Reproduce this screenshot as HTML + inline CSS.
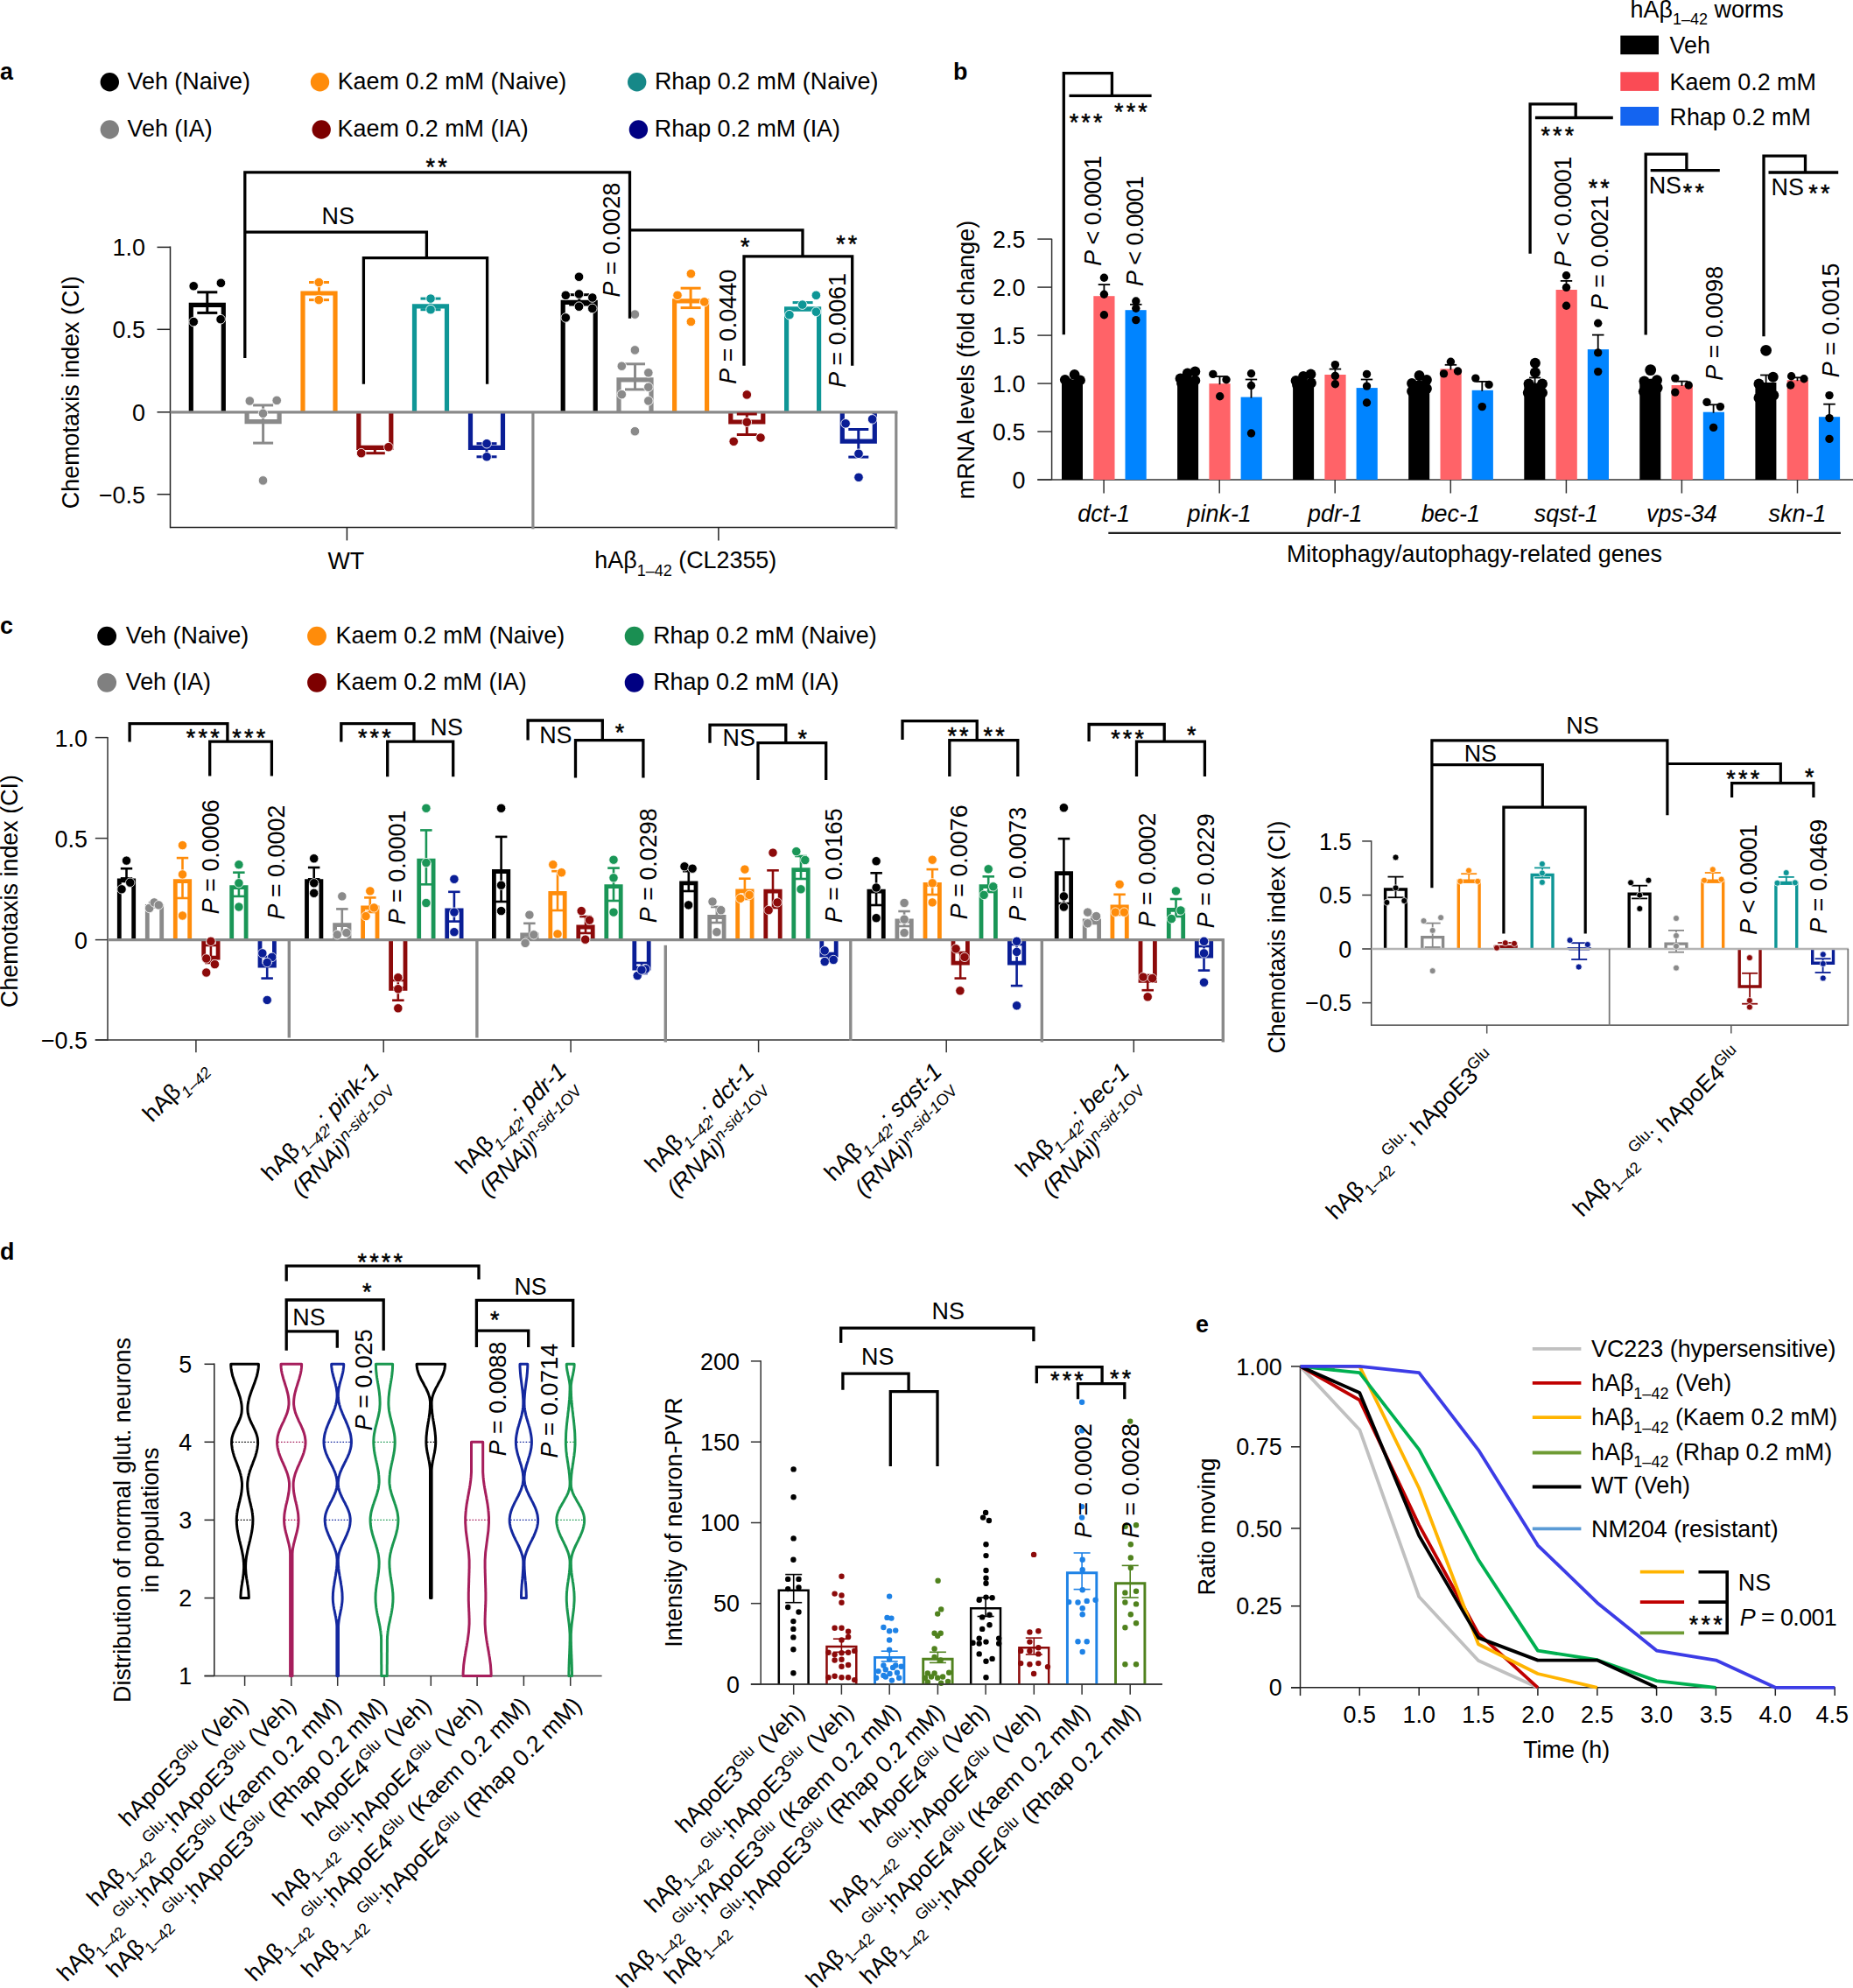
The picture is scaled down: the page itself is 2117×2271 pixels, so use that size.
<!DOCTYPE html>
<html><head><meta charset="utf-8"><title>Figure</title>
<style>
html,body{margin:0;padding:0;background:#fff;}
svg{display:block;}
text{font-family:"Liberation Sans",sans-serif;font-size:26.9px;fill:#000;}
</style></head><body>
<svg width="2117" height="2271" viewBox="0 0 2117 2271">
<rect width="2117" height="2271" fill="#fff"/>
<text font-weight="bold" font-size="30" x="0.0" y="91.0">a</text>
<circle cx="125.3" cy="93.8" r="10.7" fill="#000"/>
<text x="145.5" y="101.8">Veh (Naive)</text>
<circle cx="365.5" cy="93.8" r="10.7" fill="#ff8c0a"/>
<text x="385.7" y="101.8">Kaem 0.2 mM (Naive)</text>
<circle cx="727.7" cy="93.8" r="10.7" fill="#168888"/>
<text x="747.9" y="101.8">Rhap 0.2 mM (Naive)</text>
<circle cx="125.3" cy="148.0" r="10.7" fill="#808080"/>
<text x="145.5" y="155.6">Veh (IA)</text>
<circle cx="367.2" cy="148.0" r="10.7" fill="#7d0000"/>
<text x="385.6" y="155.6">Kaem 0.2 mM (IA)</text>
<circle cx="729.4" cy="148.0" r="10.7" fill="#000082"/>
<text x="747.8" y="155.6">Rhap 0.2 mM (IA)</text>
<line x1="194.5" y1="281.6" x2="194.5" y2="603.2" stroke="#222" stroke-width="1.5"/>
<line x1="194.5" y1="602.5" x2="1024.0" y2="602.5" stroke="#222" stroke-width="1.5"/>
<line x1="179.5" y1="282.4" x2="194.5" y2="282.4" stroke="#222" stroke-width="1.5"/>
<text text-anchor="end" font-size="27.4" x="166.0" y="292.2">1.0</text>
<line x1="179.5" y1="376.3" x2="194.5" y2="376.3" stroke="#222" stroke-width="1.5"/>
<text text-anchor="end" font-size="27.4" x="166.0" y="386.1">0.5</text>
<line x1="179.5" y1="470.8" x2="194.5" y2="470.8" stroke="#222" stroke-width="1.5"/>
<text text-anchor="end" font-size="27.4" x="166.0" y="480.6">0</text>
<line x1="179.5" y1="564.7" x2="194.5" y2="564.7" stroke="#222" stroke-width="1.5"/>
<text text-anchor="end" font-size="27.4" x="166.0" y="574.5">−0.5</text>
<text text-anchor="middle" transform="translate(90.3 448.2) rotate(-90)">Chemotaxis index (CI)</text>
<line x1="396.4" y1="602.5" x2="396.4" y2="617.4" stroke="#222" stroke-width="1.5"/>
<line x1="820.9" y1="602.5" x2="820.9" y2="617.4" stroke="#222" stroke-width="1.5"/>
<text text-anchor="middle" x="395.3" y="650.3">WT</text>
<text x="679.3" y="649.3">hAβ<tspan font-size="18" dy="8.5">1–42</tspan><tspan dy="-8.5"> (CL2355)</tspan></text>
<polyline points="218.3,470.8 218.3,348.4 255.3,348.4 255.3,470.8" fill="none" stroke="#000" stroke-width="5.2" stroke-linejoin="miter"/>
<polyline points="282.1,470.8 282.1,481.6 319.1,481.6 319.1,470.8" fill="none" stroke="#8a8a8a" stroke-width="5.2" stroke-linejoin="miter"/>
<polyline points="346.0,470.8 346.0,335.0 383.0,335.0 383.0,470.8" fill="none" stroke="#ff8c0a" stroke-width="5.2" stroke-linejoin="miter"/>
<polyline points="409.8,470.8 409.8,511.3 446.8,511.3 446.8,470.8" fill="none" stroke="#8c0a0a" stroke-width="5.2" stroke-linejoin="miter"/>
<polyline points="473.5,470.8 473.5,349.8 510.5,349.8 510.5,470.8" fill="none" stroke="#0e9696" stroke-width="5.2" stroke-linejoin="miter"/>
<polyline points="537.5,470.8 537.5,511.3 574.5,511.3 574.5,470.8" fill="none" stroke="#0a1e96" stroke-width="5.2" stroke-linejoin="miter"/>
<polyline points="643.2,470.8 643.2,345.3 680.2,345.3 680.2,470.8" fill="none" stroke="#000" stroke-width="5.2" stroke-linejoin="miter"/>
<polyline points="707.0,470.8 707.0,433.8 744.0,433.8 744.0,470.8" fill="none" stroke="#8a8a8a" stroke-width="5.2" stroke-linejoin="miter"/>
<polyline points="770.6,470.8 770.6,343.9 807.6,343.9 807.6,470.8" fill="none" stroke="#ff8c0a" stroke-width="5.2" stroke-linejoin="miter"/>
<polyline points="834.8,470.8 834.8,482.0 871.8,482.0 871.8,470.8" fill="none" stroke="#8c0a0a" stroke-width="5.2" stroke-linejoin="miter"/>
<polyline points="898.6,470.8 898.6,352.8 935.6,352.8 935.6,470.8" fill="none" stroke="#0e9696" stroke-width="5.2" stroke-linejoin="miter"/>
<polyline points="962.3,470.8 962.3,504.1 999.3,504.1 999.3,470.8" fill="none" stroke="#0a1e96" stroke-width="5.2" stroke-linejoin="miter"/>
<line x1="194.5" y1="470.8" x2="1025.4" y2="470.8" stroke="#8a8a8a" stroke-width="3.2"/>
<line x1="608.9" y1="470.8" x2="608.9" y2="604.3" stroke="#8a8a8a" stroke-width="3.2"/>
<line x1="1023.8" y1="470.8" x2="1023.8" y2="604.3" stroke="#8a8a8a" stroke-width="3.2"/>
<line x1="236.8" y1="333.8" x2="236.8" y2="357.4" stroke="#000" stroke-width="3"/>
<line x1="225.3" y1="333.8" x2="248.3" y2="333.8" stroke="#000" stroke-width="3"/>
<line x1="225.3" y1="357.4" x2="248.3" y2="357.4" stroke="#000" stroke-width="3"/>
<circle cx="221.2" cy="326.8" r="5.3" fill="#000" stroke="#fff" stroke-width="0.9"/>
<circle cx="252.4" cy="323.3" r="5.3" fill="#000" stroke="#fff" stroke-width="0.9"/>
<circle cx="221.2" cy="367.6" r="5.3" fill="#000" stroke="#fff" stroke-width="0.9"/>
<circle cx="252.1" cy="364.7" r="5.3" fill="#000" stroke="#fff" stroke-width="0.9"/>
<line x1="300.6" y1="462.9" x2="300.6" y2="506.1" stroke="#8a8a8a" stroke-width="3"/>
<line x1="289.1" y1="462.9" x2="312.1" y2="462.9" stroke="#8a8a8a" stroke-width="3"/>
<line x1="289.1" y1="506.1" x2="312.1" y2="506.1" stroke="#8a8a8a" stroke-width="3"/>
<circle cx="285.3" cy="458.0" r="5.3" fill="#8a8a8a" stroke="#fff" stroke-width="0.9"/>
<circle cx="316.2" cy="457.4" r="5.3" fill="#8a8a8a" stroke="#fff" stroke-width="0.9"/>
<circle cx="300.5" cy="472.3" r="5.3" fill="#8a8a8a" stroke="#fff" stroke-width="0.9"/>
<circle cx="300.5" cy="548.9" r="5.3" fill="#8a8a8a" stroke="#fff" stroke-width="0.9"/>
<line x1="364.5" y1="322.5" x2="364.5" y2="342.6" stroke="#ff8c0a" stroke-width="3"/>
<line x1="353.0" y1="322.5" x2="376.0" y2="322.5" stroke="#ff8c0a" stroke-width="3"/>
<line x1="353.0" y1="342.6" x2="376.0" y2="342.6" stroke="#ff8c0a" stroke-width="3"/>
<circle cx="364.3" cy="322.5" r="5.3" fill="#ff8c0a" stroke="#fff" stroke-width="0.9"/>
<circle cx="364.3" cy="342.6" r="5.3" fill="#ff8c0a" stroke="#fff" stroke-width="0.9"/>
<line x1="428.3" y1="510.5" x2="428.3" y2="517.7" stroke="#8c0a0a" stroke-width="3"/>
<line x1="416.8" y1="510.5" x2="439.8" y2="510.5" stroke="#8c0a0a" stroke-width="3"/>
<line x1="416.8" y1="517.7" x2="439.8" y2="517.7" stroke="#8c0a0a" stroke-width="3"/>
<circle cx="412.7" cy="517.7" r="5.3" fill="#8c0a0a" stroke="#fff" stroke-width="0.9"/>
<circle cx="443.9" cy="510.7" r="5.3" fill="#8c0a0a" stroke="#fff" stroke-width="0.9"/>
<line x1="492.0" y1="341.1" x2="492.0" y2="353.7" stroke="#0e9696" stroke-width="3"/>
<line x1="480.5" y1="341.1" x2="503.5" y2="341.1" stroke="#0e9696" stroke-width="3"/>
<line x1="480.5" y1="353.7" x2="503.5" y2="353.7" stroke="#0e9696" stroke-width="3"/>
<circle cx="492.0" cy="341.1" r="5.3" fill="#0e9696" stroke="#fff" stroke-width="0.9"/>
<circle cx="492.0" cy="353.7" r="5.3" fill="#0e9696" stroke="#fff" stroke-width="0.9"/>
<line x1="556.0" y1="506.7" x2="556.0" y2="521.8" stroke="#0a1e96" stroke-width="3"/>
<line x1="544.5" y1="506.7" x2="567.5" y2="506.7" stroke="#0a1e96" stroke-width="3"/>
<line x1="544.5" y1="521.8" x2="567.5" y2="521.8" stroke="#0a1e96" stroke-width="3"/>
<circle cx="556.1" cy="506.7" r="5.3" fill="#0a1e96" stroke="#fff" stroke-width="0.9"/>
<circle cx="556.1" cy="521.8" r="5.3" fill="#0a1e96" stroke="#fff" stroke-width="0.9"/>
<line x1="661.7" y1="336.7" x2="661.7" y2="348.0" stroke="#000" stroke-width="3"/>
<line x1="650.2" y1="336.7" x2="673.2" y2="336.7" stroke="#000" stroke-width="3"/>
<line x1="650.2" y1="348.0" x2="673.2" y2="348.0" stroke="#000" stroke-width="3"/>
<circle cx="661.5" cy="316.2" r="5.3" fill="#000" stroke="#fff" stroke-width="0.9"/>
<circle cx="646.3" cy="337.3" r="5.3" fill="#000" stroke="#fff" stroke-width="0.9"/>
<circle cx="661.5" cy="335.9" r="5.3" fill="#000" stroke="#fff" stroke-width="0.9"/>
<circle cx="676.8" cy="340.0" r="5.3" fill="#000" stroke="#fff" stroke-width="0.9"/>
<circle cx="661.5" cy="350.2" r="5.3" fill="#000" stroke="#fff" stroke-width="0.9"/>
<circle cx="676.8" cy="352.4" r="5.3" fill="#000" stroke="#fff" stroke-width="0.9"/>
<circle cx="646.3" cy="362.9" r="5.3" fill="#000" stroke="#fff" stroke-width="0.9"/>
<line x1="725.5" y1="415.8" x2="725.5" y2="444.9" stroke="#8a8a8a" stroke-width="3"/>
<line x1="714.0" y1="415.8" x2="737.0" y2="415.8" stroke="#8a8a8a" stroke-width="3"/>
<line x1="714.0" y1="444.9" x2="737.0" y2="444.9" stroke="#8a8a8a" stroke-width="3"/>
<circle cx="725.4" cy="359.1" r="5.3" fill="#8a8a8a" stroke="#fff" stroke-width="0.9"/>
<circle cx="725.4" cy="399.9" r="5.3" fill="#8a8a8a" stroke="#fff" stroke-width="0.9"/>
<circle cx="710.3" cy="418.2" r="5.3" fill="#8a8a8a" stroke="#fff" stroke-width="0.9"/>
<circle cx="740.8" cy="425.8" r="5.3" fill="#8a8a8a" stroke="#fff" stroke-width="0.9"/>
<circle cx="740.8" cy="442.2" r="5.3" fill="#8a8a8a" stroke="#fff" stroke-width="0.9"/>
<circle cx="710.3" cy="450.6" r="5.3" fill="#8a8a8a" stroke="#fff" stroke-width="0.9"/>
<circle cx="740.8" cy="457.9" r="5.3" fill="#8a8a8a" stroke="#fff" stroke-width="0.9"/>
<circle cx="725.4" cy="492.7" r="5.3" fill="#8a8a8a" stroke="#fff" stroke-width="0.9"/>
<line x1="789.1" y1="329.2" x2="789.1" y2="351.6" stroke="#ff8c0a" stroke-width="3"/>
<line x1="777.6" y1="329.2" x2="800.6" y2="329.2" stroke="#ff8c0a" stroke-width="3"/>
<line x1="777.6" y1="351.6" x2="800.6" y2="351.6" stroke="#ff8c0a" stroke-width="3"/>
<circle cx="789.4" cy="312.7" r="5.3" fill="#ff8c0a" stroke="#fff" stroke-width="0.9"/>
<circle cx="774.0" cy="337.3" r="5.3" fill="#ff8c0a" stroke="#fff" stroke-width="0.9"/>
<circle cx="804.7" cy="344.8" r="5.3" fill="#ff8c0a" stroke="#fff" stroke-width="0.9"/>
<circle cx="789.4" cy="367.5" r="5.3" fill="#ff8c0a" stroke="#fff" stroke-width="0.9"/>
<line x1="853.3" y1="473.0" x2="853.3" y2="496.5" stroke="#8c0a0a" stroke-width="3"/>
<line x1="841.8" y1="473.0" x2="864.8" y2="473.0" stroke="#8c0a0a" stroke-width="3"/>
<line x1="841.8" y1="496.5" x2="864.8" y2="496.5" stroke="#8c0a0a" stroke-width="3"/>
<circle cx="853.3" cy="450.9" r="5.3" fill="#8c0a0a" stroke="#fff" stroke-width="0.9"/>
<circle cx="853.3" cy="482.2" r="5.3" fill="#8c0a0a" stroke="#fff" stroke-width="0.9"/>
<circle cx="838.2" cy="504.3" r="5.3" fill="#8c0a0a" stroke="#fff" stroke-width="0.9"/>
<circle cx="869.0" cy="500.0" r="5.3" fill="#8c0a0a" stroke="#fff" stroke-width="0.9"/>
<line x1="917.1" y1="345.6" x2="917.1" y2="354.0" stroke="#0e9696" stroke-width="3"/>
<line x1="905.6" y1="345.6" x2="928.6" y2="345.6" stroke="#0e9696" stroke-width="3"/>
<line x1="905.6" y1="354.0" x2="928.6" y2="354.0" stroke="#0e9696" stroke-width="3"/>
<circle cx="932.4" cy="337.3" r="5.3" fill="#0e9696" stroke="#fff" stroke-width="0.9"/>
<circle cx="916.7" cy="348.1" r="5.3" fill="#0e9696" stroke="#fff" stroke-width="0.9"/>
<circle cx="901.9" cy="359.7" r="5.3" fill="#0e9696" stroke="#fff" stroke-width="0.9"/>
<circle cx="932.4" cy="356.2" r="5.3" fill="#0e9696" stroke="#fff" stroke-width="0.9"/>
<line x1="980.8" y1="490.5" x2="980.8" y2="522.1" stroke="#0a1e96" stroke-width="3"/>
<line x1="969.3" y1="490.5" x2="992.3" y2="490.5" stroke="#0a1e96" stroke-width="3"/>
<line x1="969.3" y1="522.1" x2="992.3" y2="522.1" stroke="#0a1e96" stroke-width="3"/>
<circle cx="966.1" cy="483.8" r="5.3" fill="#0a1e96" stroke="#fff" stroke-width="0.9"/>
<circle cx="996.6" cy="478.9" r="5.3" fill="#0a1e96" stroke="#fff" stroke-width="0.9"/>
<circle cx="981.0" cy="518.3" r="5.3" fill="#0a1e96" stroke="#fff" stroke-width="0.9"/>
<circle cx="981.0" cy="545.3" r="5.3" fill="#0a1e96" stroke="#fff" stroke-width="0.9"/>
<polyline points="279.8,409.0 279.8,196.8 719.5,196.8 719.5,363.7" fill="none" stroke="#000" stroke-width="3.3" stroke-linejoin="miter"/>
<polyline points="279.8,265.2 487.4,265.2 487.4,294.6" fill="none" stroke="#000" stroke-width="3.3" stroke-linejoin="miter"/>
<polyline points="415.4,438.7 415.4,294.6 556.6,294.6 556.6,438.7" fill="none" stroke="#000" stroke-width="3.3" stroke-linejoin="miter"/>
<polyline points="719.5,262.8 917.0,262.8 917.0,292.8" fill="none" stroke="#000" stroke-width="3.3" stroke-linejoin="miter"/>
<polyline points="850.0,417.7 850.0,292.8 973.7,292.8 973.7,417.7" fill="none" stroke="#000" stroke-width="3.3" stroke-linejoin="miter"/>
<text font-size="31" x="486.6" y="200.3" style="letter-spacing:3.2px" stroke="#000" stroke-width="0.5">**</text>
<text x="367.6" y="255.6">NS</text>
<text font-size="31" x="845.9" y="290.9" style="letter-spacing:3.2px" stroke="#000" stroke-width="0.5">*</text>
<text font-size="31" x="955.2" y="287.9" style="letter-spacing:3.2px" stroke="#000" stroke-width="0.5">**</text>
<text transform="translate(707.9 339.4) rotate(-90)"><tspan font-style="italic">P</tspan> = 0.0028</text>
<text transform="translate(840.6 438.7) rotate(-90)"><tspan font-style="italic">P</tspan> = 0.0440</text>
<text transform="translate(965.6 442.8) rotate(-90)"><tspan font-style="italic">P</tspan> = 0.0061</text>
<text font-weight="bold" font-size="30" x="1089.0" y="91.0">b</text>
<text x="1862.6" y="19.7">hAβ<tspan font-size="18" dy="8.5">1–42</tspan><tspan dy="-8.5"> worms</tspan></text>
<rect x="1851.3" y="40.6" width="43.7" height="21.6" fill="#000"/>
<text x="1907.5" y="61.2">Veh</text>
<rect x="1851.3" y="82.3" width="43.7" height="21.6" fill="#fa4b55"/>
<text x="1907.5" y="102.9">Kaem 0.2 mM</text>
<rect x="1851.3" y="122.0" width="43.7" height="21.6" fill="#1464f0"/>
<text x="1907.5" y="142.6">Rhap 0.2 mM</text>
<line x1="1201.6" y1="272.8" x2="1201.6" y2="548.0" stroke="#333" stroke-width="1.5"/>
<line x1="1185.3" y1="548.0" x2="2117.0" y2="548.0" stroke="#333" stroke-width="1.5"/>
<line x1="1185.3" y1="548.0" x2="1201.6" y2="548.0" stroke="#333" stroke-width="1.5"/>
<text text-anchor="end" x="1171.5" y="557.6">0</text>
<line x1="1185.3" y1="493.0" x2="1201.6" y2="493.0" stroke="#333" stroke-width="1.5"/>
<text text-anchor="end" x="1171.5" y="502.6">0.5</text>
<line x1="1185.3" y1="438.1" x2="1201.6" y2="438.1" stroke="#333" stroke-width="1.5"/>
<text text-anchor="end" x="1171.5" y="447.7">1.0</text>
<line x1="1185.3" y1="383.1" x2="1201.6" y2="383.1" stroke="#333" stroke-width="1.5"/>
<text text-anchor="end" x="1171.5" y="392.7">1.5</text>
<line x1="1185.3" y1="328.1" x2="1201.6" y2="328.1" stroke="#333" stroke-width="1.5"/>
<text text-anchor="end" x="1171.5" y="337.7">2.0</text>
<line x1="1185.3" y1="273.1" x2="1201.6" y2="273.1" stroke="#333" stroke-width="1.5"/>
<text text-anchor="end" x="1171.5" y="282.7">2.5</text>
<text text-anchor="middle" transform="translate(1112.5 411.0) rotate(-90)">mRNA levels (fold change)</text>
<rect x="1213.0" y="433.8" width="24.0" height="114.2" fill="#000"/>
<rect x="1249.3" y="338.2" width="24.2" height="209.8" fill="#ff6368"/>
<rect x="1285.5" y="354.2" width="24.2" height="193.8" fill="#0084ff"/>
<line x1="1261.1" y1="548.0" x2="1261.1" y2="563.5" stroke="#333" stroke-width="1.5"/>
<text text-anchor="middle" font-style="italic" x="1261.1" y="595.6">dct-1</text>
<rect x="1345.1" y="433.8" width="24.0" height="114.2" fill="#000"/>
<rect x="1381.4" y="438.2" width="24.2" height="109.8" fill="#ff6368"/>
<rect x="1417.6" y="453.6" width="24.2" height="94.4" fill="#0084ff"/>
<line x1="1393.2" y1="548.0" x2="1393.2" y2="563.5" stroke="#333" stroke-width="1.5"/>
<text text-anchor="middle" font-style="italic" x="1393.2" y="595.6">pink-1</text>
<rect x="1477.1" y="435.0" width="24.0" height="113.0" fill="#000"/>
<rect x="1513.4" y="428.0" width="24.2" height="120.0" fill="#ff6368"/>
<rect x="1549.6" y="443.1" width="24.2" height="104.9" fill="#0084ff"/>
<line x1="1525.2" y1="548.0" x2="1525.2" y2="563.5" stroke="#333" stroke-width="1.5"/>
<text text-anchor="middle" font-style="italic" x="1525.2" y="595.6">pdr-1</text>
<rect x="1609.2" y="437.0" width="24.0" height="111.0" fill="#000"/>
<rect x="1645.5" y="421.4" width="24.2" height="126.6" fill="#ff6368"/>
<rect x="1681.7" y="445.8" width="24.2" height="102.2" fill="#0084ff"/>
<line x1="1657.3" y1="548.0" x2="1657.3" y2="563.5" stroke="#333" stroke-width="1.5"/>
<text text-anchor="middle" font-style="italic" x="1657.3" y="595.6">bec-1</text>
<rect x="1741.3" y="437.6" width="24.0" height="110.4" fill="#000"/>
<rect x="1777.6" y="331.0" width="24.2" height="217.0" fill="#ff6368"/>
<rect x="1813.8" y="399.1" width="24.2" height="148.9" fill="#0084ff"/>
<line x1="1789.4" y1="548.0" x2="1789.4" y2="563.5" stroke="#333" stroke-width="1.5"/>
<text text-anchor="middle" font-style="italic" x="1789.4" y="595.6">sqst-1</text>
<rect x="1873.3" y="432.7" width="24.0" height="115.3" fill="#000"/>
<rect x="1909.6" y="440.0" width="24.2" height="108.0" fill="#ff6368"/>
<rect x="1945.8" y="470.7" width="24.2" height="77.3" fill="#0084ff"/>
<line x1="1921.4" y1="548.0" x2="1921.4" y2="563.5" stroke="#333" stroke-width="1.5"/>
<text text-anchor="middle" font-style="italic" x="1921.4" y="595.6">vps-34</text>
<rect x="2005.4" y="437.0" width="24.0" height="111.0" fill="#000"/>
<rect x="2041.7" y="434.2" width="24.2" height="113.8" fill="#ff6368"/>
<rect x="2077.9" y="476.2" width="24.2" height="71.8" fill="#0084ff"/>
<line x1="2053.5" y1="548.0" x2="2053.5" y2="563.5" stroke="#333" stroke-width="1.5"/>
<text text-anchor="middle" font-style="italic" x="2053.5" y="595.6">skn-1</text>
<line x1="1266.3" y1="608.8" x2="2103.0" y2="608.8" stroke="#222" stroke-width="2.2"/>
<text text-anchor="middle" x="1684.5" y="641.6">Mitophagy/autophagy-related genes</text>
<circle cx="1216.8" cy="433.8" r="5.9" fill="#000"/>
<circle cx="1227.6" cy="428.0" r="5.9" fill="#000"/>
<circle cx="1234.0" cy="434.4" r="5.9" fill="#000"/>
<circle cx="1221.0" cy="438.0" r="5.9" fill="#000"/>
<circle cx="1230.0" cy="439.0" r="5.9" fill="#000"/>
<circle cx="1348.5" cy="432.4" r="5.9" fill="#000"/>
<circle cx="1356.7" cy="426.5" r="5.9" fill="#000"/>
<circle cx="1365.4" cy="424.5" r="5.9" fill="#000"/>
<circle cx="1365.4" cy="434.7" r="5.9" fill="#000"/>
<circle cx="1356.7" cy="433.8" r="5.9" fill="#000"/>
<circle cx="1350.0" cy="438.0" r="5.9" fill="#000"/>
<circle cx="1480.5" cy="435.0" r="5.9" fill="#000"/>
<circle cx="1489.0" cy="430.0" r="5.9" fill="#000"/>
<circle cx="1497.5" cy="427.5" r="5.9" fill="#000"/>
<circle cx="1498.0" cy="437.5" r="5.9" fill="#000"/>
<circle cx="1489.0" cy="438.0" r="5.9" fill="#000"/>
<circle cx="1482.0" cy="440.0" r="5.9" fill="#000"/>
<circle cx="1613.0" cy="438.0" r="5.9" fill="#000"/>
<circle cx="1621.5" cy="429.0" r="5.9" fill="#000"/>
<circle cx="1630.0" cy="434.0" r="5.9" fill="#000"/>
<circle cx="1613.0" cy="447.0" r="5.9" fill="#000"/>
<circle cx="1630.0" cy="444.0" r="5.9" fill="#000"/>
<circle cx="1621.5" cy="440.0" r="5.9" fill="#000"/>
<circle cx="1753.9" cy="414.7" r="6" fill="#000"/>
<circle cx="1753.9" cy="425.5" r="6" fill="#000"/>
<circle cx="1746.6" cy="438.5" r="6" fill="#000"/>
<circle cx="1762.0" cy="438.5" r="6" fill="#000"/>
<circle cx="1745.8" cy="448.7" r="6" fill="#000"/>
<circle cx="1762.0" cy="448.7" r="6" fill="#000"/>
<line x1="1753.6" y1="431.5" x2="1753.6" y2="438.0" stroke="#000" stroke-width="1.8"/>
<line x1="1747.1" y1="431.5" x2="1760.1" y2="431.5" stroke="#000" stroke-width="1.8"/>
<circle cx="1885.7" cy="422.6" r="6.4" fill="#000"/>
<circle cx="1878.5" cy="435.6" r="6" fill="#000"/>
<circle cx="1893.0" cy="434.2" r="6" fill="#000"/>
<circle cx="1877.9" cy="447.2" r="6" fill="#000"/>
<circle cx="1893.6" cy="442.9" r="6" fill="#000"/>
<circle cx="1885.7" cy="440.0" r="6" fill="#000"/>
<circle cx="2017.6" cy="400.3" r="6.4" fill="#000"/>
<circle cx="2025.7" cy="430.7" r="6" fill="#000"/>
<circle cx="2009.5" cy="438.5" r="6" fill="#000"/>
<circle cx="2009.5" cy="454.4" r="6" fill="#000"/>
<circle cx="2026.3" cy="451.5" r="6" fill="#000"/>
<circle cx="2017.6" cy="445.0" r="6" fill="#000"/>
<line x1="2017.6" y1="428.5" x2="2017.6" y2="437.0" stroke="#000" stroke-width="1.8"/>
<line x1="2011.1" y1="428.5" x2="2024.1" y2="428.5" stroke="#000" stroke-width="1.8"/>
<line x1="1261.4" y1="325.1" x2="1261.4" y2="339.2" stroke="#000" stroke-width="1.8"/>
<line x1="1254.7" y1="325.1" x2="1268.2" y2="325.1" stroke="#000" stroke-width="1.8"/>
<circle cx="1261.4" cy="317.2" r="4.7" fill="#000"/>
<circle cx="1261.4" cy="336.2" r="4.7" fill="#000"/>
<circle cx="1261.4" cy="359.8" r="4.7" fill="#000"/>
<line x1="1297.8" y1="347.8" x2="1297.8" y2="355.2" stroke="#000" stroke-width="1.8"/>
<line x1="1291.0" y1="347.8" x2="1304.5" y2="347.8" stroke="#000" stroke-width="1.8"/>
<circle cx="1297.8" cy="344.0" r="4.7" fill="#000"/>
<circle cx="1297.8" cy="352.2" r="4.7" fill="#000"/>
<circle cx="1297.8" cy="365.6" r="4.7" fill="#000"/>
<line x1="1393.5" y1="430.0" x2="1393.5" y2="439.2" stroke="#000" stroke-width="1.8"/>
<line x1="1386.8" y1="430.0" x2="1400.2" y2="430.0" stroke="#000" stroke-width="1.8"/>
<circle cx="1385.8" cy="427.4" r="4.7" fill="#000"/>
<circle cx="1401.0" cy="433.8" r="4.7" fill="#000"/>
<circle cx="1393.7" cy="452.7" r="4.7" fill="#000"/>
<line x1="1429.5" y1="433.5" x2="1429.5" y2="454.6" stroke="#000" stroke-width="1.8"/>
<line x1="1422.8" y1="433.5" x2="1436.2" y2="433.5" stroke="#000" stroke-width="1.8"/>
<circle cx="1429.5" cy="426.8" r="4.7" fill="#000"/>
<circle cx="1429.5" cy="440.5" r="4.7" fill="#000"/>
<circle cx="1429.5" cy="495.0" r="4.7" fill="#000"/>
<line x1="1525.4" y1="421.6" x2="1525.4" y2="429.0" stroke="#000" stroke-width="1.8"/>
<line x1="1518.7" y1="421.6" x2="1532.2" y2="421.6" stroke="#000" stroke-width="1.8"/>
<circle cx="1525.4" cy="416.6" r="4.7" fill="#000"/>
<circle cx="1525.4" cy="429.4" r="4.7" fill="#000"/>
<circle cx="1525.4" cy="438.7" r="4.7" fill="#000"/>
<line x1="1561.5" y1="433.5" x2="1561.5" y2="444.1" stroke="#000" stroke-width="1.8"/>
<line x1="1554.8" y1="433.5" x2="1568.2" y2="433.5" stroke="#000" stroke-width="1.8"/>
<circle cx="1561.5" cy="427.4" r="4.7" fill="#000"/>
<circle cx="1561.5" cy="441.1" r="4.7" fill="#000"/>
<circle cx="1561.5" cy="460.0" r="4.7" fill="#000"/>
<line x1="1657.4" y1="416.8" x2="1657.4" y2="422.4" stroke="#000" stroke-width="1.8"/>
<line x1="1650.7" y1="416.8" x2="1664.2" y2="416.8" stroke="#000" stroke-width="1.8"/>
<circle cx="1657.4" cy="413.3" r="4.7" fill="#000"/>
<circle cx="1649.5" cy="426.9" r="4.7" fill="#000"/>
<circle cx="1665.5" cy="424.0" r="4.7" fill="#000"/>
<line x1="1693.3" y1="435.9" x2="1693.3" y2="446.8" stroke="#000" stroke-width="1.8"/>
<line x1="1686.5" y1="435.9" x2="1700.0" y2="435.9" stroke="#000" stroke-width="1.8"/>
<circle cx="1685.8" cy="432.1" r="4.7" fill="#000"/>
<circle cx="1701.1" cy="439.4" r="4.7" fill="#000"/>
<circle cx="1693.3" cy="464.6" r="4.7" fill="#000"/>
<line x1="1789.5" y1="320.9" x2="1789.5" y2="332.0" stroke="#000" stroke-width="1.8"/>
<line x1="1782.8" y1="320.9" x2="1796.2" y2="320.9" stroke="#000" stroke-width="1.8"/>
<circle cx="1789.5" cy="314.8" r="4.7" fill="#000"/>
<circle cx="1789.5" cy="328.4" r="4.7" fill="#000"/>
<circle cx="1789.5" cy="349.3" r="4.7" fill="#000"/>
<line x1="1825.7" y1="382.6" x2="1825.7" y2="400.1" stroke="#000" stroke-width="1.8"/>
<line x1="1819.0" y1="382.6" x2="1832.5" y2="382.6" stroke="#000" stroke-width="1.8"/>
<circle cx="1825.7" cy="369.3" r="4.7" fill="#000"/>
<circle cx="1825.7" cy="402.9" r="4.7" fill="#000"/>
<circle cx="1825.7" cy="424.6" r="4.7" fill="#000"/>
<line x1="1921.5" y1="435.6" x2="1921.5" y2="441.0" stroke="#000" stroke-width="1.8"/>
<line x1="1914.8" y1="435.6" x2="1928.2" y2="435.6" stroke="#000" stroke-width="1.8"/>
<circle cx="1913.8" cy="432.1" r="4.7" fill="#000"/>
<circle cx="1929.2" cy="440.0" r="4.7" fill="#000"/>
<circle cx="1913.8" cy="448.1" r="4.7" fill="#000"/>
<line x1="1957.6" y1="462.3" x2="1957.6" y2="471.7" stroke="#000" stroke-width="1.8"/>
<line x1="1950.8" y1="462.3" x2="1964.3" y2="462.3" stroke="#000" stroke-width="1.8"/>
<circle cx="1950.0" cy="459.4" r="4.7" fill="#000"/>
<circle cx="1965.4" cy="464.6" r="4.7" fill="#000"/>
<circle cx="1957.6" cy="488.4" r="4.7" fill="#000"/>
<line x1="2053.5" y1="431.3" x2="2053.5" y2="435.2" stroke="#000" stroke-width="1.8"/>
<line x1="2046.8" y1="431.3" x2="2060.2" y2="431.3" stroke="#000" stroke-width="1.8"/>
<circle cx="2046.6" cy="429.8" r="4.7" fill="#000"/>
<circle cx="2061.0" cy="432.7" r="4.7" fill="#000"/>
<circle cx="2045.7" cy="440.0" r="4.7" fill="#000"/>
<line x1="2090.0" y1="461.7" x2="2090.0" y2="477.2" stroke="#000" stroke-width="1.8"/>
<line x1="2083.2" y1="461.7" x2="2096.8" y2="461.7" stroke="#000" stroke-width="1.8"/>
<circle cx="2090.0" cy="451.6" r="4.7" fill="#000"/>
<circle cx="2090.0" cy="477.6" r="4.7" fill="#000"/>
<circle cx="2090.0" cy="501.4" r="4.7" fill="#000"/>
<polyline points="1215.3,382.2 1215.3,83.6 1270.4,83.6 1270.4,109.3" fill="none" stroke="#000" stroke-width="3.3" stroke-linejoin="miter"/>
<line x1="1221.5" y1="109.3" x2="1315.6" y2="109.3" stroke="#000" stroke-width="3.3"/>
<text font-size="31" x="1221.7" y="149.0" style="letter-spacing:3.2px" stroke="#000" stroke-width="0.5">***</text>
<text font-size="31" x="1273.0" y="137.4" style="letter-spacing:3.2px" stroke="#000" stroke-width="0.5">***</text>
<text transform="translate(1257.6 303.7) rotate(-90)" textLength="126" lengthAdjust="spacing"><tspan font-style="italic">P</tspan> &lt; 0.0001</text>
<text transform="translate(1305.7 327.0) rotate(-90)" textLength="126" lengthAdjust="spacing"><tspan font-style="italic">P</tspan> &lt; 0.0001</text>
<polyline points="1748.1,289.8 1748.1,118.8 1800.2,118.8 1800.2,134.5" fill="none" stroke="#000" stroke-width="3.3" stroke-linejoin="miter"/>
<line x1="1753.9" y1="134.5" x2="1842.8" y2="134.5" stroke="#000" stroke-width="3.3"/>
<text font-size="31" x="1760.4" y="163.6" style="letter-spacing:3.2px" stroke="#000" stroke-width="0.5">***</text>
<text transform="translate(1795.0 304.9) rotate(-90)" textLength="126" lengthAdjust="spacing"><tspan font-style="italic">P</tspan> &lt; 0.0001</text>
<text transform="translate(1837.0 354.1) rotate(-90)"><tspan font-style="italic">P</tspan> = 0.0021</text>
<text font-size="31" x="1814.7" y="223.6" style="letter-spacing:3.2px" stroke="#000" stroke-width="0.5">**</text>
<polyline points="1880.2,382.6 1880.2,176.2 1926.9,176.2 1926.9,194.7" fill="none" stroke="#000" stroke-width="3.3" stroke-linejoin="miter"/>
<line x1="1885.7" y1="194.7" x2="1964.8" y2="194.7" stroke="#000" stroke-width="3.3"/>
<text x="1883.7" y="221.2">NS</text>
<text font-size="31" x="1922.8" y="229.4" style="letter-spacing:3.2px" stroke="#000" stroke-width="0.5">**</text>
<text transform="translate(1967.5 434.7) rotate(-90)"><tspan font-style="italic">P</tspan> = 0.0098</text>
<polyline points="2015.0,384.3 2015.0,178.2 2062.5,178.2 2062.5,197.0" fill="none" stroke="#000" stroke-width="3.3" stroke-linejoin="miter"/>
<line x1="2020.5" y1="197.0" x2="2100.2" y2="197.0" stroke="#000" stroke-width="3.3"/>
<text x="2023.6" y="222.6">NS</text>
<text font-size="31" x="2066.3" y="230.4" style="letter-spacing:3.2px" stroke="#000" stroke-width="0.5">**</text>
<text transform="translate(2101.0 431.3) rotate(-90)"><tspan font-style="italic">P</tspan> = 0.0015</text>
<text font-weight="bold" font-size="30" x="0.0" y="723.5">c</text>
<circle cx="122.1" cy="726.7" r="10.9" fill="#000"/>
<text x="143.7" y="735.3">Veh (Naive)</text>
<circle cx="362.0" cy="726.7" r="10.9" fill="#ff8c0a"/>
<text x="383.6" y="735.3">Kaem 0.2 mM (Naive)</text>
<circle cx="724.6" cy="726.7" r="10.9" fill="#1a8f52"/>
<text x="746.2" y="735.3">Rhap 0.2 mM (Naive)</text>
<circle cx="122.1" cy="779.8" r="10.9" fill="#808080"/>
<text x="143.7" y="788.4">Veh (IA)</text>
<circle cx="362.0" cy="779.8" r="10.9" fill="#7d0000"/>
<text x="383.6" y="788.4">Kaem 0.2 mM (IA)</text>
<circle cx="724.6" cy="779.8" r="10.9" fill="#000082"/>
<text x="746.2" y="788.4">Rhap 0.2 mM (IA)</text>
<line x1="123.0" y1="842.0" x2="123.0" y2="1188.7" stroke="#333" stroke-width="1.5"/>
<line x1="108.8" y1="1188.0" x2="1398.0" y2="1188.0" stroke="#333" stroke-width="1.5"/>
<line x1="108.8" y1="842.6" x2="123.0" y2="842.6" stroke="#333" stroke-width="1.5"/>
<text text-anchor="end" font-size="28" x="100.0" y="852.6">1.0</text>
<line x1="108.8" y1="957.6" x2="123.0" y2="957.6" stroke="#333" stroke-width="1.5"/>
<text text-anchor="end" font-size="28" x="100.0" y="967.6">0.5</text>
<line x1="108.8" y1="1073.6" x2="123.0" y2="1073.6" stroke="#333" stroke-width="1.5"/>
<text text-anchor="end" font-size="28" x="100.0" y="1083.6">0</text>
<line x1="108.8" y1="1188.0" x2="123.0" y2="1188.0" stroke="#333" stroke-width="1.5"/>
<text text-anchor="end" font-size="28" x="100.0" y="1198.0">−0.5</text>
<text text-anchor="middle" transform="translate(19.8 1018.0) rotate(-90)">Chemotaxis index (CI)</text>
<polyline points="136.3,1073.6 136.3,1005.8 152.7,1005.8 152.7,1073.6" fill="none" stroke="#000" stroke-width="4.8" stroke-linejoin="miter"/>
<polyline points="168.3,1073.6 168.3,1035.4 184.7,1035.4 184.7,1073.6" fill="none" stroke="#8a8a8a" stroke-width="4.8" stroke-linejoin="miter"/>
<polyline points="200.3,1073.6 200.3,1006.7 216.7,1006.7 216.7,1073.6" fill="none" stroke="#ff8c0a" stroke-width="4.8" stroke-linejoin="miter"/>
<polyline points="232.7,1073.6 232.7,1094.1 249.1,1094.1 249.1,1073.6" fill="none" stroke="#8c0a0a" stroke-width="4.8" stroke-linejoin="miter"/>
<polyline points="264.7,1073.6 264.7,1013.6 281.1,1013.6 281.1,1073.6" fill="none" stroke="#1a9657" stroke-width="4.8" stroke-linejoin="miter"/>
<polyline points="297.0,1073.6 297.0,1103.1 313.4,1103.1 313.4,1073.6" fill="none" stroke="#0a1e96" stroke-width="4.8" stroke-linejoin="miter"/>
<polyline points="350.5,1073.6 350.5,1006.7 366.9,1006.7 366.9,1073.6" fill="none" stroke="#000" stroke-width="4.8" stroke-linejoin="miter"/>
<polyline points="382.6,1073.6 382.6,1056.6 399.0,1056.6 399.0,1073.6" fill="none" stroke="#8a8a8a" stroke-width="4.8" stroke-linejoin="miter"/>
<polyline points="414.6,1073.6 414.6,1036.9 431.0,1036.9 431.0,1073.6" fill="none" stroke="#ff8c0a" stroke-width="4.8" stroke-linejoin="miter"/>
<polyline points="446.6,1073.6 446.6,1129.4 463.0,1129.4 463.0,1073.6" fill="none" stroke="#8c0a0a" stroke-width="4.8" stroke-linejoin="miter"/>
<polyline points="478.7,1073.6 478.7,983.1 495.1,983.1 495.1,1073.6" fill="none" stroke="#1a9657" stroke-width="4.8" stroke-linejoin="miter"/>
<polyline points="510.7,1073.6 510.7,1039.9 527.1,1039.9 527.1,1073.6" fill="none" stroke="#0a1e96" stroke-width="4.8" stroke-linejoin="miter"/>
<polyline points="564.4,1073.6 564.4,995.5 580.8,995.5 580.8,1073.6" fill="none" stroke="#000" stroke-width="4.8" stroke-linejoin="miter"/>
<polyline points="596.7,1073.6 596.7,1068.0 613.1,1068.0 613.1,1073.6" fill="none" stroke="#8a8a8a" stroke-width="4.8" stroke-linejoin="miter"/>
<polyline points="628.8,1073.6 628.8,1020.3 645.2,1020.3 645.2,1073.6" fill="none" stroke="#ff8c0a" stroke-width="4.8" stroke-linejoin="miter"/>
<polyline points="660.8,1073.6 660.8,1059.0 677.2,1059.0 677.2,1073.6" fill="none" stroke="#8c0a0a" stroke-width="4.8" stroke-linejoin="miter"/>
<polyline points="692.8,1073.6 692.8,1012.7 709.2,1012.7 709.2,1073.6" fill="none" stroke="#1a9657" stroke-width="4.8" stroke-linejoin="miter"/>
<polyline points="724.8,1073.6 724.8,1106.2 741.2,1106.2 741.2,1073.6" fill="none" stroke="#0a1e96" stroke-width="4.8" stroke-linejoin="miter"/>
<polyline points="778.6,1073.6 778.6,1008.8 795.0,1008.8 795.0,1073.6" fill="none" stroke="#000" stroke-width="4.8" stroke-linejoin="miter"/>
<polyline points="810.7,1073.6 810.7,1047.5 827.1,1047.5 827.1,1073.6" fill="none" stroke="#8a8a8a" stroke-width="4.8" stroke-linejoin="miter"/>
<polyline points="842.7,1073.6 842.7,1017.9 859.1,1017.9 859.1,1073.6" fill="none" stroke="#ff8c0a" stroke-width="4.8" stroke-linejoin="miter"/>
<polyline points="874.8,1073.6 874.8,1018.2 891.2,1018.2 891.2,1073.6" fill="none" stroke="#8c0a0a" stroke-width="4.8" stroke-linejoin="miter"/>
<polyline points="906.8,1073.6 906.8,993.7 923.2,993.7 923.2,1073.6" fill="none" stroke="#1a9657" stroke-width="4.8" stroke-linejoin="miter"/>
<polyline points="938.8,1073.6 938.8,1091.0 955.2,1091.0 955.2,1073.6" fill="none" stroke="#0a1e96" stroke-width="4.8" stroke-linejoin="miter"/>
<polyline points="992.9,1073.6 992.9,1018.2 1009.3,1018.2 1009.3,1073.6" fill="none" stroke="#000" stroke-width="4.8" stroke-linejoin="miter"/>
<polyline points="1024.9,1073.6 1024.9,1052.0 1041.3,1052.0 1041.3,1073.6" fill="none" stroke="#8a8a8a" stroke-width="4.8" stroke-linejoin="miter"/>
<polyline points="1057.0,1073.6 1057.0,1010.3 1073.4,1010.3 1073.4,1073.6" fill="none" stroke="#ff8c0a" stroke-width="4.8" stroke-linejoin="miter"/>
<polyline points="1089.0,1073.6 1089.0,1100.1 1105.4,1100.1 1105.4,1073.6" fill="none" stroke="#8c0a0a" stroke-width="4.8" stroke-linejoin="miter"/>
<polyline points="1121.0,1073.6 1121.0,1012.7 1137.4,1012.7 1137.4,1073.6" fill="none" stroke="#1a9657" stroke-width="4.8" stroke-linejoin="miter"/>
<polyline points="1153.4,1073.6 1153.4,1100.1 1169.8,1100.1 1169.8,1073.6" fill="none" stroke="#0a1e96" stroke-width="4.8" stroke-linejoin="miter"/>
<polyline points="1207.2,1073.6 1207.2,997.6 1223.6,997.6 1223.6,1073.6" fill="none" stroke="#000" stroke-width="4.8" stroke-linejoin="miter"/>
<polyline points="1239.2,1073.6 1239.2,1052.0 1255.6,1052.0 1255.6,1073.6" fill="none" stroke="#8a8a8a" stroke-width="4.8" stroke-linejoin="miter"/>
<polyline points="1270.9,1073.6 1270.9,1036.0 1287.3,1036.0 1287.3,1073.6" fill="none" stroke="#ff8c0a" stroke-width="4.8" stroke-linejoin="miter"/>
<polyline points="1303.0,1073.6 1303.0,1120.4 1319.4,1120.4 1319.4,1073.6" fill="none" stroke="#8c0a0a" stroke-width="4.8" stroke-linejoin="miter"/>
<polyline points="1335.3,1073.6 1335.3,1039.3 1351.7,1039.3 1351.7,1073.6" fill="none" stroke="#1a9657" stroke-width="4.8" stroke-linejoin="miter"/>
<polyline points="1367.3,1073.6 1367.3,1092.0 1383.7,1092.0 1383.7,1073.6" fill="none" stroke="#0a1e96" stroke-width="4.8" stroke-linejoin="miter"/>
<line x1="123.0" y1="1073.6" x2="1398.9" y2="1073.6" stroke="#8a8a8a" stroke-width="3.2"/>
<line x1="330.3" y1="1073.6" x2="330.3" y2="1185.5" stroke="#8a8a8a" stroke-width="3.4"/>
<line x1="544.9" y1="1073.6" x2="544.9" y2="1185.5" stroke="#8a8a8a" stroke-width="3.4"/>
<line x1="760.3" y1="1079.8" x2="760.3" y2="1190.5" stroke="#8a8a8a" stroke-width="3.4"/>
<line x1="971.8" y1="1073.6" x2="971.8" y2="1189.0" stroke="#8a8a8a" stroke-width="3.4"/>
<line x1="1190.3" y1="1073.6" x2="1190.3" y2="1190.5" stroke="#8a8a8a" stroke-width="3.4"/>
<line x1="1397.3" y1="1073.6" x2="1397.3" y2="1190.5" stroke="#8a8a8a" stroke-width="3.4"/>
<line x1="144.5" y1="992.2" x2="144.5" y2="1003.4" stroke="#000" stroke-width="2.6"/>
<line x1="137.8" y1="992.2" x2="151.2" y2="992.2" stroke="#000" stroke-width="2.6"/>
<line x1="137.8" y1="1003.4" x2="151.2" y2="1003.4" stroke="#000" stroke-width="2.6"/>
<circle cx="144.5" cy="983.1" r="5.2" fill="#000" stroke="#fff" stroke-width="0.8"/>
<circle cx="139.0" cy="1015.8" r="5.2" fill="#000" stroke="#fff" stroke-width="0.8"/>
<circle cx="148.7" cy="1008.2" r="5.2" fill="#000" stroke="#fff" stroke-width="0.8"/>
<line x1="176.5" y1="1031.0" x2="176.5" y2="1035.0" stroke="#8a8a8a" stroke-width="2.6"/>
<line x1="169.8" y1="1031.0" x2="183.2" y2="1031.0" stroke="#8a8a8a" stroke-width="2.6"/>
<line x1="169.8" y1="1035.0" x2="183.2" y2="1035.0" stroke="#8a8a8a" stroke-width="2.6"/>
<circle cx="170.7" cy="1037.5" r="5.2" fill="#8a8a8a" stroke="#fff" stroke-width="0.8"/>
<circle cx="176.2" cy="1030.9" r="5.2" fill="#8a8a8a" stroke="#fff" stroke-width="0.8"/>
<circle cx="181.3" cy="1033.9" r="5.2" fill="#8a8a8a" stroke="#fff" stroke-width="0.8"/>
<line x1="208.5" y1="980.1" x2="208.5" y2="1026.0" stroke="#ff8c0a" stroke-width="2.6"/>
<line x1="201.8" y1="980.1" x2="215.2" y2="980.1" stroke="#ff8c0a" stroke-width="2.6"/>
<line x1="201.8" y1="1026.0" x2="215.2" y2="1026.0" stroke="#ff8c0a" stroke-width="2.6"/>
<circle cx="208.5" cy="965.6" r="5.2" fill="#ff8c0a" stroke="#fff" stroke-width="0.8"/>
<circle cx="208.5" cy="998.9" r="5.2" fill="#ff8c0a" stroke="#fff" stroke-width="0.8"/>
<circle cx="208.5" cy="1046.0" r="5.2" fill="#ff8c0a" stroke="#fff" stroke-width="0.8"/>
<line x1="240.9" y1="1080.0" x2="240.9" y2="1100.0" stroke="#8c0a0a" stroke-width="2.6"/>
<line x1="234.2" y1="1080.0" x2="247.7" y2="1080.0" stroke="#8c0a0a" stroke-width="2.6"/>
<line x1="234.2" y1="1100.0" x2="247.7" y2="1100.0" stroke="#8c0a0a" stroke-width="2.6"/>
<circle cx="240.9" cy="1075.3" r="5.2" fill="#8c0a0a" stroke="#fff" stroke-width="0.8"/>
<circle cx="235.7" cy="1095.0" r="5.2" fill="#8c0a0a" stroke="#fff" stroke-width="0.8"/>
<circle cx="245.4" cy="1101.6" r="5.2" fill="#8c0a0a" stroke="#fff" stroke-width="0.8"/>
<circle cx="235.7" cy="1111.0" r="5.2" fill="#8c0a0a" stroke="#fff" stroke-width="0.8"/>
<line x1="272.9" y1="996.7" x2="272.9" y2="1023.9" stroke="#1a9657" stroke-width="2.6"/>
<line x1="266.1" y1="996.7" x2="279.6" y2="996.7" stroke="#1a9657" stroke-width="2.6"/>
<line x1="266.1" y1="1023.9" x2="279.6" y2="1023.9" stroke="#1a9657" stroke-width="2.6"/>
<circle cx="272.9" cy="987.7" r="5.2" fill="#1a9657" stroke="#fff" stroke-width="0.8"/>
<circle cx="272.9" cy="1008.8" r="5.2" fill="#1a9657" stroke="#fff" stroke-width="0.8"/>
<circle cx="272.9" cy="1036.0" r="5.2" fill="#1a9657" stroke="#fff" stroke-width="0.8"/>
<line x1="305.2" y1="1093.0" x2="305.2" y2="1117.6" stroke="#0a1e96" stroke-width="2.6"/>
<line x1="298.4" y1="1093.0" x2="311.9" y2="1093.0" stroke="#0a1e96" stroke-width="2.6"/>
<line x1="298.4" y1="1117.6" x2="311.9" y2="1117.6" stroke="#0a1e96" stroke-width="2.6"/>
<circle cx="299.8" cy="1088.9" r="5.2" fill="#0a1e96" stroke="#fff" stroke-width="0.8"/>
<circle cx="310.7" cy="1093.4" r="5.2" fill="#0a1e96" stroke="#fff" stroke-width="0.8"/>
<circle cx="305.2" cy="1099.5" r="5.2" fill="#0a1e96" stroke="#fff" stroke-width="0.8"/>
<circle cx="305.2" cy="1142.4" r="5.2" fill="#0a1e96" stroke="#fff" stroke-width="0.8"/>
<line x1="358.7" y1="991.0" x2="358.7" y2="1004.3" stroke="#000" stroke-width="2.6"/>
<line x1="351.9" y1="991.0" x2="365.4" y2="991.0" stroke="#000" stroke-width="2.6"/>
<line x1="351.9" y1="1004.3" x2="365.4" y2="1004.3" stroke="#000" stroke-width="2.6"/>
<circle cx="358.7" cy="980.7" r="5.2" fill="#000" stroke="#fff" stroke-width="0.8"/>
<circle cx="358.7" cy="1008.8" r="5.2" fill="#000" stroke="#fff" stroke-width="0.8"/>
<circle cx="358.7" cy="1020.3" r="5.2" fill="#000" stroke="#fff" stroke-width="0.8"/>
<line x1="390.8" y1="1038.4" x2="390.8" y2="1066.0" stroke="#8a8a8a" stroke-width="2.6"/>
<line x1="384.1" y1="1038.4" x2="397.6" y2="1038.4" stroke="#8a8a8a" stroke-width="2.6"/>
<line x1="384.1" y1="1066.0" x2="397.6" y2="1066.0" stroke="#8a8a8a" stroke-width="2.6"/>
<circle cx="390.8" cy="1023.9" r="5.2" fill="#8a8a8a" stroke="#fff" stroke-width="0.8"/>
<circle cx="385.3" cy="1067.8" r="5.2" fill="#8a8a8a" stroke="#fff" stroke-width="0.8"/>
<circle cx="395.9" cy="1065.6" r="5.2" fill="#8a8a8a" stroke="#fff" stroke-width="0.8"/>
<line x1="422.8" y1="1025.4" x2="422.8" y2="1042.0" stroke="#ff8c0a" stroke-width="2.6"/>
<line x1="416.1" y1="1025.4" x2="429.6" y2="1025.4" stroke="#ff8c0a" stroke-width="2.6"/>
<line x1="416.1" y1="1042.0" x2="429.6" y2="1042.0" stroke="#ff8c0a" stroke-width="2.6"/>
<circle cx="422.8" cy="1017.9" r="5.2" fill="#ff8c0a" stroke="#fff" stroke-width="0.8"/>
<circle cx="427.3" cy="1036.9" r="5.2" fill="#ff8c0a" stroke="#fff" stroke-width="0.8"/>
<circle cx="418.0" cy="1046.6" r="5.2" fill="#ff8c0a" stroke="#fff" stroke-width="0.8"/>
<line x1="454.8" y1="1120.0" x2="454.8" y2="1142.7" stroke="#8c0a0a" stroke-width="2.6"/>
<line x1="448.1" y1="1120.0" x2="461.6" y2="1120.0" stroke="#8c0a0a" stroke-width="2.6"/>
<line x1="448.1" y1="1142.7" x2="461.6" y2="1142.7" stroke="#8c0a0a" stroke-width="2.6"/>
<circle cx="454.8" cy="1116.7" r="5.2" fill="#8c0a0a" stroke="#fff" stroke-width="0.8"/>
<circle cx="454.8" cy="1129.7" r="5.2" fill="#8c0a0a" stroke="#fff" stroke-width="0.8"/>
<circle cx="454.8" cy="1151.8" r="5.2" fill="#8c0a0a" stroke="#fff" stroke-width="0.8"/>
<line x1="486.9" y1="948.4" x2="486.9" y2="1010.3" stroke="#1a9657" stroke-width="2.6"/>
<line x1="480.1" y1="948.4" x2="493.6" y2="948.4" stroke="#1a9657" stroke-width="2.6"/>
<line x1="480.1" y1="1010.3" x2="493.6" y2="1010.3" stroke="#1a9657" stroke-width="2.6"/>
<circle cx="486.9" cy="923.3" r="5.2" fill="#1a9657" stroke="#fff" stroke-width="0.8"/>
<circle cx="486.9" cy="985.6" r="5.2" fill="#1a9657" stroke="#fff" stroke-width="0.8"/>
<circle cx="486.9" cy="1031.5" r="5.2" fill="#1a9657" stroke="#fff" stroke-width="0.8"/>
<line x1="518.9" y1="1018.8" x2="518.9" y2="1052.6" stroke="#0a1e96" stroke-width="2.6"/>
<line x1="512.1" y1="1018.8" x2="525.6" y2="1018.8" stroke="#0a1e96" stroke-width="2.6"/>
<line x1="512.1" y1="1052.6" x2="525.6" y2="1052.6" stroke="#0a1e96" stroke-width="2.6"/>
<circle cx="518.9" cy="1004.3" r="5.2" fill="#0a1e96" stroke="#fff" stroke-width="0.8"/>
<circle cx="518.9" cy="1042.1" r="5.2" fill="#0a1e96" stroke="#fff" stroke-width="0.8"/>
<circle cx="518.9" cy="1064.7" r="5.2" fill="#0a1e96" stroke="#fff" stroke-width="0.8"/>
<line x1="572.6" y1="955.9" x2="572.6" y2="1030.0" stroke="#000" stroke-width="2.6"/>
<line x1="565.9" y1="955.9" x2="579.4" y2="955.9" stroke="#000" stroke-width="2.6"/>
<line x1="565.9" y1="1030.0" x2="579.4" y2="1030.0" stroke="#000" stroke-width="2.6"/>
<circle cx="572.6" cy="923.3" r="5.2" fill="#000" stroke="#fff" stroke-width="0.8"/>
<circle cx="572.6" cy="1011.2" r="5.2" fill="#000" stroke="#fff" stroke-width="0.8"/>
<circle cx="572.6" cy="1040.6" r="5.2" fill="#000" stroke="#fff" stroke-width="0.8"/>
<line x1="604.9" y1="1054.8" x2="604.9" y2="1072.0" stroke="#8a8a8a" stroke-width="2.6"/>
<line x1="598.1" y1="1054.8" x2="611.6" y2="1054.8" stroke="#8a8a8a" stroke-width="2.6"/>
<line x1="598.1" y1="1072.0" x2="611.6" y2="1072.0" stroke="#8a8a8a" stroke-width="2.6"/>
<circle cx="604.9" cy="1045.1" r="5.2" fill="#8a8a8a" stroke="#fff" stroke-width="0.8"/>
<circle cx="609.8" cy="1067.8" r="5.2" fill="#8a8a8a" stroke="#fff" stroke-width="0.8"/>
<circle cx="600.1" cy="1077.4" r="5.2" fill="#8a8a8a" stroke="#fff" stroke-width="0.8"/>
<line x1="637.0" y1="995.2" x2="637.0" y2="1040.0" stroke="#ff8c0a" stroke-width="2.6"/>
<line x1="630.2" y1="995.2" x2="643.8" y2="995.2" stroke="#ff8c0a" stroke-width="2.6"/>
<line x1="630.2" y1="1040.0" x2="643.8" y2="1040.0" stroke="#ff8c0a" stroke-width="2.6"/>
<circle cx="631.8" cy="987.7" r="5.2" fill="#ff8c0a" stroke="#fff" stroke-width="0.8"/>
<circle cx="641.5" cy="996.7" r="5.2" fill="#ff8c0a" stroke="#fff" stroke-width="0.8"/>
<circle cx="637.0" cy="1066.9" r="5.2" fill="#ff8c0a" stroke="#fff" stroke-width="0.8"/>
<line x1="669.0" y1="1047.0" x2="669.0" y2="1066.0" stroke="#8c0a0a" stroke-width="2.6"/>
<line x1="662.2" y1="1047.0" x2="675.8" y2="1047.0" stroke="#8c0a0a" stroke-width="2.6"/>
<line x1="662.2" y1="1066.0" x2="675.8" y2="1066.0" stroke="#8c0a0a" stroke-width="2.6"/>
<circle cx="664.2" cy="1040.6" r="5.2" fill="#8c0a0a" stroke="#fff" stroke-width="0.8"/>
<circle cx="673.5" cy="1051.1" r="5.2" fill="#8c0a0a" stroke="#fff" stroke-width="0.8"/>
<circle cx="668.7" cy="1073.2" r="5.2" fill="#8c0a0a" stroke="#fff" stroke-width="0.8"/>
<line x1="701.0" y1="991.6" x2="701.0" y2="1029.0" stroke="#1a9657" stroke-width="2.6"/>
<line x1="694.2" y1="991.6" x2="707.8" y2="991.6" stroke="#1a9657" stroke-width="2.6"/>
<line x1="694.2" y1="1029.0" x2="707.8" y2="1029.0" stroke="#1a9657" stroke-width="2.6"/>
<circle cx="701.0" cy="982.2" r="5.2" fill="#1a9657" stroke="#fff" stroke-width="0.8"/>
<circle cx="701.0" cy="1002.8" r="5.2" fill="#1a9657" stroke="#fff" stroke-width="0.8"/>
<circle cx="701.0" cy="1042.1" r="5.2" fill="#1a9657" stroke="#fff" stroke-width="0.8"/>
<line x1="733.0" y1="1100.0" x2="733.0" y2="1112.0" stroke="#0a1e96" stroke-width="2.6"/>
<line x1="726.2" y1="1100.0" x2="739.8" y2="1100.0" stroke="#0a1e96" stroke-width="2.6"/>
<line x1="726.2" y1="1112.0" x2="739.8" y2="1112.0" stroke="#0a1e96" stroke-width="2.6"/>
<circle cx="728.2" cy="1114.6" r="5.2" fill="#0a1e96" stroke="#fff" stroke-width="0.8"/>
<circle cx="737.6" cy="1107.0" r="5.2" fill="#0a1e96" stroke="#fff" stroke-width="0.8"/>
<circle cx="733.0" cy="1108.0" r="5.2" fill="#0a1e96" stroke="#fff" stroke-width="0.8"/>
<line x1="786.8" y1="995.2" x2="786.8" y2="1018.0" stroke="#000" stroke-width="2.6"/>
<line x1="780.0" y1="995.2" x2="793.5" y2="995.2" stroke="#000" stroke-width="2.6"/>
<line x1="780.0" y1="1018.0" x2="793.5" y2="1018.0" stroke="#000" stroke-width="2.6"/>
<circle cx="782.0" cy="989.8" r="5.2" fill="#000" stroke="#fff" stroke-width="0.8"/>
<circle cx="791.1" cy="992.2" r="5.2" fill="#000" stroke="#fff" stroke-width="0.8"/>
<circle cx="786.6" cy="1033.9" r="5.2" fill="#000" stroke="#fff" stroke-width="0.8"/>
<line x1="818.9" y1="1036.0" x2="818.9" y2="1054.0" stroke="#8a8a8a" stroke-width="2.6"/>
<line x1="812.1" y1="1036.0" x2="825.6" y2="1036.0" stroke="#8a8a8a" stroke-width="2.6"/>
<line x1="812.1" y1="1054.0" x2="825.6" y2="1054.0" stroke="#8a8a8a" stroke-width="2.6"/>
<circle cx="814.0" cy="1030.0" r="5.2" fill="#8a8a8a" stroke="#fff" stroke-width="0.8"/>
<circle cx="823.7" cy="1039.7" r="5.2" fill="#8a8a8a" stroke="#fff" stroke-width="0.8"/>
<circle cx="818.9" cy="1064.7" r="5.2" fill="#8a8a8a" stroke="#fff" stroke-width="0.8"/>
<line x1="850.9" y1="1003.7" x2="850.9" y2="1027.0" stroke="#ff8c0a" stroke-width="2.6"/>
<line x1="844.1" y1="1003.7" x2="857.6" y2="1003.7" stroke="#ff8c0a" stroke-width="2.6"/>
<line x1="844.1" y1="1027.0" x2="857.6" y2="1027.0" stroke="#ff8c0a" stroke-width="2.6"/>
<circle cx="850.9" cy="993.1" r="5.2" fill="#ff8c0a" stroke="#fff" stroke-width="0.8"/>
<circle cx="845.8" cy="1026.4" r="5.2" fill="#ff8c0a" stroke="#fff" stroke-width="0.8"/>
<circle cx="856.1" cy="1022.4" r="5.2" fill="#ff8c0a" stroke="#fff" stroke-width="0.8"/>
<line x1="883.0" y1="994.3" x2="883.0" y2="1037.0" stroke="#8c0a0a" stroke-width="2.6"/>
<line x1="876.2" y1="994.3" x2="889.8" y2="994.3" stroke="#8c0a0a" stroke-width="2.6"/>
<line x1="876.2" y1="1037.0" x2="889.8" y2="1037.0" stroke="#8c0a0a" stroke-width="2.6"/>
<circle cx="883.0" cy="974.1" r="5.2" fill="#8c0a0a" stroke="#fff" stroke-width="0.8"/>
<circle cx="878.1" cy="1039.7" r="5.2" fill="#8c0a0a" stroke="#fff" stroke-width="0.8"/>
<circle cx="888.1" cy="1030.9" r="5.2" fill="#8c0a0a" stroke="#fff" stroke-width="0.8"/>
<line x1="915.0" y1="978.0" x2="915.0" y2="1004.0" stroke="#1a9657" stroke-width="2.6"/>
<line x1="908.2" y1="978.0" x2="921.8" y2="978.0" stroke="#1a9657" stroke-width="2.6"/>
<line x1="908.2" y1="1004.0" x2="921.8" y2="1004.0" stroke="#1a9657" stroke-width="2.6"/>
<circle cx="909.8" cy="972.6" r="5.2" fill="#1a9657" stroke="#fff" stroke-width="0.8"/>
<circle cx="919.8" cy="982.5" r="5.2" fill="#1a9657" stroke="#fff" stroke-width="0.8"/>
<circle cx="915.0" cy="1015.8" r="5.2" fill="#1a9657" stroke="#fff" stroke-width="0.8"/>
<line x1="947.0" y1="1089.0" x2="947.0" y2="1098.0" stroke="#0a1e96" stroke-width="2.6"/>
<line x1="940.2" y1="1089.0" x2="953.8" y2="1089.0" stroke="#0a1e96" stroke-width="2.6"/>
<line x1="940.2" y1="1098.0" x2="953.8" y2="1098.0" stroke="#0a1e96" stroke-width="2.6"/>
<circle cx="942.2" cy="1085.9" r="5.2" fill="#0a1e96" stroke="#fff" stroke-width="0.8"/>
<circle cx="952.2" cy="1096.5" r="5.2" fill="#0a1e96" stroke="#fff" stroke-width="0.8"/>
<circle cx="942.2" cy="1098.6" r="5.2" fill="#0a1e96" stroke="#fff" stroke-width="0.8"/>
<line x1="1001.1" y1="997.3" x2="1001.1" y2="1034.0" stroke="#000" stroke-width="2.6"/>
<line x1="994.4" y1="997.3" x2="1007.9" y2="997.3" stroke="#000" stroke-width="2.6"/>
<line x1="994.4" y1="1034.0" x2="1007.9" y2="1034.0" stroke="#000" stroke-width="2.6"/>
<circle cx="1001.1" cy="983.7" r="5.2" fill="#000" stroke="#fff" stroke-width="0.8"/>
<circle cx="1001.1" cy="1014.0" r="5.2" fill="#000" stroke="#fff" stroke-width="0.8"/>
<circle cx="1001.1" cy="1048.7" r="5.2" fill="#000" stroke="#fff" stroke-width="0.8"/>
<line x1="1033.1" y1="1041.0" x2="1033.1" y2="1058.0" stroke="#8a8a8a" stroke-width="2.6"/>
<line x1="1026.3" y1="1041.0" x2="1039.8" y2="1041.0" stroke="#8a8a8a" stroke-width="2.6"/>
<line x1="1026.3" y1="1058.0" x2="1039.8" y2="1058.0" stroke="#8a8a8a" stroke-width="2.6"/>
<circle cx="1033.1" cy="1031.5" r="5.2" fill="#8a8a8a" stroke="#fff" stroke-width="0.8"/>
<circle cx="1033.1" cy="1050.2" r="5.2" fill="#8a8a8a" stroke="#fff" stroke-width="0.8"/>
<circle cx="1033.1" cy="1065.6" r="5.2" fill="#8a8a8a" stroke="#fff" stroke-width="0.8"/>
<line x1="1065.2" y1="993.1" x2="1065.2" y2="1022.0" stroke="#ff8c0a" stroke-width="2.6"/>
<line x1="1058.5" y1="993.1" x2="1072.0" y2="993.1" stroke="#ff8c0a" stroke-width="2.6"/>
<line x1="1058.5" y1="1022.0" x2="1072.0" y2="1022.0" stroke="#ff8c0a" stroke-width="2.6"/>
<circle cx="1065.2" cy="982.2" r="5.2" fill="#ff8c0a" stroke="#fff" stroke-width="0.8"/>
<circle cx="1065.2" cy="1008.8" r="5.2" fill="#ff8c0a" stroke="#fff" stroke-width="0.8"/>
<circle cx="1065.2" cy="1030.9" r="5.2" fill="#ff8c0a" stroke="#fff" stroke-width="0.8"/>
<line x1="1097.2" y1="1088.0" x2="1097.2" y2="1117.6" stroke="#8c0a0a" stroke-width="2.6"/>
<line x1="1090.5" y1="1088.0" x2="1104.0" y2="1088.0" stroke="#8c0a0a" stroke-width="2.6"/>
<line x1="1090.5" y1="1117.6" x2="1104.0" y2="1117.6" stroke="#8c0a0a" stroke-width="2.6"/>
<circle cx="1092.1" cy="1083.8" r="5.2" fill="#8c0a0a" stroke="#fff" stroke-width="0.8"/>
<circle cx="1102.0" cy="1093.4" r="5.2" fill="#8c0a0a" stroke="#fff" stroke-width="0.8"/>
<circle cx="1096.9" cy="1131.8" r="5.2" fill="#8c0a0a" stroke="#fff" stroke-width="0.8"/>
<line x1="1129.2" y1="1001.3" x2="1129.2" y2="1019.0" stroke="#1a9657" stroke-width="2.6"/>
<line x1="1122.5" y1="1001.3" x2="1136.0" y2="1001.3" stroke="#1a9657" stroke-width="2.6"/>
<line x1="1122.5" y1="1019.0" x2="1136.0" y2="1019.0" stroke="#1a9657" stroke-width="2.6"/>
<circle cx="1129.2" cy="992.8" r="5.2" fill="#1a9657" stroke="#fff" stroke-width="0.8"/>
<circle cx="1134.7" cy="1012.8" r="5.2" fill="#1a9657" stroke="#fff" stroke-width="0.8"/>
<circle cx="1124.1" cy="1022.4" r="5.2" fill="#1a9657" stroke="#fff" stroke-width="0.8"/>
<line x1="1161.6" y1="1079.0" x2="1161.6" y2="1126.1" stroke="#0a1e96" stroke-width="2.6"/>
<line x1="1154.8" y1="1079.0" x2="1168.3" y2="1079.0" stroke="#0a1e96" stroke-width="2.6"/>
<line x1="1154.8" y1="1126.1" x2="1168.3" y2="1126.1" stroke="#0a1e96" stroke-width="2.6"/>
<circle cx="1161.6" cy="1075.3" r="5.2" fill="#0a1e96" stroke="#fff" stroke-width="0.8"/>
<circle cx="1161.6" cy="1087.4" r="5.2" fill="#0a1e96" stroke="#fff" stroke-width="0.8"/>
<circle cx="1161.6" cy="1148.8" r="5.2" fill="#0a1e96" stroke="#fff" stroke-width="0.8"/>
<line x1="1215.4" y1="958.1" x2="1215.4" y2="1032.0" stroke="#000" stroke-width="2.6"/>
<line x1="1208.7" y1="958.1" x2="1222.2" y2="958.1" stroke="#000" stroke-width="2.6"/>
<line x1="1208.7" y1="1032.0" x2="1222.2" y2="1032.0" stroke="#000" stroke-width="2.6"/>
<circle cx="1215.4" cy="922.7" r="5.2" fill="#000" stroke="#fff" stroke-width="0.8"/>
<circle cx="1215.4" cy="1023.9" r="5.2" fill="#000" stroke="#fff" stroke-width="0.8"/>
<circle cx="1215.4" cy="1036.0" r="5.2" fill="#000" stroke="#fff" stroke-width="0.8"/>
<line x1="1247.4" y1="1044.0" x2="1247.4" y2="1055.0" stroke="#8a8a8a" stroke-width="2.6"/>
<line x1="1240.7" y1="1044.0" x2="1254.2" y2="1044.0" stroke="#8a8a8a" stroke-width="2.6"/>
<line x1="1240.7" y1="1055.0" x2="1254.2" y2="1055.0" stroke="#8a8a8a" stroke-width="2.6"/>
<circle cx="1242.6" cy="1042.1" r="5.2" fill="#8a8a8a" stroke="#fff" stroke-width="0.8"/>
<circle cx="1252.5" cy="1046.6" r="5.2" fill="#8a8a8a" stroke="#fff" stroke-width="0.8"/>
<circle cx="1242.6" cy="1054.8" r="5.2" fill="#8a8a8a" stroke="#fff" stroke-width="0.8"/>
<line x1="1279.1" y1="1021.8" x2="1279.1" y2="1045.0" stroke="#ff8c0a" stroke-width="2.6"/>
<line x1="1272.3" y1="1021.8" x2="1285.8" y2="1021.8" stroke="#ff8c0a" stroke-width="2.6"/>
<line x1="1272.3" y1="1045.0" x2="1285.8" y2="1045.0" stroke="#ff8c0a" stroke-width="2.6"/>
<circle cx="1279.1" cy="1010.3" r="5.2" fill="#ff8c0a" stroke="#fff" stroke-width="0.8"/>
<circle cx="1274.3" cy="1042.1" r="5.2" fill="#ff8c0a" stroke="#fff" stroke-width="0.8"/>
<circle cx="1284.3" cy="1042.1" r="5.2" fill="#ff8c0a" stroke="#fff" stroke-width="0.8"/>
<line x1="1311.2" y1="1114.0" x2="1311.2" y2="1131.2" stroke="#8c0a0a" stroke-width="2.6"/>
<line x1="1304.5" y1="1114.0" x2="1318.0" y2="1114.0" stroke="#8c0a0a" stroke-width="2.6"/>
<line x1="1304.5" y1="1131.2" x2="1318.0" y2="1131.2" stroke="#8c0a0a" stroke-width="2.6"/>
<circle cx="1306.0" cy="1116.1" r="5.2" fill="#8c0a0a" stroke="#fff" stroke-width="0.8"/>
<circle cx="1316.6" cy="1117.6" r="5.2" fill="#8c0a0a" stroke="#fff" stroke-width="0.8"/>
<circle cx="1311.2" cy="1138.8" r="5.2" fill="#8c0a0a" stroke="#fff" stroke-width="0.8"/>
<line x1="1343.5" y1="1027.0" x2="1343.5" y2="1047.0" stroke="#1a9657" stroke-width="2.6"/>
<line x1="1336.8" y1="1027.0" x2="1350.2" y2="1027.0" stroke="#1a9657" stroke-width="2.6"/>
<line x1="1336.8" y1="1047.0" x2="1350.2" y2="1047.0" stroke="#1a9657" stroke-width="2.6"/>
<circle cx="1343.5" cy="1017.9" r="5.2" fill="#1a9657" stroke="#fff" stroke-width="0.8"/>
<circle cx="1348.9" cy="1040.0" r="5.2" fill="#1a9657" stroke="#fff" stroke-width="0.8"/>
<circle cx="1338.4" cy="1049.6" r="5.2" fill="#1a9657" stroke="#fff" stroke-width="0.8"/>
<line x1="1375.5" y1="1081.0" x2="1375.5" y2="1108.6" stroke="#0a1e96" stroke-width="2.6"/>
<line x1="1368.8" y1="1081.0" x2="1382.2" y2="1081.0" stroke="#0a1e96" stroke-width="2.6"/>
<line x1="1368.8" y1="1108.6" x2="1382.2" y2="1108.6" stroke="#0a1e96" stroke-width="2.6"/>
<circle cx="1375.5" cy="1075.3" r="5.2" fill="#0a1e96" stroke="#fff" stroke-width="0.8"/>
<circle cx="1375.5" cy="1088.9" r="5.2" fill="#0a1e96" stroke="#fff" stroke-width="0.8"/>
<circle cx="1375.5" cy="1122.2" r="5.2" fill="#0a1e96" stroke="#fff" stroke-width="0.8"/>
<line x1="223.9" y1="1188.0" x2="223.9" y2="1202.2" stroke="#333" stroke-width="1.5"/>
<line x1="438.2" y1="1188.0" x2="438.2" y2="1202.2" stroke="#333" stroke-width="1.5"/>
<line x1="652.1" y1="1188.0" x2="652.1" y2="1202.2" stroke="#333" stroke-width="1.5"/>
<line x1="866.6" y1="1188.0" x2="866.6" y2="1202.2" stroke="#333" stroke-width="1.5"/>
<line x1="1081.2" y1="1188.0" x2="1081.2" y2="1202.2" stroke="#333" stroke-width="1.5"/>
<line x1="1295.3" y1="1188.0" x2="1295.3" y2="1202.2" stroke="#333" stroke-width="1.5"/>
<polyline points="148.1,847.5 148.1,826.6 259.9,826.6 259.9,847.1" fill="none" stroke="#000" stroke-width="3.3" stroke-linejoin="miter"/>
<polyline points="239.7,886.4 239.7,847.1 310.4,847.1 310.4,886.4" fill="none" stroke="#000" stroke-width="3.3" stroke-linejoin="miter"/>
<text font-size="31" x="212.8" y="851.9" style="letter-spacing:3.2px" stroke="#000" stroke-width="0.5">***</text>
<text font-size="31" x="265.3" y="851.9" style="letter-spacing:3.2px" stroke="#000" stroke-width="0.5">***</text>
<polyline points="389.8,847.5 389.8,826.6 473.0,826.6 473.0,847.1" fill="none" stroke="#000" stroke-width="3.3" stroke-linejoin="miter"/>
<polyline points="442.7,887.3 442.7,847.1 517.7,847.1 517.7,887.3" fill="none" stroke="#000" stroke-width="3.3" stroke-linejoin="miter"/>
<text font-size="31" x="408.9" y="851.9" style="letter-spacing:3.2px" stroke="#000" stroke-width="0.5">***</text>
<text x="491.5" y="840.2">NS</text>
<polyline points="603.1,845.6 603.1,823.0 688.3,823.0 688.3,845.6" fill="none" stroke="#000" stroke-width="3.3" stroke-linejoin="miter"/>
<polyline points="657.5,888.5 657.5,845.6 734.9,845.6 734.9,888.5" fill="none" stroke="#000" stroke-width="3.3" stroke-linejoin="miter"/>
<text x="616.2" y="848.7">NS</text>
<text font-size="31" x="702.8" y="846.4" style="letter-spacing:3.2px" stroke="#000" stroke-width="0.5">*</text>
<polyline points="811.0,848.7 811.0,828.1 897.8,828.1 897.8,848.7" fill="none" stroke="#000" stroke-width="3.3" stroke-linejoin="miter"/>
<polyline points="866.0,891.0 866.0,848.7 943.7,848.7 943.7,891.0" fill="none" stroke="#000" stroke-width="3.3" stroke-linejoin="miter"/>
<text x="825.6" y="852.3">NS</text>
<text font-size="31" x="911.6" y="852.5" style="letter-spacing:3.2px" stroke="#000" stroke-width="0.5">*</text>
<polyline points="1031.0,845.0 1031.0,823.6 1116.2,823.6 1116.2,845.6" fill="none" stroke="#000" stroke-width="3.3" stroke-linejoin="miter"/>
<polyline points="1084.8,887.0 1084.8,845.6 1162.8,845.6 1162.8,887.0" fill="none" stroke="#000" stroke-width="3.3" stroke-linejoin="miter"/>
<text font-size="31" x="1082.4" y="850.4" style="letter-spacing:3.2px" stroke="#000" stroke-width="0.5">**</text>
<text font-size="31" x="1123.5" y="850.4" style="letter-spacing:3.2px" stroke="#000" stroke-width="0.5">**</text>
<polyline points="1244.1,847.1 1244.1,827.5 1330.2,827.5 1330.2,847.1" fill="none" stroke="#000" stroke-width="3.3" stroke-linejoin="miter"/>
<polyline points="1298.5,887.0 1298.5,847.1 1376.4,847.1 1376.4,887.0" fill="none" stroke="#000" stroke-width="3.3" stroke-linejoin="miter"/>
<text font-size="31" x="1269.2" y="852.5" style="letter-spacing:3.2px" stroke="#000" stroke-width="0.5">***</text>
<text font-size="31" x="1355.9" y="849.4" style="letter-spacing:3.2px" stroke="#000" stroke-width="0.5">*</text>
<text transform="translate(250.2 1044.2) rotate(-90)"><tspan font-style="italic">P</tspan> = 0.0006</text>
<text transform="translate(324.9 1050.5) rotate(-90)"><tspan font-style="italic">P</tspan> = 0.0002</text>
<text transform="translate(463.0 1056.3) rotate(-90)"><tspan font-style="italic">P</tspan> = 0.0001</text>
<text transform="translate(750.3 1054.2) rotate(-90)"><tspan font-style="italic">P</tspan> = 0.0298</text>
<text transform="translate(961.8 1054.2) rotate(-90)"><tspan font-style="italic">P</tspan> = 0.0165</text>
<text transform="translate(1105.1 1050.2) rotate(-90)"><tspan font-style="italic">P</tspan> = 0.0076</text>
<text transform="translate(1171.5 1052.6) rotate(-90)"><tspan font-style="italic">P</tspan> = 0.0073</text>
<text transform="translate(1319.6 1059.3) rotate(-90)"><tspan font-style="italic">P</tspan> = 0.0002</text>
<text transform="translate(1386.7 1060.2) rotate(-90)"><tspan font-style="italic">P</tspan> = 0.0229</text>
<text text-anchor="end" transform="translate(236.6 1220.5) rotate(-45)">hAβ<tspan font-size="18" dy="8.5" font-style="italic">1–42</tspan></text>
<text text-anchor="end" transform="translate(434.7 1225.6) rotate(-45)">hAβ<tspan font-size="18" dy="8.5" font-style="italic">1–42</tspan><tspan dy="-8.5" font-style="italic">; pink-1</tspan></text>
<text text-anchor="end" transform="translate(458.7 1254.0) rotate(-45)"><tspan font-style="italic">(RNAi)</tspan><tspan font-size="18" dy="-10" font-style="italic">n-sid-1</tspan><tspan font-size="18">OV</tspan></text>
<text text-anchor="end" transform="translate(648.6 1225.6) rotate(-45)">hAβ<tspan font-size="18" dy="8.5" font-style="italic">1–42</tspan><tspan dy="-8.5" font-style="italic">; pdr-1</tspan></text>
<text text-anchor="end" transform="translate(672.6 1254.0) rotate(-45)"><tspan font-style="italic">(RNAi)</tspan><tspan font-size="18" dy="-10" font-style="italic">n-sid-1</tspan><tspan font-size="18">OV</tspan></text>
<text text-anchor="end" transform="translate(863.1 1225.6) rotate(-45)">hAβ<tspan font-size="18" dy="8.5" font-style="italic">1–42</tspan><tspan dy="-8.5" font-style="italic">; dct-1</tspan></text>
<text text-anchor="end" transform="translate(887.1 1254.0) rotate(-45)"><tspan font-style="italic">(RNAi)</tspan><tspan font-size="18" dy="-10" font-style="italic">n-sid-1</tspan><tspan font-size="18">OV</tspan></text>
<text text-anchor="end" transform="translate(1077.7 1225.6) rotate(-45)">hAβ<tspan font-size="18" dy="8.5" font-style="italic">1–42</tspan><tspan dy="-8.5" font-style="italic">; sqst-1</tspan></text>
<text text-anchor="end" transform="translate(1101.7 1254.0) rotate(-45)"><tspan font-style="italic">(RNAi)</tspan><tspan font-size="18" dy="-10" font-style="italic">n-sid-1</tspan><tspan font-size="18">OV</tspan></text>
<text text-anchor="end" transform="translate(1291.8 1225.6) rotate(-45)">hAβ<tspan font-size="18" dy="8.5" font-style="italic">1–42</tspan><tspan dy="-8.5" font-style="italic">; bec-1</tspan></text>
<text text-anchor="end" transform="translate(1315.8 1254.0) rotate(-45)"><tspan font-style="italic">(RNAi)</tspan><tspan font-size="18" dy="-10" font-style="italic">n-sid-1</tspan><tspan font-size="18">OV</tspan></text>
<line x1="1566.7" y1="960.2" x2="1566.7" y2="1171.9" stroke="#444" stroke-width="1.5"/>
<line x1="1566.7" y1="1171.2" x2="2112.0" y2="1171.2" stroke="#666" stroke-width="1.8"/>
<line x1="1556.2" y1="960.9" x2="1566.7" y2="960.9" stroke="#333" stroke-width="1.5"/>
<text text-anchor="end" x="1544.3" y="970.5">1.5</text>
<line x1="1556.2" y1="1022.5" x2="1566.7" y2="1022.5" stroke="#333" stroke-width="1.5"/>
<text text-anchor="end" x="1544.3" y="1032.1">0.5</text>
<line x1="1556.2" y1="1084.0" x2="1566.7" y2="1084.0" stroke="#333" stroke-width="1.5"/>
<text text-anchor="end" x="1544.3" y="1093.6">0</text>
<line x1="1556.2" y1="1145.6" x2="1566.7" y2="1145.6" stroke="#333" stroke-width="1.5"/>
<text text-anchor="end" x="1544.3" y="1155.2">−0.5</text>
<text text-anchor="middle" transform="translate(1468.3 1070.6) rotate(-90)">Chemotaxis index (CI)</text>
<polyline points="1582.6,1084.0 1582.6,1016.0 1606.4,1016.0 1606.4,1084.0" fill="none" stroke="#000" stroke-width="3.4" stroke-linejoin="miter"/>
<polyline points="1624.8,1084.0 1624.8,1070.6 1648.6,1070.6 1648.6,1084.0" fill="none" stroke="#8a8a8a" stroke-width="3.4" stroke-linejoin="miter"/>
<polyline points="1666.3,1084.0 1666.3,1006.3 1690.1,1006.3 1690.1,1084.0" fill="none" stroke="#ff8c0a" stroke-width="3.4" stroke-linejoin="miter"/>
<polyline points="1708.3,1084.0 1708.3,1081.5 1732.1,1081.5 1732.1,1084.0" fill="none" stroke="#8c0a0a" stroke-width="3.4" stroke-linejoin="miter"/>
<polyline points="1750.2,1084.0 1750.2,999.5 1774.0,999.5 1774.0,1084.0" fill="none" stroke="#0e9696" stroke-width="3.4" stroke-linejoin="miter"/>
<polyline points="1792.3,1084.0 1792.3,1083.7 1816.1,1083.7 1816.1,1084.0" fill="none" stroke="#0a1e96" stroke-width="3.4" stroke-linejoin="miter"/>
<polyline points="1861.2,1084.0 1861.2,1021.3 1885.0,1021.3 1885.0,1084.0" fill="none" stroke="#000" stroke-width="3.4" stroke-linejoin="miter"/>
<polyline points="1903.1,1084.0 1903.1,1078.1 1926.9,1078.1 1926.9,1084.0" fill="none" stroke="#8a8a8a" stroke-width="3.4" stroke-linejoin="miter"/>
<polyline points="1944.9,1084.0 1944.9,1006.3 1968.7,1006.3 1968.7,1084.0" fill="none" stroke="#ff8c0a" stroke-width="3.4" stroke-linejoin="miter"/>
<polyline points="1987.2,1084.0 1987.2,1127.0 2011.0,1127.0 2011.0,1084.0" fill="none" stroke="#8c0a0a" stroke-width="3.4" stroke-linejoin="miter"/>
<polyline points="2028.9,1084.0 2028.9,1008.5 2052.7,1008.5 2052.7,1084.0" fill="none" stroke="#0e9696" stroke-width="3.4" stroke-linejoin="miter"/>
<polyline points="2070.7,1084.0 2070.7,1100.3 2094.5,1100.3 2094.5,1084.0" fill="none" stroke="#0a1e96" stroke-width="3.4" stroke-linejoin="miter"/>
<line x1="1566.7" y1="1084.0" x2="2112.0" y2="1084.0" stroke="#b4b4b4" stroke-width="2.6"/>
<line x1="1838.7" y1="1084.0" x2="1838.7" y2="1172.0" stroke="#777" stroke-width="1.8"/>
<line x1="2111.3" y1="1084.0" x2="2111.3" y2="1172.0" stroke="#777" stroke-width="1.8"/>
<line x1="1594.5" y1="1001.6" x2="1594.5" y2="1025.2" stroke="#000" stroke-width="1.8"/>
<line x1="1585.5" y1="1001.6" x2="1603.5" y2="1001.6" stroke="#000" stroke-width="1.8"/>
<line x1="1585.5" y1="1025.2" x2="1603.5" y2="1025.2" stroke="#000" stroke-width="1.8"/>
<circle cx="1594.5" cy="979.4" r="3.5" fill="#000" stroke="#fff" stroke-width="0.7"/>
<circle cx="1594.5" cy="1014.3" r="3.5" fill="#000" stroke="#fff" stroke-width="0.7"/>
<circle cx="1584.4" cy="1030.9" r="3.5" fill="#000" stroke="#fff" stroke-width="0.7"/>
<circle cx="1604.3" cy="1029.0" r="3.5" fill="#000" stroke="#fff" stroke-width="0.7"/>
<line x1="1636.7" y1="1054.6" x2="1636.7" y2="1082.0" stroke="#8a8a8a" stroke-width="1.8"/>
<line x1="1627.7" y1="1054.6" x2="1645.7" y2="1054.6" stroke="#8a8a8a" stroke-width="1.8"/>
<line x1="1627.7" y1="1082.0" x2="1645.7" y2="1082.0" stroke="#8a8a8a" stroke-width="1.8"/>
<circle cx="1626.5" cy="1052.0" r="3.5" fill="#8a8a8a" stroke="#fff" stroke-width="0.7"/>
<circle cx="1646.1" cy="1048.2" r="3.5" fill="#8a8a8a" stroke="#fff" stroke-width="0.7"/>
<circle cx="1636.7" cy="1062.9" r="3.5" fill="#8a8a8a" stroke="#fff" stroke-width="0.7"/>
<circle cx="1636.7" cy="1109.1" r="3.5" fill="#8a8a8a" stroke="#fff" stroke-width="0.7"/>
<line x1="1678.2" y1="998.2" x2="1678.2" y2="1008.0" stroke="#ff8c0a" stroke-width="1.8"/>
<line x1="1669.2" y1="998.2" x2="1687.2" y2="998.2" stroke="#ff8c0a" stroke-width="1.8"/>
<line x1="1669.2" y1="1008.0" x2="1687.2" y2="1008.0" stroke="#ff8c0a" stroke-width="1.8"/>
<circle cx="1678.0" cy="994.4" r="3.5" fill="#ff8c0a" stroke="#fff" stroke-width="0.7"/>
<circle cx="1668.3" cy="1006.8" r="3.5" fill="#ff8c0a" stroke="#fff" stroke-width="0.7"/>
<circle cx="1688.2" cy="1006.8" r="3.5" fill="#ff8c0a" stroke="#fff" stroke-width="0.7"/>
<line x1="1720.2" y1="1077.0" x2="1720.2" y2="1082.0" stroke="#8c0a0a" stroke-width="1.8"/>
<line x1="1711.2" y1="1077.0" x2="1729.2" y2="1077.0" stroke="#8c0a0a" stroke-width="1.8"/>
<line x1="1711.2" y1="1082.0" x2="1729.2" y2="1082.0" stroke="#8c0a0a" stroke-width="1.8"/>
<circle cx="1710.0" cy="1082.8" r="3.5" fill="#8c0a0a" stroke="#fff" stroke-width="0.7"/>
<circle cx="1719.8" cy="1077.2" r="3.5" fill="#8c0a0a" stroke="#fff" stroke-width="0.7"/>
<circle cx="1730.0" cy="1077.9" r="3.5" fill="#8c0a0a" stroke="#fff" stroke-width="0.7"/>
<line x1="1762.1" y1="991.4" x2="1762.1" y2="1002.7" stroke="#0e9696" stroke-width="1.8"/>
<line x1="1753.1" y1="991.4" x2="1771.1" y2="991.4" stroke="#0e9696" stroke-width="1.8"/>
<line x1="1753.1" y1="1002.7" x2="1771.1" y2="1002.7" stroke="#0e9696" stroke-width="1.8"/>
<circle cx="1761.9" cy="986.9" r="3.5" fill="#0e9696" stroke="#fff" stroke-width="0.7"/>
<circle cx="1761.9" cy="997.4" r="3.5" fill="#0e9696" stroke="#fff" stroke-width="0.7"/>
<circle cx="1761.9" cy="1007.9" r="3.5" fill="#0e9696" stroke="#fff" stroke-width="0.7"/>
<line x1="1804.2" y1="1077.2" x2="1804.2" y2="1096.0" stroke="#0a1e96" stroke-width="1.8"/>
<line x1="1795.2" y1="1077.2" x2="1813.2" y2="1077.2" stroke="#0a1e96" stroke-width="1.8"/>
<line x1="1795.2" y1="1096.0" x2="1813.2" y2="1096.0" stroke="#0a1e96" stroke-width="1.8"/>
<circle cx="1793.5" cy="1074.1" r="3.5" fill="#0a1e96" stroke="#fff" stroke-width="0.7"/>
<circle cx="1813.8" cy="1079.0" r="3.5" fill="#0a1e96" stroke="#fff" stroke-width="0.7"/>
<circle cx="1803.7" cy="1104.6" r="3.5" fill="#0a1e96" stroke="#fff" stroke-width="0.7"/>
<line x1="1873.1" y1="1011.7" x2="1873.1" y2="1026.4" stroke="#000" stroke-width="1.8"/>
<line x1="1864.1" y1="1011.7" x2="1882.1" y2="1011.7" stroke="#000" stroke-width="1.8"/>
<line x1="1864.1" y1="1026.4" x2="1882.1" y2="1026.4" stroke="#000" stroke-width="1.8"/>
<circle cx="1863.1" cy="1008.3" r="3.5" fill="#000" stroke="#fff" stroke-width="0.7"/>
<circle cx="1883.4" cy="1005.7" r="3.5" fill="#000" stroke="#fff" stroke-width="0.7"/>
<circle cx="1873.3" cy="1022.6" r="3.5" fill="#000" stroke="#fff" stroke-width="0.7"/>
<circle cx="1873.3" cy="1038.0" r="3.5" fill="#000" stroke="#fff" stroke-width="0.7"/>
<line x1="1915.0" y1="1062.9" x2="1915.0" y2="1087.7" stroke="#8a8a8a" stroke-width="1.8"/>
<line x1="1906.0" y1="1062.9" x2="1924.0" y2="1062.9" stroke="#8a8a8a" stroke-width="1.8"/>
<line x1="1906.0" y1="1087.7" x2="1924.0" y2="1087.7" stroke="#8a8a8a" stroke-width="1.8"/>
<circle cx="1915.0" cy="1049.0" r="3.5" fill="#8a8a8a" stroke="#fff" stroke-width="0.7"/>
<circle cx="1915.0" cy="1068.9" r="3.5" fill="#8a8a8a" stroke="#fff" stroke-width="0.7"/>
<circle cx="1915.0" cy="1080.9" r="3.5" fill="#8a8a8a" stroke="#fff" stroke-width="0.7"/>
<circle cx="1915.0" cy="1105.7" r="3.5" fill="#8a8a8a" stroke="#fff" stroke-width="0.7"/>
<line x1="1956.8" y1="997.0" x2="1956.8" y2="1008.0" stroke="#ff8c0a" stroke-width="1.8"/>
<line x1="1947.8" y1="997.0" x2="1965.8" y2="997.0" stroke="#ff8c0a" stroke-width="1.8"/>
<line x1="1947.8" y1="1008.0" x2="1965.8" y2="1008.0" stroke="#ff8c0a" stroke-width="1.8"/>
<circle cx="1956.8" cy="993.3" r="3.5" fill="#ff8c0a" stroke="#fff" stroke-width="0.7"/>
<circle cx="1947.0" cy="1005.7" r="3.5" fill="#ff8c0a" stroke="#fff" stroke-width="0.7"/>
<circle cx="1966.6" cy="1004.6" r="3.5" fill="#ff8c0a" stroke="#fff" stroke-width="0.7"/>
<line x1="1999.1" y1="1111.8" x2="1999.1" y2="1146.7" stroke="#8c0a0a" stroke-width="1.8"/>
<line x1="1990.1" y1="1111.8" x2="2008.1" y2="1111.8" stroke="#8c0a0a" stroke-width="1.8"/>
<line x1="1990.1" y1="1146.7" x2="2008.1" y2="1146.7" stroke="#8c0a0a" stroke-width="1.8"/>
<circle cx="1998.9" cy="1094.1" r="3.5" fill="#8c0a0a" stroke="#fff" stroke-width="0.7"/>
<circle cx="1998.9" cy="1143.0" r="3.5" fill="#8c0a0a" stroke="#fff" stroke-width="0.7"/>
<circle cx="1998.9" cy="1150.5" r="3.5" fill="#8c0a0a" stroke="#fff" stroke-width="0.7"/>
<line x1="2040.8" y1="1001.9" x2="2040.8" y2="1010.0" stroke="#0e9696" stroke-width="1.8"/>
<line x1="2031.8" y1="1001.9" x2="2049.8" y2="1001.9" stroke="#0e9696" stroke-width="1.8"/>
<line x1="2031.8" y1="1010.0" x2="2049.8" y2="1010.0" stroke="#0e9696" stroke-width="1.8"/>
<circle cx="2040.7" cy="997.0" r="3.5" fill="#0e9696" stroke="#fff" stroke-width="0.7"/>
<circle cx="2030.5" cy="1008.7" r="3.5" fill="#0e9696" stroke="#fff" stroke-width="0.7"/>
<circle cx="2050.8" cy="1008.3" r="3.5" fill="#0e9696" stroke="#fff" stroke-width="0.7"/>
<line x1="2082.6" y1="1095.2" x2="2082.6" y2="1111.0" stroke="#0a1e96" stroke-width="1.8"/>
<line x1="2073.6" y1="1095.2" x2="2091.6" y2="1095.2" stroke="#0a1e96" stroke-width="1.8"/>
<line x1="2073.6" y1="1111.0" x2="2091.6" y2="1111.0" stroke="#0a1e96" stroke-width="1.8"/>
<circle cx="2082.8" cy="1090.3" r="3.5" fill="#0a1e96" stroke="#fff" stroke-width="0.7"/>
<circle cx="2082.8" cy="1100.9" r="3.5" fill="#0a1e96" stroke="#fff" stroke-width="0.7"/>
<circle cx="2082.8" cy="1117.4" r="3.5" fill="#0a1e96" stroke="#fff" stroke-width="0.7"/>
<line x1="1698.7" y1="1171.2" x2="1698.7" y2="1180.6" stroke="#555" stroke-width="1.5"/>
<line x1="1977.8" y1="1171.2" x2="1977.8" y2="1180.6" stroke="#555" stroke-width="1.5"/>
<polyline points="1635.9,1014.3 1635.9,845.8 1904.9,845.8 1904.9,931.2" fill="none" stroke="#000" stroke-width="3.2" stroke-linejoin="miter"/>
<text x="1789.3" y="838.3">NS</text>
<polyline points="1635.9,873.7 1762.3,873.7 1762.3,922.2" fill="none" stroke="#000" stroke-width="3.2" stroke-linejoin="miter"/>
<text x="1672.7" y="870.3">NS</text>
<polyline points="1717.9,1066.6 1717.9,922.2 1811.2,922.2 1811.2,1066.6" fill="none" stroke="#000" stroke-width="3.2" stroke-linejoin="miter"/>
<polyline points="1904.9,872.5 2034.3,872.5 2034.3,894.7" fill="none" stroke="#000" stroke-width="3.2" stroke-linejoin="miter"/>
<polyline points="1978.6,910.9 1978.6,894.7 2071.9,894.7 2071.9,910.9" fill="none" stroke="#000" stroke-width="3.2" stroke-linejoin="miter"/>
<text font-size="31" x="1972.3" y="899.0" style="letter-spacing:3.2px" stroke="#000" stroke-width="0.5">***</text>
<text font-size="31" x="2062.1" y="896.7" style="letter-spacing:3.2px" stroke="#000" stroke-width="0.5">*</text>
<text transform="translate(2006.8 1067.8) rotate(-90)" textLength="126" lengthAdjust="spacing"><tspan font-style="italic">P</tspan> &lt; 0.0001</text>
<text transform="translate(2086.9 1066.6) rotate(-90)"><tspan font-style="italic">P</tspan> = 0.0469</text>
<text transform="translate(1526.0 1394.6) rotate(-45)">hAβ<tspan font-size="18" dy="8.5">1–42</tspan><tspan font-size="18" dy="-18.5"> Glu</tspan><tspan dy="10">; hApoE3</tspan><tspan font-size="18" dy="-10">Glu</tspan></text>
<text transform="translate(1807.9 1391.2) rotate(-45)">hAβ<tspan font-size="18" dy="8.5">1–42</tspan><tspan font-size="18" dy="-18.5"> Glu</tspan><tspan dy="10">; hApoE4</tspan><tspan font-size="18" dy="-10">Glu</tspan></text>
<text font-weight="bold" font-size="30" x="0.0" y="1438.6">d</text>
<line x1="244.8" y1="1557.6" x2="244.8" y2="1914.5" stroke="#222" stroke-width="1.5"/>
<line x1="233.5" y1="1914.5" x2="687.6" y2="1914.5" stroke="#444" stroke-width="1.5"/>
<line x1="233.5" y1="1914.5" x2="244.8" y2="1914.5" stroke="#222" stroke-width="1.5"/>
<text text-anchor="end" x="219.3" y="1924.1">1</text>
<line x1="233.5" y1="1825.5" x2="244.8" y2="1825.5" stroke="#222" stroke-width="1.5"/>
<text text-anchor="end" x="219.3" y="1835.0">2</text>
<line x1="233.5" y1="1736.4" x2="244.8" y2="1736.4" stroke="#222" stroke-width="1.5"/>
<text text-anchor="end" x="219.3" y="1746.0">3</text>
<line x1="233.5" y1="1647.3" x2="244.8" y2="1647.3" stroke="#222" stroke-width="1.5"/>
<text text-anchor="end" x="219.3" y="1656.9">4</text>
<line x1="233.5" y1="1558.3" x2="244.8" y2="1558.3" stroke="#222" stroke-width="1.5"/>
<text text-anchor="end" x="219.3" y="1567.9">5</text>
<line x1="279.6" y1="1914.5" x2="279.6" y2="1925.9" stroke="#333" stroke-width="1.5"/>
<line x1="332.8" y1="1914.5" x2="332.8" y2="1925.9" stroke="#333" stroke-width="1.5"/>
<line x1="385.7" y1="1914.5" x2="385.7" y2="1925.9" stroke="#333" stroke-width="1.5"/>
<line x1="439.0" y1="1914.5" x2="439.0" y2="1925.9" stroke="#333" stroke-width="1.5"/>
<line x1="492.3" y1="1914.5" x2="492.3" y2="1925.9" stroke="#333" stroke-width="1.5"/>
<line x1="545.1" y1="1914.5" x2="545.1" y2="1925.9" stroke="#333" stroke-width="1.5"/>
<line x1="598.4" y1="1914.5" x2="598.4" y2="1925.9" stroke="#333" stroke-width="1.5"/>
<line x1="651.7" y1="1914.5" x2="651.7" y2="1925.9" stroke="#333" stroke-width="1.5"/>
<text text-anchor="middle" transform="translate(149.2 1736.5) rotate(-90)">Distribution of normal glut. neurons</text>
<text text-anchor="middle" transform="translate(181.3 1736.5) rotate(-90)">in populations</text>
<line x1="265.6" y1="1647.3" x2="293.6" y2="1647.3" stroke="#000" stroke-width="1.3" stroke-dasharray="1.6 1.8"/>
<line x1="271.3" y1="1736.4" x2="287.9" y2="1736.4" stroke="#000" stroke-width="1.3" stroke-dasharray="1.6 1.8"/>
<path d="M263.8,1558.3 L263.8,1559.8 L263.9,1561.3 L264.0,1562.9 L264.2,1564.4 L264.5,1565.9 L264.7,1567.4 L265.1,1568.9 L265.4,1570.5 L265.8,1572.0 L266.3,1573.5 L266.8,1575.0 L267.3,1576.5 L267.8,1578.0 L268.3,1579.6 L268.9,1581.1 L269.5,1582.6 L270.1,1584.1 L270.6,1585.6 L271.2,1587.2 L271.8,1588.7 L272.3,1590.2 L272.8,1591.7 L273.3,1593.2 L273.8,1594.8 L274.3,1596.3 L274.7,1597.8 L275.0,1599.3 L275.4,1600.8 L275.6,1602.4 L275.9,1603.9 L276.1,1605.4 L276.2,1606.9 L276.3,1608.4 L276.3,1609.9 L276.2,1611.5 L276.1,1613.1 L275.9,1614.6 L275.5,1616.2 L275.1,1617.7 L274.6,1619.3 L274.0,1620.9 L273.4,1622.4 L272.7,1624.0 L272.0,1625.5 L271.2,1627.1 L270.5,1628.6 L269.7,1630.2 L268.9,1631.8 L268.2,1633.3 L267.5,1634.9 L266.9,1636.4 L266.3,1638.0 L265.8,1639.6 L265.4,1641.1 L265.0,1642.7 L264.8,1644.2 L264.7,1645.8 L264.6,1647.3 L264.6,1648.9 L264.7,1650.4 L264.9,1651.9 L265.1,1653.5 L265.3,1655.0 L265.6,1656.5 L266.0,1658.1 L266.3,1659.6 L266.8,1661.1 L267.2,1662.7 L267.7,1664.2 L268.3,1665.7 L268.8,1667.2 L269.4,1668.8 L270.0,1670.3 L270.6,1671.8 L271.1,1673.4 L271.7,1674.9 L272.3,1676.4 L272.8,1678.0 L273.4,1679.5 L273.9,1681.0 L274.3,1682.6 L274.8,1684.1 L275.1,1685.6 L275.5,1687.1 L275.8,1688.7 L276.0,1690.2 L276.2,1691.7 L276.4,1693.3 L276.5,1694.8 L276.5,1696.3 L276.5,1697.9 L276.4,1699.4 L276.3,1701.0 L276.1,1702.5 L276.0,1704.0 L275.7,1705.6 L275.5,1707.1 L275.2,1708.7 L274.8,1710.2 L274.5,1711.7 L274.1,1713.3 L273.8,1714.8 L273.4,1716.4 L273.0,1717.9 L272.7,1719.4 L272.3,1721.0 L272.0,1722.5 L271.6,1724.1 L271.3,1725.6 L271.1,1727.2 L270.8,1728.7 L270.7,1730.2 L270.5,1731.8 L270.4,1733.3 L270.3,1734.9 L270.3,1736.4 L270.3,1737.9 L270.4,1739.5 L270.4,1741.0 L270.6,1742.5 L270.7,1744.0 L270.9,1745.6 L271.1,1747.1 L271.3,1748.6 L271.6,1750.1 L271.9,1751.7 L272.2,1753.2 L272.5,1754.7 L272.8,1756.2 L273.2,1757.8 L273.5,1759.3 L273.9,1760.8 L274.3,1762.4 L274.6,1763.9 L275.0,1765.4 L275.4,1766.9 L275.7,1768.5 L276.1,1770.0 L276.4,1771.5 L276.7,1773.0 L277.0,1774.6 L277.3,1776.1 L277.6,1777.6 L277.8,1779.1 L278.0,1780.7 L278.2,1782.2 L278.3,1783.7 L278.5,1785.3 L278.5,1786.8 L278.6,1788.3 L278.6,1789.8 L278.6,1791.4 L278.5,1792.9 L278.4,1794.5 L278.3,1796.0 L278.2,1797.6 L278.0,1799.1 L277.8,1800.7 L277.6,1802.2 L277.4,1803.8 L277.1,1805.3 L276.9,1806.9 L276.6,1808.4 L276.4,1810.0 L276.1,1811.5 L275.9,1813.1 L275.7,1814.6 L275.5,1816.2 L275.3,1817.7 L275.2,1819.3 L275.1,1820.8 L275.0,1822.4 L274.9,1823.9 L274.9,1825.5 L284.3,1825.5 L284.3,1823.9 L284.2,1822.4 L284.1,1820.8 L284.0,1819.3 L283.9,1817.7 L283.7,1816.2 L283.5,1814.6 L283.3,1813.1 L283.1,1811.5 L282.8,1810.0 L282.6,1808.4 L282.3,1806.9 L282.1,1805.3 L281.8,1803.8 L281.6,1802.2 L281.4,1800.7 L281.2,1799.1 L281.0,1797.6 L280.9,1796.0 L280.8,1794.5 L280.7,1792.9 L280.6,1791.4 L280.6,1789.8 L280.6,1788.3 L280.7,1786.8 L280.7,1785.3 L280.9,1783.7 L281.0,1782.2 L281.2,1780.7 L281.4,1779.1 L281.6,1777.6 L281.9,1776.1 L282.2,1774.6 L282.5,1773.0 L282.8,1771.5 L283.1,1770.0 L283.5,1768.5 L283.8,1766.9 L284.2,1765.4 L284.6,1763.9 L284.9,1762.4 L285.3,1760.8 L285.7,1759.3 L286.0,1757.8 L286.4,1756.2 L286.7,1754.7 L287.0,1753.2 L287.3,1751.7 L287.6,1750.1 L287.9,1748.6 L288.1,1747.1 L288.3,1745.6 L288.5,1744.0 L288.6,1742.5 L288.8,1741.0 L288.8,1739.5 L288.9,1737.9 L288.9,1736.4 L288.9,1734.9 L288.8,1733.3 L288.7,1731.8 L288.5,1730.2 L288.4,1728.7 L288.1,1727.2 L287.9,1725.6 L287.6,1724.1 L287.2,1722.5 L286.9,1721.0 L286.5,1719.4 L286.2,1717.9 L285.8,1716.4 L285.4,1714.8 L285.1,1713.3 L284.7,1711.7 L284.4,1710.2 L284.0,1708.7 L283.7,1707.1 L283.5,1705.6 L283.2,1704.0 L283.1,1702.5 L282.9,1701.0 L282.8,1699.4 L282.7,1697.9 L282.7,1696.3 L282.7,1694.8 L282.8,1693.3 L283.0,1691.7 L283.2,1690.2 L283.4,1688.7 L283.7,1687.1 L284.1,1685.6 L284.4,1684.1 L284.9,1682.6 L285.3,1681.0 L285.8,1679.5 L286.4,1678.0 L286.9,1676.4 L287.5,1674.9 L288.1,1673.4 L288.7,1671.8 L289.2,1670.3 L289.8,1668.8 L290.4,1667.2 L290.9,1665.7 L291.5,1664.2 L292.0,1662.7 L292.4,1661.1 L292.9,1659.6 L293.2,1658.1 L293.6,1656.5 L293.9,1655.0 L294.1,1653.5 L294.3,1651.9 L294.5,1650.4 L294.6,1648.9 L294.6,1647.3 L294.5,1645.8 L294.4,1644.2 L294.2,1642.7 L293.8,1641.1 L293.4,1639.6 L292.9,1638.0 L292.3,1636.4 L291.7,1634.9 L291.0,1633.3 L290.3,1631.8 L289.5,1630.2 L288.8,1628.6 L288.0,1627.1 L287.2,1625.5 L286.5,1624.0 L285.8,1622.4 L285.2,1620.9 L284.6,1619.3 L284.1,1617.7 L283.7,1616.2 L283.3,1614.6 L283.1,1613.1 L283.0,1611.5 L282.9,1609.9 L282.9,1608.4 L283.0,1606.9 L283.1,1605.4 L283.3,1603.9 L283.6,1602.4 L283.8,1600.8 L284.2,1599.3 L284.5,1597.8 L284.9,1596.3 L285.4,1594.8 L285.9,1593.2 L286.4,1591.7 L286.9,1590.2 L287.4,1588.7 L288.0,1587.2 L288.6,1585.6 L289.2,1584.1 L289.7,1582.6 L290.3,1581.1 L290.9,1579.6 L291.4,1578.0 L291.9,1576.5 L292.4,1575.0 L292.9,1573.5 L293.4,1572.0 L293.8,1570.5 L294.1,1568.9 L294.5,1567.4 L294.7,1565.9 L295.0,1564.4 L295.2,1562.9 L295.3,1561.3 L295.4,1559.8 L295.4,1558.3 Z" fill="none" stroke="#000" stroke-width="3.0" stroke-linejoin="round"/>
<line x1="317.6" y1="1647.3" x2="348.0" y2="1647.3" stroke="#a61e5c" stroke-width="1.3" stroke-dasharray="1.6 1.8"/>
<line x1="325.6" y1="1736.4" x2="340.0" y2="1736.4" stroke="#a61e5c" stroke-width="1.3" stroke-dasharray="1.6 1.8"/>
<path d="M321.0,1558.3 L321.0,1559.8 L321.1,1561.4 L321.2,1562.9 L321.4,1564.4 L321.6,1566.0 L321.9,1567.5 L322.2,1569.0 L322.6,1570.6 L323.0,1572.1 L323.4,1573.7 L323.8,1575.2 L324.3,1576.7 L324.8,1578.3 L325.3,1579.8 L325.7,1581.3 L326.2,1582.9 L326.7,1584.4 L327.2,1585.9 L327.6,1587.5 L328.0,1589.0 L328.4,1590.5 L328.8,1592.1 L329.1,1593.6 L329.4,1595.1 L329.6,1596.7 L329.8,1598.2 L329.9,1599.8 L330.0,1601.3 L330.0,1602.8 L330.0,1604.4 L329.8,1605.9 L329.6,1607.4 L329.4,1609.0 L329.0,1610.5 L328.6,1612.0 L328.2,1613.6 L327.6,1615.1 L327.1,1616.6 L326.4,1618.2 L325.8,1619.7 L325.1,1621.2 L324.4,1622.8 L323.7,1624.3 L322.9,1625.9 L322.2,1627.4 L321.5,1628.9 L320.8,1630.5 L320.2,1632.0 L319.5,1633.5 L319.0,1635.1 L318.4,1636.6 L318.0,1638.1 L317.6,1639.7 L317.2,1641.2 L317.0,1642.7 L316.8,1644.3 L316.6,1645.8 L316.6,1647.3 L316.6,1648.9 L316.7,1650.4 L316.9,1651.9 L317.1,1653.5 L317.4,1655.0 L317.8,1656.5 L318.2,1658.1 L318.6,1659.6 L319.1,1661.1 L319.7,1662.7 L320.3,1664.2 L320.9,1665.7 L321.5,1667.2 L322.2,1668.8 L322.9,1670.3 L323.6,1671.8 L324.2,1673.4 L324.9,1674.9 L325.6,1676.4 L326.2,1678.0 L326.8,1679.5 L327.4,1681.0 L328.0,1682.6 L328.5,1684.1 L328.9,1685.6 L329.3,1687.1 L329.7,1688.7 L330.0,1690.2 L330.2,1691.7 L330.4,1693.3 L330.5,1694.8 L330.5,1696.3 L330.5,1697.9 L330.4,1699.4 L330.3,1701.0 L330.2,1702.5 L330.0,1704.0 L329.8,1705.6 L329.5,1707.1 L329.2,1708.7 L328.9,1710.2 L328.6,1711.7 L328.3,1713.3 L327.9,1714.8 L327.6,1716.4 L327.2,1717.9 L326.8,1719.4 L326.5,1721.0 L326.2,1722.5 L325.9,1724.1 L325.6,1725.6 L325.3,1727.2 L325.1,1728.7 L324.9,1730.2 L324.8,1731.8 L324.7,1733.3 L324.6,1734.9 L324.6,1736.4 L324.6,1737.9 L324.7,1739.5 L324.8,1741.0 L325.0,1742.6 L325.2,1744.1 L325.5,1745.6 L325.8,1747.2 L326.1,1748.7 L326.5,1750.3 L326.9,1751.8 L327.3,1753.4 L327.7,1754.9 L328.1,1756.4 L328.5,1758.0 L328.9,1759.5 L329.3,1761.1 L329.7,1762.6 L330.1,1764.1 L330.4,1765.7 L330.7,1767.2 L331.0,1768.8 L331.2,1770.3 L331.4,1771.8 L331.5,1773.4 L331.6,1774.9 L331.6,1776.5 L331.6,1778.0 L331.6,1779.5 L331.6,1781.0 L331.6,1782.5 L331.6,1784.0 L331.6,1785.5 L331.6,1787.0 L331.6,1788.5 L331.6,1790.0 L331.6,1791.5 L331.6,1793.0 L331.6,1794.5 L331.6,1796.0 L331.6,1797.5 L331.6,1799.0 L331.6,1800.5 L331.6,1802.0 L331.6,1803.5 L331.6,1805.0 L331.6,1806.5 L331.6,1808.0 L331.6,1809.5 L331.6,1811.0 L331.6,1812.5 L331.6,1814.0 L331.6,1815.5 L331.6,1817.0 L331.6,1818.5 L331.6,1820.0 L331.6,1821.5 L331.6,1823.0 L331.6,1824.5 L331.6,1826.0 L331.6,1827.5 L331.6,1829.0 L331.6,1830.5 L331.6,1832.0 L331.6,1833.5 L331.6,1835.0 L331.6,1836.5 L331.6,1838.0 L331.6,1839.5 L331.6,1841.0 L331.6,1842.5 L331.6,1844.0 L331.6,1845.5 L331.6,1847.0 L331.6,1848.5 L331.6,1850.0 L331.6,1851.5 L331.6,1853.0 L331.6,1854.5 L331.6,1856.0 L331.6,1857.5 L331.6,1859.0 L331.6,1860.5 L331.6,1862.0 L331.6,1863.5 L331.6,1865.0 L331.6,1866.5 L331.6,1868.0 L331.6,1869.5 L331.6,1871.0 L331.6,1872.5 L331.6,1874.0 L331.6,1875.5 L331.6,1877.0 L331.6,1878.5 L331.6,1880.0 L331.6,1881.5 L331.6,1883.0 L331.6,1884.5 L331.6,1886.0 L331.6,1887.5 L331.6,1889.0 L331.6,1890.5 L331.6,1892.0 L331.6,1893.5 L331.6,1895.0 L331.6,1896.5 L331.6,1898.0 L331.6,1899.5 L331.6,1901.0 L331.6,1902.5 L331.6,1904.0 L331.6,1905.5 L331.6,1907.0 L331.6,1908.5 L331.6,1910.0 L331.6,1911.5 L331.6,1913.0 L331.6,1914.5 L334.0,1914.5 L334.0,1913.0 L334.0,1911.5 L334.0,1910.0 L334.0,1908.5 L334.0,1907.0 L334.0,1905.5 L334.0,1904.0 L334.0,1902.5 L334.0,1901.0 L334.0,1899.5 L334.0,1898.0 L334.0,1896.5 L334.0,1895.0 L334.0,1893.5 L334.0,1892.0 L334.0,1890.5 L334.0,1889.0 L334.0,1887.5 L334.0,1886.0 L334.0,1884.5 L334.0,1883.0 L334.0,1881.5 L334.0,1880.0 L334.0,1878.5 L334.0,1877.0 L334.0,1875.5 L334.0,1874.0 L334.0,1872.5 L334.0,1871.0 L334.0,1869.5 L334.0,1868.0 L334.0,1866.5 L334.0,1865.0 L334.0,1863.5 L334.0,1862.0 L334.0,1860.5 L334.0,1859.0 L334.0,1857.5 L334.0,1856.0 L334.0,1854.5 L334.0,1853.0 L334.0,1851.5 L334.0,1850.0 L334.0,1848.5 L334.0,1847.0 L334.0,1845.5 L334.0,1844.0 L334.0,1842.5 L334.0,1841.0 L334.0,1839.5 L334.0,1838.0 L334.0,1836.5 L334.0,1835.0 L334.0,1833.5 L334.0,1832.0 L334.0,1830.5 L334.0,1829.0 L334.0,1827.5 L334.0,1826.0 L334.0,1824.5 L334.0,1823.0 L334.0,1821.5 L334.0,1820.0 L334.0,1818.5 L334.0,1817.0 L334.0,1815.5 L334.0,1814.0 L334.0,1812.5 L334.0,1811.0 L334.0,1809.5 L334.0,1808.0 L334.0,1806.5 L334.0,1805.0 L334.0,1803.5 L334.0,1802.0 L334.0,1800.5 L334.0,1799.0 L334.0,1797.5 L334.0,1796.0 L334.0,1794.5 L334.0,1793.0 L334.0,1791.5 L334.0,1790.0 L334.0,1788.5 L334.0,1787.0 L334.0,1785.5 L334.0,1784.0 L334.0,1782.5 L334.0,1781.0 L334.0,1779.5 L334.0,1778.0 L334.0,1776.5 L334.0,1774.9 L334.1,1773.4 L334.2,1771.8 L334.4,1770.3 L334.6,1768.8 L334.9,1767.2 L335.2,1765.7 L335.5,1764.1 L335.9,1762.6 L336.3,1761.1 L336.7,1759.5 L337.1,1758.0 L337.5,1756.4 L337.9,1754.9 L338.3,1753.4 L338.7,1751.8 L339.1,1750.3 L339.5,1748.7 L339.8,1747.2 L340.1,1745.6 L340.4,1744.1 L340.6,1742.6 L340.8,1741.0 L340.9,1739.5 L341.0,1737.9 L341.0,1736.4 L341.0,1734.9 L340.9,1733.3 L340.8,1731.8 L340.7,1730.2 L340.5,1728.7 L340.3,1727.2 L340.0,1725.6 L339.7,1724.1 L339.4,1722.5 L339.1,1721.0 L338.8,1719.4 L338.4,1717.9 L338.1,1716.4 L337.7,1714.8 L337.3,1713.3 L337.0,1711.7 L336.7,1710.2 L336.4,1708.7 L336.1,1707.1 L335.8,1705.6 L335.6,1704.0 L335.4,1702.5 L335.3,1701.0 L335.2,1699.4 L335.1,1697.9 L335.1,1696.3 L335.1,1694.8 L335.2,1693.3 L335.4,1691.7 L335.6,1690.2 L335.9,1688.7 L336.3,1687.1 L336.7,1685.6 L337.1,1684.1 L337.6,1682.6 L338.2,1681.0 L338.8,1679.5 L339.4,1678.0 L340.0,1676.4 L340.7,1674.9 L341.4,1673.4 L342.1,1671.8 L342.7,1670.3 L343.4,1668.8 L344.1,1667.2 L344.7,1665.7 L345.3,1664.2 L345.9,1662.7 L346.5,1661.1 L347.0,1659.6 L347.4,1658.1 L347.8,1656.5 L348.2,1655.0 L348.5,1653.5 L348.7,1651.9 L348.9,1650.4 L349.0,1648.9 L349.0,1647.3 L349.0,1645.8 L348.8,1644.3 L348.6,1642.7 L348.4,1641.2 L348.0,1639.7 L347.6,1638.1 L347.2,1636.6 L346.6,1635.1 L346.1,1633.5 L345.4,1632.0 L344.8,1630.5 L344.1,1628.9 L343.4,1627.4 L342.7,1625.9 L341.9,1624.3 L341.2,1622.8 L340.5,1621.2 L339.8,1619.7 L339.2,1618.2 L338.5,1616.6 L338.0,1615.1 L337.4,1613.6 L337.0,1612.0 L336.6,1610.5 L336.2,1609.0 L336.0,1607.4 L335.8,1605.9 L335.6,1604.4 L335.6,1602.8 L335.6,1601.3 L335.7,1599.8 L335.8,1598.2 L336.0,1596.7 L336.2,1595.1 L336.5,1593.6 L336.8,1592.1 L337.2,1590.5 L337.6,1589.0 L338.0,1587.5 L338.4,1585.9 L338.9,1584.4 L339.4,1582.9 L339.9,1581.3 L340.3,1579.8 L340.8,1578.3 L341.3,1576.7 L341.8,1575.2 L342.2,1573.7 L342.6,1572.1 L343.0,1570.6 L343.4,1569.0 L343.7,1567.5 L344.0,1566.0 L344.2,1564.4 L344.4,1562.9 L344.5,1561.4 L344.6,1559.8 L344.6,1558.3 Z" fill="none" stroke="#a61e5c" stroke-width="3.0" stroke-linejoin="round"/>
<line x1="371.0" y1="1647.3" x2="400.4" y2="1647.3" stroke="#14289f" stroke-width="1.3" stroke-dasharray="1.6 1.8"/>
<line x1="372.2" y1="1736.4" x2="399.2" y2="1736.4" stroke="#14289f" stroke-width="1.3" stroke-dasharray="1.6 1.8"/>
<path d="M378.7,1558.3 L378.7,1559.8 L378.8,1561.4 L379.0,1562.9 L379.2,1564.5 L379.4,1566.0 L379.7,1567.6 L380.1,1569.1 L380.4,1570.7 L380.8,1572.2 L381.2,1573.8 L381.7,1575.3 L382.1,1576.9 L382.6,1578.4 L383.0,1580.0 L383.4,1581.5 L383.7,1583.1 L384.1,1584.6 L384.4,1586.2 L384.6,1587.7 L384.8,1589.3 L385.0,1590.8 L385.1,1592.4 L385.1,1593.9 L385.1,1595.4 L385.0,1597.0 L384.8,1598.5 L384.6,1600.0 L384.4,1601.6 L384.0,1603.1 L383.7,1604.6 L383.2,1606.1 L382.8,1607.7 L382.3,1609.2 L381.7,1610.7 L381.1,1612.2 L380.5,1613.8 L379.9,1615.3 L379.2,1616.8 L378.6,1618.3 L377.9,1619.9 L377.2,1621.4 L376.5,1622.9 L375.9,1624.5 L375.2,1626.0 L374.6,1627.5 L374.0,1629.0 L373.4,1630.6 L372.8,1632.1 L372.3,1633.6 L371.9,1635.1 L371.4,1636.7 L371.1,1638.2 L370.7,1639.7 L370.5,1641.2 L370.3,1642.8 L370.1,1644.3 L370.0,1645.8 L370.0,1647.3 L370.0,1648.9 L370.2,1650.4 L370.3,1651.9 L370.6,1653.4 L370.9,1655.0 L371.4,1656.5 L371.8,1658.0 L372.3,1659.5 L372.9,1661.1 L373.6,1662.6 L374.2,1664.1 L374.9,1665.6 L375.7,1667.1 L376.4,1668.7 L377.2,1670.2 L377.9,1671.7 L378.7,1673.2 L379.4,1674.8 L380.2,1676.3 L380.9,1677.8 L381.5,1679.3 L382.2,1680.8 L382.8,1682.4 L383.3,1683.9 L383.7,1685.4 L384.2,1686.9 L384.5,1688.5 L384.8,1690.0 L384.9,1691.5 L385.1,1693.0 L385.1,1694.5 L385.1,1696.1 L384.9,1697.6 L384.7,1699.2 L384.4,1700.7 L384.0,1702.3 L383.5,1703.8 L382.9,1705.4 L382.3,1706.9 L381.6,1708.5 L380.9,1710.0 L380.1,1711.6 L379.4,1713.1 L378.6,1714.7 L377.7,1716.2 L376.9,1717.8 L376.2,1719.3 L375.4,1720.9 L374.7,1722.4 L374.0,1724.0 L373.4,1725.5 L372.8,1727.1 L372.3,1728.6 L371.9,1730.2 L371.6,1731.7 L371.4,1733.3 L371.2,1734.8 L371.2,1736.4 L371.2,1737.9 L371.4,1739.5 L371.5,1741.0 L371.8,1742.6 L372.1,1744.1 L372.5,1745.7 L373.0,1747.2 L373.5,1748.7 L374.1,1750.3 L374.7,1751.8 L375.3,1753.4 L376.0,1754.9 L376.7,1756.5 L377.4,1758.0 L378.1,1759.6 L378.9,1761.1 L379.6,1762.6 L380.3,1764.2 L381.0,1765.7 L381.6,1767.3 L382.2,1768.8 L382.8,1770.4 L383.3,1771.9 L383.8,1773.4 L384.2,1775.0 L384.5,1776.5 L384.8,1778.1 L384.9,1779.6 L385.1,1781.2 L385.1,1782.7 L385.1,1784.2 L385.0,1785.8 L385.0,1787.3 L384.9,1788.8 L384.7,1790.3 L384.6,1791.9 L384.4,1793.4 L384.2,1794.9 L384.0,1796.4 L383.7,1798.0 L383.5,1799.5 L383.2,1801.0 L383.0,1802.6 L382.7,1804.1 L382.4,1805.6 L382.2,1807.1 L381.9,1808.7 L381.7,1810.2 L381.4,1811.7 L381.2,1813.2 L381.0,1814.8 L380.8,1816.3 L380.7,1817.8 L380.5,1819.3 L380.4,1820.9 L380.4,1822.4 L380.3,1823.9 L380.3,1825.5 L380.3,1827.0 L380.4,1828.5 L380.5,1830.1 L380.7,1831.6 L380.9,1833.1 L381.1,1834.7 L381.4,1836.2 L381.6,1837.8 L382.0,1839.3 L382.3,1840.8 L382.6,1842.4 L382.9,1843.9 L383.2,1845.4 L383.6,1847.0 L383.8,1848.5 L384.1,1850.1 L384.3,1851.6 L384.5,1853.1 L384.7,1854.7 L384.8,1856.2 L384.9,1857.8 L384.9,1859.3 L384.9,1860.8 L384.9,1862.4 L384.9,1863.9 L384.9,1865.4 L384.9,1867.0 L384.9,1868.5 L384.9,1870.0 L384.9,1871.6 L384.9,1873.1 L384.9,1874.6 L384.9,1876.2 L384.9,1877.7 L384.9,1879.2 L384.9,1880.8 L384.9,1882.3 L384.9,1883.8 L384.9,1885.4 L384.9,1886.9 L384.9,1888.4 L384.9,1890.0 L384.9,1891.5 L384.9,1893.0 L384.9,1894.6 L384.9,1896.1 L384.9,1897.6 L384.9,1899.2 L384.9,1900.7 L384.9,1902.2 L384.9,1903.8 L384.9,1905.3 L384.9,1906.8 L384.9,1908.4 L384.9,1909.9 L384.9,1911.4 L384.9,1913.0 L384.9,1914.5 L386.5,1914.5 L386.5,1913.0 L386.5,1911.4 L386.5,1909.9 L386.5,1908.4 L386.5,1906.8 L386.5,1905.3 L386.5,1903.8 L386.5,1902.2 L386.5,1900.7 L386.5,1899.2 L386.5,1897.6 L386.5,1896.1 L386.5,1894.6 L386.5,1893.0 L386.5,1891.5 L386.5,1890.0 L386.5,1888.4 L386.5,1886.9 L386.5,1885.4 L386.5,1883.8 L386.5,1882.3 L386.5,1880.8 L386.5,1879.2 L386.5,1877.7 L386.5,1876.2 L386.5,1874.6 L386.5,1873.1 L386.5,1871.6 L386.5,1870.0 L386.5,1868.5 L386.5,1867.0 L386.5,1865.4 L386.5,1863.9 L386.5,1862.4 L386.5,1860.8 L386.5,1859.3 L386.5,1857.8 L386.6,1856.2 L386.7,1854.7 L386.9,1853.1 L387.1,1851.6 L387.3,1850.1 L387.6,1848.5 L387.8,1847.0 L388.2,1845.4 L388.5,1843.9 L388.8,1842.4 L389.1,1840.8 L389.4,1839.3 L389.8,1837.8 L390.0,1836.2 L390.3,1834.7 L390.5,1833.1 L390.7,1831.6 L390.9,1830.1 L391.0,1828.5 L391.1,1827.0 L391.1,1825.5 L391.1,1823.9 L391.0,1822.4 L391.0,1820.9 L390.9,1819.3 L390.7,1817.8 L390.6,1816.3 L390.4,1814.8 L390.2,1813.2 L390.0,1811.7 L389.7,1810.2 L389.5,1808.7 L389.2,1807.1 L389.0,1805.6 L388.7,1804.1 L388.4,1802.6 L388.2,1801.0 L387.9,1799.5 L387.7,1798.0 L387.4,1796.4 L387.2,1794.9 L387.0,1793.4 L386.8,1791.9 L386.7,1790.3 L386.5,1788.8 L386.4,1787.3 L386.4,1785.8 L386.3,1784.2 L386.3,1782.7 L386.3,1781.2 L386.5,1779.6 L386.6,1778.1 L386.9,1776.5 L387.2,1775.0 L387.6,1773.4 L388.1,1771.9 L388.6,1770.4 L389.2,1768.8 L389.8,1767.3 L390.4,1765.7 L391.1,1764.2 L391.8,1762.6 L392.5,1761.1 L393.2,1759.6 L394.0,1758.0 L394.7,1756.5 L395.4,1754.9 L396.1,1753.4 L396.7,1751.8 L397.3,1750.3 L397.9,1748.7 L398.4,1747.2 L398.9,1745.7 L399.3,1744.1 L399.6,1742.6 L399.9,1741.0 L400.0,1739.5 L400.2,1737.9 L400.2,1736.4 L400.2,1734.8 L400.0,1733.3 L399.8,1731.7 L399.5,1730.2 L399.1,1728.6 L398.6,1727.1 L398.0,1725.5 L397.4,1724.0 L396.7,1722.4 L396.0,1720.9 L395.2,1719.3 L394.5,1717.8 L393.7,1716.2 L392.8,1714.7 L392.0,1713.1 L391.3,1711.6 L390.5,1710.0 L389.8,1708.5 L389.1,1706.9 L388.5,1705.4 L387.9,1703.8 L387.4,1702.3 L387.0,1700.7 L386.7,1699.2 L386.5,1697.6 L386.3,1696.1 L386.3,1694.5 L386.3,1693.0 L386.5,1691.5 L386.6,1690.0 L386.9,1688.5 L387.2,1686.9 L387.7,1685.4 L388.1,1683.9 L388.6,1682.4 L389.2,1680.8 L389.9,1679.3 L390.5,1677.8 L391.2,1676.3 L392.0,1674.8 L392.7,1673.2 L393.5,1671.7 L394.2,1670.2 L395.0,1668.7 L395.7,1667.1 L396.5,1665.6 L397.2,1664.1 L397.8,1662.6 L398.5,1661.1 L399.1,1659.5 L399.6,1658.0 L400.0,1656.5 L400.5,1655.0 L400.8,1653.4 L401.1,1651.9 L401.2,1650.4 L401.4,1648.9 L401.4,1647.3 L401.4,1645.8 L401.3,1644.3 L401.1,1642.8 L400.9,1641.2 L400.7,1639.7 L400.3,1638.2 L400.0,1636.7 L399.5,1635.1 L399.1,1633.6 L398.6,1632.1 L398.0,1630.6 L397.4,1629.0 L396.8,1627.5 L396.2,1626.0 L395.5,1624.5 L394.9,1622.9 L394.2,1621.4 L393.5,1619.9 L392.8,1618.3 L392.2,1616.8 L391.5,1615.3 L390.9,1613.8 L390.3,1612.2 L389.7,1610.7 L389.1,1609.2 L388.6,1607.7 L388.2,1606.1 L387.7,1604.6 L387.4,1603.1 L387.0,1601.6 L386.8,1600.0 L386.6,1598.5 L386.4,1597.0 L386.3,1595.4 L386.3,1593.9 L386.3,1592.4 L386.4,1590.8 L386.6,1589.3 L386.8,1587.7 L387.0,1586.2 L387.3,1584.6 L387.7,1583.1 L388.0,1581.5 L388.4,1580.0 L388.8,1578.4 L389.3,1576.9 L389.7,1575.3 L390.2,1573.8 L390.6,1572.2 L391.0,1570.7 L391.3,1569.1 L391.7,1567.6 L392.0,1566.0 L392.2,1564.5 L392.4,1562.9 L392.6,1561.4 L392.7,1559.8 L392.7,1558.3 Z" fill="none" stroke="#14289f" stroke-width="3.0" stroke-linejoin="round"/>
<line x1="427.8" y1="1647.3" x2="450.2" y2="1647.3" stroke="#1a9850" stroke-width="1.3" stroke-dasharray="1.6 1.8"/>
<line x1="424.1" y1="1736.4" x2="453.9" y2="1736.4" stroke="#1a9850" stroke-width="1.3" stroke-dasharray="1.6 1.8"/>
<path d="M429.4,1558.3 L429.4,1559.8 L429.5,1561.4 L429.5,1562.9 L429.6,1564.4 L429.7,1566.0 L429.9,1567.5 L430.0,1569.0 L430.2,1570.6 L430.4,1572.1 L430.6,1573.7 L430.9,1575.2 L431.1,1576.7 L431.4,1578.3 L431.6,1579.8 L431.9,1581.3 L432.1,1582.9 L432.4,1584.4 L432.6,1585.9 L432.9,1587.5 L433.1,1589.0 L433.3,1590.5 L433.5,1592.1 L433.6,1593.6 L433.8,1595.1 L433.9,1596.7 L434.0,1598.2 L434.0,1599.8 L434.1,1601.3 L434.1,1602.8 L434.1,1604.4 L434.0,1605.9 L433.9,1607.4 L433.8,1609.0 L433.6,1610.5 L433.4,1612.0 L433.1,1613.6 L432.8,1615.1 L432.5,1616.6 L432.2,1618.2 L431.8,1619.7 L431.4,1621.2 L431.0,1622.8 L430.6,1624.3 L430.3,1625.9 L429.9,1627.4 L429.5,1628.9 L429.1,1630.5 L428.7,1632.0 L428.4,1633.5 L428.1,1635.1 L427.8,1636.6 L427.5,1638.1 L427.3,1639.7 L427.1,1641.2 L427.0,1642.7 L426.9,1644.3 L426.8,1645.8 L426.8,1647.3 L426.8,1648.9 L426.9,1650.4 L427.0,1652.0 L427.1,1653.5 L427.3,1655.0 L427.4,1656.6 L427.7,1658.1 L427.9,1659.6 L428.2,1661.2 L428.5,1662.7 L428.8,1664.2 L429.1,1665.8 L429.4,1667.3 L429.8,1668.8 L430.1,1670.4 L430.5,1671.9 L430.8,1673.5 L431.1,1675.0 L431.4,1676.5 L431.7,1678.1 L432.0,1679.6 L432.2,1681.1 L432.5,1682.7 L432.6,1684.2 L432.8,1685.7 L432.9,1687.3 L433.0,1688.8 L433.1,1690.3 L433.1,1691.9 L433.1,1693.4 L433.0,1694.9 L432.8,1696.5 L432.6,1698.0 L432.4,1699.6 L432.1,1701.1 L431.7,1702.6 L431.3,1704.2 L430.9,1705.7 L430.4,1707.2 L430.0,1708.8 L429.4,1710.3 L428.9,1711.8 L428.4,1713.4 L427.8,1714.9 L427.3,1716.4 L426.8,1718.0 L426.2,1719.5 L425.8,1721.0 L425.3,1722.6 L424.9,1724.1 L424.5,1725.7 L424.1,1727.2 L423.8,1728.7 L423.6,1730.3 L423.4,1731.8 L423.2,1733.3 L423.1,1734.9 L423.1,1736.4 L423.1,1737.9 L423.2,1739.5 L423.3,1741.0 L423.5,1742.5 L423.7,1744.1 L423.9,1745.6 L424.2,1747.1 L424.6,1748.6 L424.9,1750.2 L425.3,1751.7 L425.7,1753.2 L426.2,1754.8 L426.6,1756.3 L427.1,1757.8 L427.6,1759.4 L428.1,1760.9 L428.6,1762.4 L429.1,1763.9 L429.6,1765.5 L430.0,1767.0 L430.5,1768.5 L430.9,1770.1 L431.3,1771.6 L431.6,1773.1 L432.0,1774.7 L432.3,1776.2 L432.5,1777.7 L432.7,1779.3 L432.9,1780.8 L433.0,1782.3 L433.1,1783.8 L433.1,1785.4 L433.1,1786.9 L433.0,1788.5 L433.0,1790.0 L432.9,1791.5 L432.7,1793.1 L432.6,1794.6 L432.4,1796.2 L432.2,1797.7 L432.0,1799.2 L431.8,1800.8 L431.5,1802.3 L431.3,1803.9 L431.1,1805.4 L430.8,1807.0 L430.6,1808.5 L430.3,1810.0 L430.1,1811.6 L429.9,1813.1 L429.7,1814.7 L429.5,1816.2 L429.4,1817.7 L429.2,1819.3 L429.1,1820.8 L429.1,1822.4 L429.0,1823.9 L429.0,1825.5 L429.0,1827.0 L429.1,1828.5 L429.1,1830.0 L429.3,1831.6 L429.4,1833.1 L429.6,1834.6 L429.7,1836.2 L430.0,1837.7 L430.2,1839.2 L430.5,1840.8 L430.7,1842.3 L431.0,1843.8 L431.3,1845.3 L431.7,1846.9 L432.0,1848.4 L432.3,1849.9 L432.6,1851.5 L432.9,1853.0 L433.3,1854.5 L433.6,1856.1 L433.9,1857.6 L434.1,1859.1 L434.4,1860.7 L434.6,1862.2 L434.9,1863.7 L435.0,1865.2 L435.2,1866.8 L435.3,1868.3 L435.5,1869.8 L435.5,1871.4 L435.6,1872.9 L435.6,1874.4 L435.6,1876.0 L435.6,1877.5 L435.6,1879.1 L435.6,1880.6 L435.6,1882.1 L435.6,1883.7 L435.6,1885.2 L435.6,1886.8 L435.7,1888.3 L435.7,1889.8 L435.7,1891.4 L435.7,1892.9 L435.7,1894.5 L435.7,1896.0 L435.7,1897.5 L435.7,1899.1 L435.7,1900.6 L435.8,1902.2 L435.8,1903.7 L435.8,1905.3 L435.8,1906.8 L435.8,1908.3 L435.8,1909.9 L435.8,1911.4 L435.8,1913.0 L435.8,1914.5 L442.2,1914.5 L442.2,1913.0 L442.2,1911.4 L442.2,1909.9 L442.2,1908.3 L442.2,1906.8 L442.2,1905.3 L442.2,1903.7 L442.2,1902.2 L442.3,1900.6 L442.3,1899.1 L442.3,1897.5 L442.3,1896.0 L442.3,1894.5 L442.3,1892.9 L442.3,1891.4 L442.3,1889.8 L442.3,1888.3 L442.4,1886.8 L442.4,1885.2 L442.4,1883.7 L442.4,1882.1 L442.4,1880.6 L442.4,1879.1 L442.4,1877.5 L442.4,1876.0 L442.4,1874.4 L442.4,1872.9 L442.5,1871.4 L442.5,1869.8 L442.7,1868.3 L442.8,1866.8 L443.0,1865.2 L443.1,1863.7 L443.4,1862.2 L443.6,1860.7 L443.9,1859.1 L444.1,1857.6 L444.4,1856.1 L444.7,1854.5 L445.1,1853.0 L445.4,1851.5 L445.7,1849.9 L446.0,1848.4 L446.3,1846.9 L446.7,1845.3 L447.0,1843.8 L447.3,1842.3 L447.5,1840.8 L447.8,1839.2 L448.0,1837.7 L448.3,1836.2 L448.4,1834.6 L448.6,1833.1 L448.7,1831.6 L448.9,1830.0 L448.9,1828.5 L449.0,1827.0 L449.0,1825.5 L449.0,1823.9 L448.9,1822.4 L448.9,1820.8 L448.8,1819.3 L448.6,1817.7 L448.5,1816.2 L448.3,1814.7 L448.1,1813.1 L447.9,1811.6 L447.7,1810.0 L447.4,1808.5 L447.2,1807.0 L446.9,1805.4 L446.7,1803.9 L446.5,1802.3 L446.2,1800.8 L446.0,1799.2 L445.8,1797.7 L445.6,1796.2 L445.4,1794.6 L445.3,1793.1 L445.1,1791.5 L445.0,1790.0 L445.0,1788.5 L444.9,1786.9 L444.9,1785.4 L444.9,1783.8 L445.0,1782.3 L445.1,1780.8 L445.3,1779.3 L445.5,1777.7 L445.7,1776.2 L446.0,1774.7 L446.4,1773.1 L446.7,1771.6 L447.1,1770.1 L447.5,1768.5 L448.0,1767.0 L448.4,1765.5 L448.9,1763.9 L449.4,1762.4 L449.9,1760.9 L450.4,1759.4 L450.9,1757.8 L451.4,1756.3 L451.8,1754.8 L452.3,1753.2 L452.7,1751.7 L453.1,1750.2 L453.4,1748.6 L453.8,1747.1 L454.1,1745.6 L454.3,1744.1 L454.5,1742.5 L454.7,1741.0 L454.8,1739.5 L454.9,1737.9 L454.9,1736.4 L454.9,1734.9 L454.8,1733.3 L454.6,1731.8 L454.4,1730.3 L454.2,1728.7 L453.9,1727.2 L453.5,1725.7 L453.1,1724.1 L452.7,1722.6 L452.2,1721.0 L451.8,1719.5 L451.2,1718.0 L450.7,1716.4 L450.2,1714.9 L449.6,1713.4 L449.1,1711.8 L448.6,1710.3 L448.0,1708.8 L447.6,1707.2 L447.1,1705.7 L446.7,1704.2 L446.3,1702.6 L445.9,1701.1 L445.6,1699.6 L445.4,1698.0 L445.2,1696.5 L445.0,1694.9 L444.9,1693.4 L444.9,1691.9 L444.9,1690.3 L445.0,1688.8 L445.1,1687.3 L445.2,1685.7 L445.4,1684.2 L445.5,1682.7 L445.8,1681.1 L446.0,1679.6 L446.3,1678.1 L446.6,1676.5 L446.9,1675.0 L447.2,1673.5 L447.5,1671.9 L447.9,1670.4 L448.2,1668.8 L448.6,1667.3 L448.9,1665.8 L449.2,1664.2 L449.5,1662.7 L449.8,1661.2 L450.1,1659.6 L450.3,1658.1 L450.6,1656.6 L450.7,1655.0 L450.9,1653.5 L451.0,1652.0 L451.1,1650.4 L451.2,1648.9 L451.2,1647.3 L451.2,1645.8 L451.1,1644.3 L451.0,1642.7 L450.9,1641.2 L450.7,1639.7 L450.5,1638.1 L450.2,1636.6 L449.9,1635.1 L449.6,1633.5 L449.3,1632.0 L448.9,1630.5 L448.5,1628.9 L448.1,1627.4 L447.7,1625.9 L447.4,1624.3 L447.0,1622.8 L446.6,1621.2 L446.2,1619.7 L445.8,1618.2 L445.5,1616.6 L445.2,1615.1 L444.9,1613.6 L444.6,1612.0 L444.4,1610.5 L444.2,1609.0 L444.1,1607.4 L444.0,1605.9 L443.9,1604.4 L443.9,1602.8 L443.9,1601.3 L444.0,1599.8 L444.0,1598.2 L444.1,1596.7 L444.2,1595.1 L444.4,1593.6 L444.5,1592.1 L444.7,1590.5 L444.9,1589.0 L445.1,1587.5 L445.4,1585.9 L445.6,1584.4 L445.9,1582.9 L446.1,1581.3 L446.4,1579.8 L446.6,1578.3 L446.9,1576.7 L447.1,1575.2 L447.4,1573.7 L447.6,1572.1 L447.8,1570.6 L448.0,1569.0 L448.1,1567.5 L448.3,1566.0 L448.4,1564.4 L448.5,1562.9 L448.5,1561.4 L448.6,1559.8 L448.6,1558.3 Z" fill="none" stroke="#1a9850" stroke-width="3.0" stroke-linejoin="round"/>
<line x1="487.9" y1="1647.3" x2="496.7" y2="1647.3" stroke="#000" stroke-width="1.3" stroke-dasharray="1.6 1.8"/>
<path d="M476.1,1558.3 L476.1,1559.8 L476.3,1561.4 L476.5,1562.9 L476.8,1564.4 L477.2,1566.0 L477.7,1567.5 L478.2,1569.0 L478.8,1570.6 L479.5,1572.1 L480.2,1573.7 L480.9,1575.2 L481.7,1576.7 L482.6,1578.3 L483.4,1579.8 L484.2,1581.3 L485.0,1582.9 L485.9,1584.4 L486.7,1585.9 L487.4,1587.5 L488.1,1589.0 L488.8,1590.5 L489.4,1592.1 L489.9,1593.6 L490.4,1595.1 L490.8,1596.7 L491.1,1598.2 L491.3,1599.8 L491.5,1601.3 L491.5,1602.8 L491.5,1604.4 L491.4,1605.9 L491.4,1607.4 L491.3,1609.0 L491.2,1610.5 L491.0,1612.0 L490.9,1613.6 L490.7,1615.1 L490.5,1616.6 L490.3,1618.2 L490.1,1619.7 L489.8,1621.2 L489.6,1622.8 L489.3,1624.3 L489.1,1625.9 L488.8,1627.4 L488.6,1628.9 L488.3,1630.5 L488.1,1632.0 L487.9,1633.5 L487.7,1635.1 L487.5,1636.6 L487.4,1638.1 L487.2,1639.7 L487.1,1641.2 L487.0,1642.7 L487.0,1644.3 L486.9,1645.8 L486.9,1647.3 L486.9,1648.9 L487.0,1650.4 L487.1,1652.0 L487.3,1653.5 L487.5,1655.0 L487.7,1656.6 L488.0,1658.1 L488.2,1659.7 L488.6,1661.2 L488.9,1662.7 L489.2,1664.3 L489.5,1665.8 L489.8,1667.3 L490.2,1668.9 L490.4,1670.4 L490.7,1672.0 L490.9,1673.5 L491.1,1675.0 L491.3,1676.6 L491.4,1678.1 L491.5,1679.7 L491.5,1681.2 L491.5,1682.7 L491.5,1684.2 L491.5,1685.7 L491.5,1687.2 L491.5,1688.7 L491.5,1690.2 L491.5,1691.7 L491.5,1693.2 L491.5,1694.7 L491.5,1696.2 L491.5,1697.7 L491.5,1699.2 L491.5,1700.7 L491.5,1702.2 L491.5,1703.7 L491.5,1705.2 L491.5,1706.7 L491.5,1708.2 L491.5,1709.7 L491.5,1711.2 L491.5,1712.7 L491.5,1714.2 L491.5,1715.8 L491.5,1717.3 L491.5,1718.8 L491.5,1720.3 L491.5,1721.8 L491.5,1723.3 L491.5,1724.8 L491.5,1726.3 L491.5,1727.8 L491.5,1729.3 L491.5,1730.8 L491.5,1732.3 L491.5,1733.8 L491.5,1735.3 L491.5,1736.8 L491.5,1738.3 L491.5,1739.8 L491.5,1741.3 L491.5,1742.8 L491.5,1744.3 L491.5,1745.8 L491.5,1747.3 L491.5,1748.8 L491.5,1750.3 L491.5,1751.8 L491.5,1753.3 L491.5,1754.8 L491.5,1756.3 L491.5,1757.8 L491.5,1759.3 L491.5,1760.8 L491.5,1762.3 L491.5,1763.8 L491.5,1765.3 L491.5,1766.8 L491.5,1768.3 L491.5,1769.8 L491.5,1771.4 L491.5,1772.9 L491.5,1774.4 L491.5,1775.9 L491.5,1777.4 L491.5,1778.9 L491.5,1780.4 L491.5,1781.9 L491.5,1783.4 L491.5,1784.9 L491.5,1786.4 L491.5,1787.9 L491.5,1789.4 L491.5,1790.9 L491.5,1792.4 L491.5,1793.9 L491.5,1795.4 L491.5,1796.9 L491.5,1798.4 L491.5,1799.9 L491.5,1801.4 L491.5,1802.9 L491.5,1804.4 L491.5,1805.9 L491.5,1807.4 L491.5,1808.9 L491.5,1810.4 L491.5,1811.9 L491.5,1813.4 L491.5,1814.9 L491.5,1816.4 L491.5,1817.9 L491.5,1819.4 L491.5,1820.9 L491.5,1822.4 L491.5,1823.9 L491.5,1825.5 L493.1,1825.5 L493.1,1823.9 L493.1,1822.4 L493.1,1820.9 L493.1,1819.4 L493.1,1817.9 L493.1,1816.4 L493.1,1814.9 L493.1,1813.4 L493.1,1811.9 L493.1,1810.4 L493.1,1808.9 L493.1,1807.4 L493.1,1805.9 L493.1,1804.4 L493.1,1802.9 L493.1,1801.4 L493.1,1799.9 L493.1,1798.4 L493.1,1796.9 L493.1,1795.4 L493.1,1793.9 L493.1,1792.4 L493.1,1790.9 L493.1,1789.4 L493.1,1787.9 L493.1,1786.4 L493.1,1784.9 L493.1,1783.4 L493.1,1781.9 L493.1,1780.4 L493.1,1778.9 L493.1,1777.4 L493.1,1775.9 L493.1,1774.4 L493.1,1772.9 L493.1,1771.4 L493.1,1769.8 L493.1,1768.3 L493.1,1766.8 L493.1,1765.3 L493.1,1763.8 L493.1,1762.3 L493.1,1760.8 L493.1,1759.3 L493.1,1757.8 L493.1,1756.3 L493.1,1754.8 L493.1,1753.3 L493.1,1751.8 L493.1,1750.3 L493.1,1748.8 L493.1,1747.3 L493.1,1745.8 L493.1,1744.3 L493.1,1742.8 L493.1,1741.3 L493.1,1739.8 L493.1,1738.3 L493.1,1736.8 L493.1,1735.3 L493.1,1733.8 L493.1,1732.3 L493.1,1730.8 L493.1,1729.3 L493.1,1727.8 L493.1,1726.3 L493.1,1724.8 L493.1,1723.3 L493.1,1721.8 L493.1,1720.3 L493.1,1718.8 L493.1,1717.3 L493.1,1715.8 L493.1,1714.2 L493.1,1712.7 L493.1,1711.2 L493.1,1709.7 L493.1,1708.2 L493.1,1706.7 L493.1,1705.2 L493.1,1703.7 L493.1,1702.2 L493.1,1700.7 L493.1,1699.2 L493.1,1697.7 L493.1,1696.2 L493.1,1694.7 L493.1,1693.2 L493.1,1691.7 L493.1,1690.2 L493.1,1688.7 L493.1,1687.2 L493.1,1685.7 L493.1,1684.2 L493.1,1682.7 L493.1,1681.2 L493.1,1679.7 L493.2,1678.1 L493.3,1676.6 L493.5,1675.0 L493.7,1673.5 L493.9,1672.0 L494.2,1670.4 L494.4,1668.9 L494.8,1667.3 L495.1,1665.8 L495.4,1664.3 L495.7,1662.7 L496.0,1661.2 L496.4,1659.7 L496.6,1658.1 L496.9,1656.6 L497.1,1655.0 L497.3,1653.5 L497.5,1652.0 L497.6,1650.4 L497.7,1648.9 L497.7,1647.3 L497.7,1645.8 L497.6,1644.3 L497.6,1642.7 L497.5,1641.2 L497.4,1639.7 L497.2,1638.1 L497.1,1636.6 L496.9,1635.1 L496.7,1633.5 L496.5,1632.0 L496.3,1630.5 L496.0,1628.9 L495.8,1627.4 L495.5,1625.9 L495.3,1624.3 L495.0,1622.8 L494.8,1621.2 L494.5,1619.7 L494.3,1618.2 L494.1,1616.6 L493.9,1615.1 L493.7,1613.6 L493.6,1612.0 L493.4,1610.5 L493.3,1609.0 L493.2,1607.4 L493.2,1605.9 L493.1,1604.4 L493.1,1602.8 L493.1,1601.3 L493.3,1599.8 L493.5,1598.2 L493.8,1596.7 L494.2,1595.1 L494.7,1593.6 L495.2,1592.1 L495.8,1590.5 L496.5,1589.0 L497.2,1587.5 L497.9,1585.9 L498.7,1584.4 L499.6,1582.9 L500.4,1581.3 L501.2,1579.8 L502.0,1578.3 L502.9,1576.7 L503.7,1575.2 L504.4,1573.7 L505.1,1572.1 L505.8,1570.6 L506.4,1569.0 L506.9,1567.5 L507.4,1566.0 L507.8,1564.4 L508.1,1562.9 L508.3,1561.4 L508.5,1559.8 L508.5,1558.3 Z" fill="none" stroke="#000" stroke-width="3.0" stroke-linejoin="round"/>
<line x1="539.5" y1="1647.3" x2="550.7" y2="1647.3" stroke="#a61e5c" stroke-width="1.3" stroke-dasharray="1.6 1.8"/>
<line x1="532.7" y1="1736.4" x2="557.5" y2="1736.4" stroke="#a61e5c" stroke-width="1.3" stroke-dasharray="1.6 1.8"/>
<path d="M538.5,1647.3 L538.5,1648.9 L538.5,1650.5 L538.5,1652.0 L538.5,1653.6 L538.5,1655.1 L538.5,1656.7 L538.5,1658.3 L538.5,1659.8 L538.5,1661.4 L538.5,1662.9 L538.5,1664.5 L538.5,1666.1 L538.5,1667.6 L538.5,1669.2 L538.5,1670.7 L538.5,1672.3 L538.5,1673.8 L538.5,1675.4 L538.5,1677.0 L538.5,1678.5 L538.5,1680.0 L538.5,1681.6 L538.4,1683.1 L538.3,1684.6 L538.2,1686.1 L538.1,1687.7 L537.9,1689.2 L537.8,1690.7 L537.6,1692.2 L537.4,1693.7 L537.2,1695.3 L537.0,1696.8 L536.7,1698.3 L536.5,1699.8 L536.2,1701.4 L535.9,1702.9 L535.7,1704.4 L535.4,1705.9 L535.1,1707.5 L534.8,1709.0 L534.5,1710.5 L534.3,1712.0 L534.0,1713.6 L533.7,1715.1 L533.5,1716.6 L533.2,1718.1 L533.0,1719.6 L532.8,1721.2 L532.6,1722.7 L532.4,1724.2 L532.3,1725.7 L532.1,1727.3 L532.0,1728.8 L531.9,1730.3 L531.8,1731.8 L531.7,1733.4 L531.7,1734.9 L531.7,1736.4 L531.7,1737.9 L531.7,1739.5 L531.8,1741.0 L531.9,1742.5 L532.0,1744.1 L532.1,1745.6 L532.2,1747.1 L532.3,1748.6 L532.5,1750.2 L532.7,1751.7 L532.9,1753.2 L533.1,1754.8 L533.3,1756.3 L533.5,1757.8 L533.7,1759.4 L533.9,1760.9 L534.1,1762.4 L534.3,1763.9 L534.5,1765.5 L534.7,1767.0 L534.9,1768.5 L535.1,1770.1 L535.3,1771.6 L535.5,1773.1 L535.6,1774.7 L535.7,1776.2 L535.8,1777.7 L535.9,1779.3 L536.0,1780.8 L536.1,1782.3 L536.1,1783.8 L536.1,1785.4 L536.1,1786.9 L536.1,1788.5 L536.1,1790.0 L536.1,1791.5 L536.0,1793.1 L536.0,1794.6 L536.0,1796.2 L535.9,1797.7 L535.9,1799.2 L535.8,1800.8 L535.8,1802.3 L535.7,1803.9 L535.7,1805.4 L535.7,1807.0 L535.6,1808.5 L535.6,1810.0 L535.5,1811.6 L535.5,1813.1 L535.4,1814.7 L535.4,1816.2 L535.4,1817.7 L535.3,1819.3 L535.3,1820.8 L535.3,1822.4 L535.3,1823.9 L535.3,1825.5 L535.3,1827.0 L535.3,1828.6 L535.4,1830.2 L535.4,1831.7 L535.5,1833.3 L535.5,1834.9 L535.6,1836.5 L535.7,1838.0 L535.7,1839.6 L535.8,1841.2 L535.9,1842.7 L535.9,1844.3 L536.0,1845.9 L536.0,1847.5 L536.1,1849.0 L536.1,1850.6 L536.1,1852.2 L536.1,1853.7 L536.1,1855.2 L536.0,1856.7 L535.9,1858.2 L535.8,1859.8 L535.7,1861.3 L535.6,1862.8 L535.5,1864.3 L535.3,1865.8 L535.1,1867.4 L534.9,1868.9 L534.7,1870.4 L534.5,1871.9 L534.3,1873.5 L534.0,1875.0 L533.8,1876.5 L533.5,1878.0 L533.3,1879.5 L533.0,1881.1 L532.7,1882.6 L532.5,1884.1 L532.2,1885.6 L531.9,1887.1 L531.7,1888.7 L531.4,1890.2 L531.2,1891.7 L530.9,1893.2 L530.7,1894.7 L530.5,1896.3 L530.3,1897.8 L530.1,1899.3 L529.9,1900.8 L529.7,1902.3 L529.6,1903.9 L529.5,1905.4 L529.4,1906.9 L529.3,1908.4 L529.2,1909.9 L529.1,1911.5 L529.1,1913.0 L529.1,1914.5 L561.1,1914.5 L561.1,1913.0 L561.1,1911.5 L561.0,1909.9 L560.9,1908.4 L560.8,1906.9 L560.7,1905.4 L560.6,1903.9 L560.5,1902.3 L560.3,1900.8 L560.1,1899.3 L559.9,1897.8 L559.7,1896.3 L559.5,1894.7 L559.3,1893.2 L559.0,1891.7 L558.8,1890.2 L558.5,1888.7 L558.3,1887.1 L558.0,1885.6 L557.7,1884.1 L557.5,1882.6 L557.2,1881.1 L556.9,1879.5 L556.7,1878.0 L556.4,1876.5 L556.2,1875.0 L555.9,1873.5 L555.7,1871.9 L555.5,1870.4 L555.3,1868.9 L555.1,1867.4 L554.9,1865.8 L554.7,1864.3 L554.6,1862.8 L554.5,1861.3 L554.4,1859.8 L554.3,1858.2 L554.2,1856.7 L554.1,1855.2 L554.1,1853.7 L554.1,1852.2 L554.1,1850.6 L554.1,1849.0 L554.2,1847.5 L554.2,1845.9 L554.3,1844.3 L554.3,1842.7 L554.4,1841.2 L554.5,1839.6 L554.5,1838.0 L554.6,1836.5 L554.7,1834.9 L554.7,1833.3 L554.8,1831.7 L554.8,1830.2 L554.9,1828.6 L554.9,1827.0 L554.9,1825.5 L554.9,1823.9 L554.9,1822.4 L554.9,1820.8 L554.9,1819.3 L554.8,1817.7 L554.8,1816.2 L554.8,1814.7 L554.7,1813.1 L554.7,1811.6 L554.6,1810.0 L554.6,1808.5 L554.5,1807.0 L554.5,1805.4 L554.5,1803.9 L554.4,1802.3 L554.4,1800.8 L554.3,1799.2 L554.3,1797.7 L554.2,1796.2 L554.2,1794.6 L554.2,1793.1 L554.1,1791.5 L554.1,1790.0 L554.1,1788.5 L554.1,1786.9 L554.1,1785.4 L554.1,1783.8 L554.1,1782.3 L554.2,1780.8 L554.3,1779.3 L554.4,1777.7 L554.5,1776.2 L554.6,1774.7 L554.7,1773.1 L554.9,1771.6 L555.1,1770.1 L555.3,1768.5 L555.5,1767.0 L555.7,1765.5 L555.9,1763.9 L556.1,1762.4 L556.3,1760.9 L556.5,1759.4 L556.7,1757.8 L556.9,1756.3 L557.1,1754.8 L557.3,1753.2 L557.5,1751.7 L557.7,1750.2 L557.9,1748.6 L558.0,1747.1 L558.1,1745.6 L558.2,1744.1 L558.3,1742.5 L558.4,1741.0 L558.5,1739.5 L558.5,1737.9 L558.5,1736.4 L558.5,1734.9 L558.5,1733.4 L558.4,1731.8 L558.3,1730.3 L558.2,1728.8 L558.1,1727.3 L557.9,1725.7 L557.8,1724.2 L557.6,1722.7 L557.4,1721.2 L557.2,1719.6 L557.0,1718.1 L556.7,1716.6 L556.5,1715.1 L556.2,1713.6 L555.9,1712.0 L555.7,1710.5 L555.4,1709.0 L555.1,1707.5 L554.8,1705.9 L554.5,1704.4 L554.3,1702.9 L554.0,1701.4 L553.7,1699.8 L553.5,1698.3 L553.2,1696.8 L553.0,1695.3 L552.8,1693.7 L552.6,1692.2 L552.4,1690.7 L552.3,1689.2 L552.1,1687.7 L552.0,1686.1 L551.9,1684.6 L551.8,1683.1 L551.7,1681.6 L551.7,1680.0 L551.7,1678.5 L551.7,1677.0 L551.7,1675.4 L551.7,1673.8 L551.7,1672.3 L551.7,1670.7 L551.7,1669.2 L551.7,1667.6 L551.7,1666.1 L551.7,1664.5 L551.7,1662.9 L551.7,1661.4 L551.7,1659.8 L551.7,1658.3 L551.7,1656.7 L551.7,1655.1 L551.7,1653.6 L551.7,1652.0 L551.7,1650.5 L551.7,1648.9 L551.7,1647.3 Z" fill="none" stroke="#a61e5c" stroke-width="3.0" stroke-linejoin="round"/>
<line x1="590.4" y1="1647.3" x2="606.4" y2="1647.3" stroke="#14289f" stroke-width="1.3" stroke-dasharray="1.6 1.8"/>
<line x1="583.2" y1="1736.4" x2="613.6" y2="1736.4" stroke="#14289f" stroke-width="1.3" stroke-dasharray="1.6 1.8"/>
<path d="M594.0,1558.3 L594.0,1559.8 L594.0,1561.4 L594.1,1562.9 L594.2,1564.4 L594.3,1566.0 L594.4,1567.5 L594.5,1569.0 L594.7,1570.6 L594.8,1572.1 L595.0,1573.7 L595.2,1575.2 L595.4,1576.7 L595.6,1578.3 L595.8,1579.8 L596.0,1581.3 L596.2,1582.9 L596.4,1584.4 L596.6,1585.9 L596.8,1587.5 L597.0,1589.0 L597.1,1590.5 L597.3,1592.1 L597.4,1593.6 L597.5,1595.1 L597.6,1596.7 L597.7,1598.2 L597.8,1599.8 L597.8,1601.3 L597.8,1602.8 L597.8,1604.4 L597.7,1605.9 L597.6,1607.4 L597.4,1609.0 L597.2,1610.5 L596.9,1612.0 L596.6,1613.6 L596.3,1615.1 L596.0,1616.6 L595.6,1618.2 L595.2,1619.7 L594.7,1621.2 L594.3,1622.8 L593.8,1624.3 L593.4,1625.9 L592.9,1627.4 L592.5,1628.9 L592.0,1630.5 L591.6,1632.0 L591.2,1633.5 L590.9,1635.1 L590.6,1636.6 L590.3,1638.1 L590.0,1639.7 L589.8,1641.2 L589.6,1642.7 L589.5,1644.3 L589.4,1645.8 L589.4,1647.3 L589.4,1648.9 L589.5,1650.5 L589.7,1652.0 L589.8,1653.6 L590.1,1655.1 L590.4,1656.7 L590.7,1658.2 L591.1,1659.8 L591.5,1661.3 L591.9,1662.9 L592.4,1664.4 L592.9,1666.0 L593.4,1667.5 L593.8,1669.1 L594.3,1670.6 L594.8,1672.2 L595.3,1673.7 L595.7,1675.3 L596.1,1676.8 L596.5,1678.4 L596.8,1679.9 L597.1,1681.5 L597.4,1683.0 L597.5,1684.6 L597.7,1686.1 L597.8,1687.7 L597.8,1689.2 L597.8,1690.7 L597.6,1692.2 L597.4,1693.8 L597.2,1695.3 L596.8,1696.8 L596.4,1698.3 L595.9,1699.9 L595.4,1701.4 L594.8,1702.9 L594.1,1704.4 L593.4,1706.0 L592.7,1707.5 L592.0,1709.0 L591.2,1710.5 L590.4,1712.0 L589.6,1713.6 L588.8,1715.1 L588.0,1716.6 L587.3,1718.1 L586.6,1719.7 L585.9,1721.2 L585.2,1722.7 L584.6,1724.2 L584.1,1725.7 L583.6,1727.3 L583.2,1728.8 L582.8,1730.3 L582.6,1731.8 L582.4,1733.4 L582.2,1734.9 L582.2,1736.4 L582.2,1737.9 L582.3,1739.5 L582.5,1741.0 L582.8,1742.5 L583.1,1744.1 L583.5,1745.6 L584.0,1747.1 L584.5,1748.6 L585.1,1750.2 L585.7,1751.7 L586.3,1753.2 L587.0,1754.8 L587.7,1756.3 L588.5,1757.8 L589.2,1759.4 L590.0,1760.9 L590.8,1762.4 L591.5,1763.9 L592.3,1765.5 L593.0,1767.0 L593.7,1768.5 L594.3,1770.1 L594.9,1771.6 L595.5,1773.1 L596.0,1774.7 L596.5,1776.2 L596.9,1777.7 L597.2,1779.3 L597.5,1780.8 L597.7,1782.3 L597.8,1783.8 L597.8,1785.4 L597.8,1786.9 L597.8,1788.5 L597.7,1790.0 L597.7,1791.5 L597.6,1793.1 L597.5,1794.6 L597.4,1796.2 L597.3,1797.7 L597.2,1799.2 L597.1,1800.8 L596.9,1802.3 L596.8,1803.9 L596.6,1805.4 L596.5,1807.0 L596.4,1808.5 L596.2,1810.0 L596.1,1811.6 L596.0,1813.1 L595.9,1814.7 L595.8,1816.2 L595.7,1817.7 L595.6,1819.3 L595.6,1820.8 L595.5,1822.4 L595.5,1823.9 L595.5,1825.5 L601.3,1825.5 L601.3,1823.9 L601.3,1822.4 L601.2,1820.8 L601.2,1819.3 L601.1,1817.7 L601.0,1816.2 L600.9,1814.7 L600.8,1813.1 L600.7,1811.6 L600.6,1810.0 L600.4,1808.5 L600.3,1807.0 L600.1,1805.4 L600.0,1803.9 L599.9,1802.3 L599.7,1800.8 L599.6,1799.2 L599.5,1797.7 L599.4,1796.2 L599.3,1794.6 L599.2,1793.1 L599.1,1791.5 L599.1,1790.0 L599.0,1788.5 L599.0,1786.9 L599.0,1785.4 L599.0,1783.8 L599.1,1782.3 L599.3,1780.8 L599.6,1779.3 L599.9,1777.7 L600.3,1776.2 L600.8,1774.7 L601.3,1773.1 L601.9,1771.6 L602.5,1770.1 L603.1,1768.5 L603.8,1767.0 L604.5,1765.5 L605.3,1763.9 L606.0,1762.4 L606.8,1760.9 L607.6,1759.4 L608.3,1757.8 L609.1,1756.3 L609.8,1754.8 L610.5,1753.2 L611.1,1751.7 L611.7,1750.2 L612.3,1748.6 L612.8,1747.1 L613.3,1745.6 L613.7,1744.1 L614.0,1742.5 L614.3,1741.0 L614.5,1739.5 L614.6,1737.9 L614.6,1736.4 L614.6,1734.9 L614.4,1733.4 L614.2,1731.8 L614.0,1730.3 L613.6,1728.8 L613.2,1727.3 L612.7,1725.7 L612.2,1724.2 L611.6,1722.7 L610.9,1721.2 L610.2,1719.7 L609.5,1718.1 L608.8,1716.6 L608.0,1715.1 L607.2,1713.6 L606.4,1712.0 L605.6,1710.5 L604.8,1709.0 L604.1,1707.5 L603.4,1706.0 L602.7,1704.4 L602.0,1702.9 L601.4,1701.4 L600.9,1699.9 L600.4,1698.3 L600.0,1696.8 L599.6,1695.3 L599.4,1693.8 L599.2,1692.2 L599.0,1690.7 L599.0,1689.2 L599.0,1687.7 L599.1,1686.1 L599.3,1684.6 L599.4,1683.0 L599.7,1681.5 L600.0,1679.9 L600.3,1678.4 L600.7,1676.8 L601.1,1675.3 L601.5,1673.7 L602.0,1672.2 L602.5,1670.6 L603.0,1669.1 L603.4,1667.5 L603.9,1666.0 L604.4,1664.4 L604.9,1662.9 L605.3,1661.3 L605.7,1659.8 L606.1,1658.2 L606.4,1656.7 L606.7,1655.1 L607.0,1653.6 L607.1,1652.0 L607.3,1650.5 L607.4,1648.9 L607.4,1647.3 L607.4,1645.8 L607.3,1644.3 L607.2,1642.7 L607.0,1641.2 L606.8,1639.7 L606.5,1638.1 L606.2,1636.6 L605.9,1635.1 L605.6,1633.5 L605.2,1632.0 L604.8,1630.5 L604.3,1628.9 L603.9,1627.4 L603.4,1625.9 L603.0,1624.3 L602.5,1622.8 L602.1,1621.2 L601.6,1619.7 L601.2,1618.2 L600.8,1616.6 L600.5,1615.1 L600.2,1613.6 L599.9,1612.0 L599.6,1610.5 L599.4,1609.0 L599.2,1607.4 L599.1,1605.9 L599.0,1604.4 L599.0,1602.8 L599.0,1601.3 L599.0,1599.8 L599.1,1598.2 L599.2,1596.7 L599.3,1595.1 L599.4,1593.6 L599.5,1592.1 L599.7,1590.5 L599.8,1589.0 L600.0,1587.5 L600.2,1585.9 L600.4,1584.4 L600.6,1582.9 L600.8,1581.3 L601.0,1579.8 L601.2,1578.3 L601.4,1576.7 L601.6,1575.2 L601.8,1573.7 L602.0,1572.1 L602.1,1570.6 L602.3,1569.0 L602.4,1567.5 L602.5,1566.0 L602.6,1564.4 L602.7,1562.9 L602.8,1561.4 L602.8,1559.8 L602.8,1558.3 Z" fill="none" stroke="#14289f" stroke-width="3.0" stroke-linejoin="round"/>
<line x1="647.4" y1="1647.3" x2="656.0" y2="1647.3" stroke="#1a9850" stroke-width="1.3" stroke-dasharray="1.6 1.8"/>
<line x1="636.8" y1="1736.4" x2="666.6" y2="1736.4" stroke="#1a9850" stroke-width="1.3" stroke-dasharray="1.6 1.8"/>
<path d="M647.3,1558.3 L647.3,1559.9 L647.4,1561.4 L647.6,1563.0 L647.8,1564.6 L648.1,1566.2 L648.4,1567.7 L648.7,1569.3 L649.0,1570.9 L649.4,1572.4 L649.7,1574.0 L650.0,1575.6 L650.3,1577.2 L650.6,1578.7 L650.8,1580.3 L651.0,1581.9 L651.1,1583.4 L651.1,1585.0 L651.1,1586.5 L651.1,1588.1 L651.0,1589.6 L651.0,1591.1 L650.9,1592.6 L650.9,1594.1 L650.8,1595.7 L650.7,1597.2 L650.6,1598.7 L650.4,1600.2 L650.3,1601.7 L650.2,1603.3 L650.0,1604.8 L649.9,1606.3 L649.7,1607.8 L649.5,1609.3 L649.4,1610.9 L649.2,1612.4 L649.0,1613.9 L648.8,1615.4 L648.7,1616.9 L648.5,1618.5 L648.3,1620.0 L648.1,1621.5 L648.0,1623.0 L647.8,1624.5 L647.6,1626.1 L647.5,1627.6 L647.3,1629.1 L647.2,1630.6 L647.1,1632.1 L646.9,1633.7 L646.8,1635.2 L646.7,1636.7 L646.6,1638.2 L646.6,1639.7 L646.5,1641.3 L646.5,1642.8 L646.4,1644.3 L646.4,1645.8 L646.4,1647.3 L646.4,1648.9 L646.4,1650.4 L646.5,1651.9 L646.6,1653.4 L646.7,1654.9 L646.8,1656.4 L646.9,1657.9 L647.1,1659.4 L647.3,1660.9 L647.4,1662.4 L647.6,1663.9 L647.9,1665.4 L648.1,1666.9 L648.3,1668.4 L648.5,1669.9 L648.8,1671.4 L649.0,1672.9 L649.2,1674.4 L649.4,1675.9 L649.6,1677.4 L649.9,1678.9 L650.1,1680.4 L650.2,1681.9 L650.4,1683.4 L650.6,1684.9 L650.7,1686.4 L650.8,1687.9 L650.9,1689.4 L651.0,1690.9 L651.1,1692.4 L651.1,1693.9 L651.1,1695.4 L651.0,1697.0 L650.9,1698.5 L650.6,1700.0 L650.3,1701.5 L649.8,1703.0 L649.3,1704.5 L648.7,1706.1 L648.0,1707.6 L647.3,1709.1 L646.5,1710.6 L645.6,1712.1 L644.8,1713.6 L643.9,1715.2 L643.0,1716.7 L642.1,1718.2 L641.3,1719.7 L640.4,1721.2 L639.6,1722.7 L638.9,1724.3 L638.2,1725.8 L637.6,1727.3 L637.1,1728.8 L636.6,1730.3 L636.3,1731.8 L636.0,1733.4 L635.9,1734.9 L635.8,1736.4 L635.8,1737.9 L635.9,1739.5 L636.1,1741.0 L636.4,1742.5 L636.7,1744.1 L637.1,1745.6 L637.5,1747.1 L638.0,1748.6 L638.6,1750.2 L639.2,1751.7 L639.8,1753.2 L640.5,1754.8 L641.2,1756.3 L642.0,1757.8 L642.7,1759.4 L643.5,1760.9 L644.2,1762.4 L644.9,1763.9 L645.7,1765.5 L646.4,1767.0 L647.1,1768.5 L647.7,1770.1 L648.3,1771.6 L648.9,1773.1 L649.4,1774.7 L649.8,1776.2 L650.2,1777.7 L650.5,1779.3 L650.8,1780.8 L651.0,1782.3 L651.1,1783.8 L651.1,1785.4 L651.1,1786.9 L651.0,1788.5 L651.0,1790.0 L650.9,1791.5 L650.8,1793.1 L650.6,1794.6 L650.5,1796.2 L650.3,1797.7 L650.1,1799.2 L649.9,1800.8 L649.7,1802.3 L649.4,1803.9 L649.2,1805.4 L649.0,1807.0 L648.7,1808.5 L648.5,1810.0 L648.3,1811.6 L648.1,1813.1 L647.9,1814.7 L647.8,1816.2 L647.6,1817.7 L647.5,1819.3 L647.4,1820.8 L647.4,1822.4 L647.3,1823.9 L647.3,1825.5 L647.3,1827.0 L647.3,1828.5 L647.4,1830.1 L647.5,1831.6 L647.6,1833.1 L647.7,1834.7 L647.8,1836.2 L648.0,1837.7 L648.1,1839.3 L648.3,1840.8 L648.5,1842.3 L648.7,1843.9 L648.9,1845.4 L649.1,1846.9 L649.3,1848.5 L649.5,1850.0 L649.7,1851.6 L649.9,1853.1 L650.1,1854.6 L650.3,1856.2 L650.4,1857.7 L650.6,1859.2 L650.7,1860.8 L650.8,1862.3 L650.9,1863.8 L651.0,1865.4 L651.1,1866.9 L651.1,1868.4 L651.1,1870.0 L651.1,1871.5 L651.1,1873.0 L651.1,1874.6 L651.0,1876.1 L651.0,1877.7 L651.0,1879.2 L650.9,1880.7 L650.9,1882.3 L650.8,1883.8 L650.8,1885.3 L650.7,1886.9 L650.7,1888.4 L650.6,1889.9 L650.5,1891.5 L650.5,1893.0 L650.4,1894.5 L650.3,1896.1 L650.3,1897.6 L650.2,1899.1 L650.2,1900.7 L650.1,1902.2 L650.1,1903.8 L650.0,1905.3 L650.0,1906.8 L650.0,1908.4 L649.9,1909.9 L649.9,1911.4 L649.9,1913.0 L649.9,1914.5 L653.5,1914.5 L653.5,1913.0 L653.5,1911.4 L653.5,1909.9 L653.4,1908.4 L653.4,1906.8 L653.4,1905.3 L653.3,1903.8 L653.3,1902.2 L653.2,1900.7 L653.2,1899.1 L653.1,1897.6 L653.1,1896.1 L653.0,1894.5 L652.9,1893.0 L652.9,1891.5 L652.8,1889.9 L652.7,1888.4 L652.7,1886.9 L652.6,1885.3 L652.6,1883.8 L652.5,1882.3 L652.5,1880.7 L652.4,1879.2 L652.4,1877.7 L652.4,1876.1 L652.3,1874.6 L652.3,1873.0 L652.3,1871.5 L652.3,1870.0 L652.3,1868.4 L652.3,1866.9 L652.4,1865.4 L652.5,1863.8 L652.6,1862.3 L652.7,1860.8 L652.8,1859.2 L653.0,1857.7 L653.1,1856.2 L653.3,1854.6 L653.5,1853.1 L653.7,1851.6 L653.9,1850.0 L654.1,1848.5 L654.3,1846.9 L654.5,1845.4 L654.7,1843.9 L654.9,1842.3 L655.1,1840.8 L655.3,1839.3 L655.4,1837.7 L655.6,1836.2 L655.7,1834.7 L655.8,1833.1 L655.9,1831.6 L656.0,1830.1 L656.1,1828.5 L656.1,1827.0 L656.1,1825.5 L656.1,1823.9 L656.0,1822.4 L656.0,1820.8 L655.9,1819.3 L655.8,1817.7 L655.6,1816.2 L655.5,1814.7 L655.3,1813.1 L655.1,1811.6 L654.9,1810.0 L654.7,1808.5 L654.4,1807.0 L654.2,1805.4 L654.0,1803.9 L653.7,1802.3 L653.5,1800.8 L653.3,1799.2 L653.1,1797.7 L652.9,1796.2 L652.8,1794.6 L652.6,1793.1 L652.5,1791.5 L652.4,1790.0 L652.4,1788.5 L652.3,1786.9 L652.3,1785.4 L652.3,1783.8 L652.4,1782.3 L652.6,1780.8 L652.9,1779.3 L653.2,1777.7 L653.6,1776.2 L654.0,1774.7 L654.5,1773.1 L655.1,1771.6 L655.7,1770.1 L656.3,1768.5 L657.0,1767.0 L657.7,1765.5 L658.5,1763.9 L659.2,1762.4 L660.0,1760.9 L660.7,1759.4 L661.4,1757.8 L662.2,1756.3 L662.9,1754.8 L663.6,1753.2 L664.2,1751.7 L664.8,1750.2 L665.4,1748.6 L665.9,1747.1 L666.3,1745.6 L666.7,1744.1 L667.0,1742.5 L667.3,1741.0 L667.5,1739.5 L667.6,1737.9 L667.6,1736.4 L667.5,1734.9 L667.4,1733.4 L667.1,1731.8 L666.8,1730.3 L666.3,1728.8 L665.8,1727.3 L665.2,1725.8 L664.5,1724.3 L663.8,1722.7 L663.0,1721.2 L662.1,1719.7 L661.3,1718.2 L660.4,1716.7 L659.5,1715.2 L658.6,1713.6 L657.8,1712.1 L656.9,1710.6 L656.1,1709.1 L655.4,1707.6 L654.7,1706.1 L654.1,1704.5 L653.6,1703.0 L653.1,1701.5 L652.8,1700.0 L652.5,1698.5 L652.4,1697.0 L652.3,1695.4 L652.3,1693.9 L652.3,1692.4 L652.4,1690.9 L652.5,1689.4 L652.6,1687.9 L652.7,1686.4 L652.8,1684.9 L653.0,1683.4 L653.2,1681.9 L653.3,1680.4 L653.5,1678.9 L653.8,1677.4 L654.0,1675.9 L654.2,1674.4 L654.4,1672.9 L654.7,1671.4 L654.9,1669.9 L655.1,1668.4 L655.3,1666.9 L655.5,1665.4 L655.8,1663.9 L656.0,1662.4 L656.1,1660.9 L656.3,1659.4 L656.5,1657.9 L656.6,1656.4 L656.7,1654.9 L656.8,1653.4 L656.9,1651.9 L657.0,1650.4 L657.0,1648.9 L657.0,1647.3 L657.0,1645.8 L657.0,1644.3 L656.9,1642.8 L656.9,1641.3 L656.8,1639.7 L656.8,1638.2 L656.7,1636.7 L656.6,1635.2 L656.5,1633.7 L656.3,1632.1 L656.2,1630.6 L656.1,1629.1 L655.9,1627.6 L655.8,1626.1 L655.6,1624.5 L655.4,1623.0 L655.3,1621.5 L655.1,1620.0 L654.9,1618.5 L654.7,1616.9 L654.6,1615.4 L654.4,1613.9 L654.2,1612.4 L654.0,1610.9 L653.9,1609.3 L653.7,1607.8 L653.5,1606.3 L653.4,1604.8 L653.2,1603.3 L653.1,1601.7 L653.0,1600.2 L652.8,1598.7 L652.7,1597.2 L652.6,1595.7 L652.5,1594.1 L652.5,1592.6 L652.4,1591.1 L652.4,1589.6 L652.3,1588.1 L652.3,1586.5 L652.3,1585.0 L652.3,1583.4 L652.4,1581.9 L652.6,1580.3 L652.8,1578.7 L653.1,1577.2 L653.4,1575.6 L653.7,1574.0 L654.0,1572.4 L654.4,1570.9 L654.7,1569.3 L655.0,1567.7 L655.3,1566.2 L655.6,1564.6 L655.8,1563.0 L656.0,1561.4 L656.1,1559.9 L656.1,1558.3 Z" fill="none" stroke="#1a9850" stroke-width="3.0" stroke-linejoin="round"/>
<polyline points="327.2,1463.5 327.2,1446.1 547.0,1446.1 547.0,1461.6" fill="none" stroke="#000" stroke-width="3.3" stroke-linejoin="miter"/>
<text font-size="31" x="408.5" y="1451.0" style="letter-spacing:3.2px" stroke="#000" stroke-width="0.5">****</text>
<polyline points="327.2,1542.8 327.2,1485.0 438.2,1485.0 438.2,1542.8" fill="none" stroke="#000" stroke-width="3.3" stroke-linejoin="miter"/>
<text font-size="31" x="413.9" y="1485.4" style="letter-spacing:3.2px" stroke="#000" stroke-width="0.5">*</text>
<polyline points="327.2,1520.9 385.3,1520.9 385.3,1539.8" fill="none" stroke="#000" stroke-width="3.3" stroke-linejoin="miter"/>
<text x="334.3" y="1514.1">NS</text>
<polyline points="544.4,1539.0 544.4,1485.4 654.7,1485.4 654.7,1539.0" fill="none" stroke="#000" stroke-width="3.3" stroke-linejoin="miter"/>
<text x="587.4" y="1478.6">NS</text>
<polyline points="544.4,1520.1 603.7,1520.1 603.7,1539.0" fill="none" stroke="#000" stroke-width="3.3" stroke-linejoin="miter"/>
<text font-size="31" x="559.9" y="1517.2" style="letter-spacing:3.2px" stroke="#000" stroke-width="0.5">*</text>
<text transform="translate(425.0 1634.2) rotate(-90)"><tspan font-style="italic">P</tspan> = 0.025</text>
<text transform="translate(578.0 1663.3) rotate(-90)"><tspan font-style="italic">P</tspan> = 0.0088</text>
<text transform="translate(637.3 1665.6) rotate(-90)"><tspan font-style="italic">P</tspan> = 0.0714</text>
<text text-anchor="end" transform="translate(285.2 1949.9) rotate(-45)">hApoE3<tspan font-size="18" dy="-10">Glu</tspan><tspan dy="10"> (Veh)</tspan></text>
<text text-anchor="end" transform="translate(339.6 1949.9) rotate(-45)">hAβ<tspan font-size="18" dy="8.5">1–42</tspan><tspan font-size="18" dy="-18.5"> Glu</tspan><tspan dy="10">;hApoE3</tspan><tspan font-size="18" dy="-10">Glu</tspan><tspan dy="10"> (Veh)</tspan></text>
<text text-anchor="end" transform="translate(391.3 1949.9) rotate(-45)">hAβ<tspan font-size="18" dy="8.5">1–42</tspan><tspan font-size="18" dy="-18.5"> Glu</tspan><tspan dy="10">;hApoE3</tspan><tspan font-size="18" dy="-10">Glu</tspan><tspan dy="10"> (Kaem 0.2 mM)</tspan></text>
<text text-anchor="end" transform="translate(443.3 1949.9) rotate(-45)">hAβ<tspan font-size="18" dy="8.5">1–42</tspan><tspan font-size="18" dy="-18.5"> Glu</tspan><tspan dy="10">;hApoE3</tspan><tspan font-size="18" dy="-10">Glu</tspan><tspan dy="10"> (Rhap 0.2 mM)</tspan></text>
<text text-anchor="end" transform="translate(494.1 1949.9) rotate(-45)">hApoE4<tspan font-size="18" dy="-10">Glu</tspan><tspan dy="10"> (Veh)</tspan></text>
<text text-anchor="end" transform="translate(551.9 1949.9) rotate(-45)">hAβ<tspan font-size="18" dy="8.5">1–42</tspan><tspan font-size="18" dy="-18.5"> Glu</tspan><tspan dy="10">;hApoE4</tspan><tspan font-size="18" dy="-10">Glu</tspan><tspan dy="10"> (Veh)</tspan></text>
<text text-anchor="end" transform="translate(606.4 1949.9) rotate(-45)">hAβ<tspan font-size="18" dy="8.5">1–42</tspan><tspan font-size="18" dy="-18.5"> Glu</tspan><tspan dy="10">;hApoE4</tspan><tspan font-size="18" dy="-10">Glu</tspan><tspan dy="10"> (Kaem 0.2 mM)</tspan></text>
<text text-anchor="end" transform="translate(666.0 1949.9) rotate(-45)">hAβ<tspan font-size="18" dy="8.5">1–42</tspan><tspan font-size="18" dy="-18.5"> Glu</tspan><tspan dy="10">;hApoE4</tspan><tspan font-size="18" dy="-10">Glu</tspan><tspan dy="10"> (Rhap 0.2 mM)</tspan></text>
<line x1="869.2" y1="1554.2" x2="869.2" y2="1924.0" stroke="#333" stroke-width="1.5"/>
<line x1="857.9" y1="1924.0" x2="1327.9" y2="1924.0" stroke="#333" stroke-width="1.5"/>
<line x1="857.9" y1="1924.0" x2="869.2" y2="1924.0" stroke="#333" stroke-width="1.5"/>
<text text-anchor="end" x="844.9" y="1933.6">0</text>
<line x1="857.9" y1="1831.7" x2="869.2" y2="1831.7" stroke="#333" stroke-width="1.5"/>
<text text-anchor="end" x="844.9" y="1841.3">50</text>
<line x1="857.9" y1="1739.5" x2="869.2" y2="1739.5" stroke="#333" stroke-width="1.5"/>
<text text-anchor="end" x="844.9" y="1749.0">100</text>
<line x1="857.9" y1="1647.2" x2="869.2" y2="1647.2" stroke="#333" stroke-width="1.5"/>
<text text-anchor="end" x="844.9" y="1656.8">150</text>
<line x1="857.9" y1="1554.9" x2="869.2" y2="1554.9" stroke="#333" stroke-width="1.5"/>
<text text-anchor="end" x="844.9" y="1564.5">200</text>
<text text-anchor="middle" transform="translate(778.6 1739.0) rotate(-90)">Intensity of neuron-PVR</text>
<line x1="906.7" y1="1924.0" x2="906.7" y2="1935.7" stroke="#333" stroke-width="1.5"/>
<line x1="961.4" y1="1924.0" x2="961.4" y2="1935.7" stroke="#333" stroke-width="1.5"/>
<line x1="1016.2" y1="1924.0" x2="1016.2" y2="1935.7" stroke="#333" stroke-width="1.5"/>
<line x1="1071.4" y1="1924.0" x2="1071.4" y2="1935.7" stroke="#333" stroke-width="1.5"/>
<line x1="1126.1" y1="1924.0" x2="1126.1" y2="1935.7" stroke="#333" stroke-width="1.5"/>
<line x1="1181.3" y1="1924.0" x2="1181.3" y2="1935.7" stroke="#333" stroke-width="1.5"/>
<line x1="1236.1" y1="1924.0" x2="1236.1" y2="1935.7" stroke="#333" stroke-width="1.5"/>
<line x1="1291.2" y1="1924.0" x2="1291.2" y2="1935.7" stroke="#333" stroke-width="1.5"/>
<polyline points="889.8,1924.0 889.8,1816.8 923.6,1816.8 923.6,1924.0" fill="none" stroke="#000" stroke-width="2.5" stroke-linejoin="miter"/>
<line x1="906.7" y1="1798.6" x2="906.7" y2="1830.7" stroke="#000" stroke-width="1.6"/>
<line x1="897.2" y1="1798.6" x2="916.2" y2="1798.6" stroke="#000" stroke-width="1.6"/>
<line x1="897.2" y1="1830.7" x2="916.2" y2="1830.7" stroke="#000" stroke-width="1.6"/>
<circle cx="906.6" cy="1678.4" r="3.2" fill="#000"/>
<circle cx="906.6" cy="1710.2" r="3.2" fill="#000"/>
<circle cx="906.6" cy="1757.4" r="3.2" fill="#000"/>
<circle cx="906.4" cy="1781.8" r="3.2" fill="#000"/>
<circle cx="900.2" cy="1803.9" r="3.2" fill="#000"/>
<circle cx="912.5" cy="1803.9" r="3.2" fill="#000"/>
<circle cx="900.2" cy="1815.1" r="3.2" fill="#000"/>
<circle cx="912.5" cy="1813.4" r="3.2" fill="#000"/>
<circle cx="900.2" cy="1836.0" r="3.2" fill="#000"/>
<circle cx="912.5" cy="1841.5" r="3.2" fill="#000"/>
<circle cx="906.4" cy="1852.1" r="3.2" fill="#000"/>
<circle cx="906.4" cy="1860.9" r="3.2" fill="#000"/>
<circle cx="906.4" cy="1870.4" r="3.2" fill="#000"/>
<circle cx="906.4" cy="1884.2" r="3.2" fill="#000"/>
<circle cx="906.4" cy="1911.3" r="3.2" fill="#000"/>
<polyline points="944.5,1924.0 944.5,1881.0 978.3,1881.0 978.3,1924.0" fill="none" stroke="#8c0a0a" stroke-width="2.5" stroke-linejoin="miter"/>
<line x1="961.4" y1="1872.2" x2="961.4" y2="1887.3" stroke="#8c0a0a" stroke-width="1.6"/>
<line x1="951.9" y1="1872.2" x2="970.9" y2="1872.2" stroke="#8c0a0a" stroke-width="1.6"/>
<line x1="951.9" y1="1887.3" x2="970.9" y2="1887.3" stroke="#8c0a0a" stroke-width="1.6"/>
<circle cx="961.5" cy="1800.8" r="3.2" fill="#8c0a0a"/>
<circle cx="953.6" cy="1820.6" r="3.2" fill="#8c0a0a"/>
<circle cx="961.5" cy="1822.5" r="3.2" fill="#8c0a0a"/>
<circle cx="961.5" cy="1830.8" r="3.2" fill="#8c0a0a"/>
<circle cx="953.6" cy="1859.7" r="3.2" fill="#8c0a0a"/>
<circle cx="961.5" cy="1859.7" r="3.2" fill="#8c0a0a"/>
<circle cx="969.1" cy="1863.8" r="3.2" fill="#8c0a0a"/>
<circle cx="969.1" cy="1870.0" r="3.2" fill="#8c0a0a"/>
<circle cx="961.5" cy="1873.5" r="3.2" fill="#8c0a0a"/>
<circle cx="946.5" cy="1887.8" r="3.2" fill="#8c0a0a"/>
<circle cx="953.6" cy="1890.1" r="3.2" fill="#8c0a0a"/>
<circle cx="961.5" cy="1888.2" r="3.2" fill="#8c0a0a"/>
<circle cx="969.1" cy="1887.8" r="3.2" fill="#8c0a0a"/>
<circle cx="976.2" cy="1885.9" r="3.2" fill="#8c0a0a"/>
<circle cx="953.6" cy="1896.5" r="3.2" fill="#8c0a0a"/>
<circle cx="961.5" cy="1895.8" r="3.2" fill="#8c0a0a"/>
<circle cx="961.5" cy="1903.7" r="3.2" fill="#8c0a0a"/>
<circle cx="969.1" cy="1902.0" r="3.2" fill="#8c0a0a"/>
<circle cx="946.5" cy="1916.3" r="3.2" fill="#8c0a0a"/>
<circle cx="953.6" cy="1914.8" r="3.2" fill="#8c0a0a"/>
<circle cx="961.5" cy="1916.3" r="3.2" fill="#8c0a0a"/>
<circle cx="969.1" cy="1916.3" r="3.2" fill="#8c0a0a"/>
<circle cx="976.2" cy="1919.1" r="3.2" fill="#8c0a0a"/>
<polyline points="999.5,1924.0 999.5,1893.4 1032.9,1893.4 1032.9,1924.0" fill="none" stroke="#1e82e6" stroke-width="2.9" stroke-linejoin="miter"/>
<line x1="1016.2" y1="1886.2" x2="1016.2" y2="1897.9" stroke="#1e82e6" stroke-width="1.6"/>
<line x1="1006.7" y1="1886.2" x2="1025.7" y2="1886.2" stroke="#1e82e6" stroke-width="1.6"/>
<line x1="1006.7" y1="1897.9" x2="1025.7" y2="1897.9" stroke="#1e82e6" stroke-width="1.6"/>
<circle cx="1016.1" cy="1823.6" r="3.2" fill="#1e82e6"/>
<circle cx="1013.5" cy="1847.9" r="3.2" fill="#1e82e6"/>
<circle cx="1018.4" cy="1848.6" r="3.2" fill="#1e82e6"/>
<circle cx="1009.4" cy="1859.0" r="3.2" fill="#1e82e6"/>
<circle cx="1016.1" cy="1863.3" r="3.2" fill="#1e82e6"/>
<circle cx="1023.2" cy="1862.6" r="3.2" fill="#1e82e6"/>
<circle cx="1016.1" cy="1873.5" r="3.2" fill="#1e82e6"/>
<circle cx="1016.1" cy="1884.7" r="3.2" fill="#1e82e6"/>
<circle cx="1016.1" cy="1895.4" r="3.2" fill="#1e82e6"/>
<circle cx="1009.4" cy="1902.5" r="3.2" fill="#1e82e6"/>
<circle cx="1023.2" cy="1902.5" r="3.2" fill="#1e82e6"/>
<circle cx="1003.5" cy="1909.1" r="3.2" fill="#1e82e6"/>
<circle cx="1011.8" cy="1907.2" r="3.2" fill="#1e82e6"/>
<circle cx="1020.1" cy="1904.9" r="3.2" fill="#1e82e6"/>
<circle cx="1029.6" cy="1903.7" r="3.2" fill="#1e82e6"/>
<circle cx="1009.4" cy="1913.9" r="3.2" fill="#1e82e6"/>
<circle cx="1016.5" cy="1912.0" r="3.2" fill="#1e82e6"/>
<circle cx="1024.9" cy="1910.8" r="3.2" fill="#1e82e6"/>
<circle cx="1001.1" cy="1916.7" r="3.2" fill="#1e82e6"/>
<circle cx="1011.8" cy="1915.5" r="3.2" fill="#1e82e6"/>
<circle cx="1027.2" cy="1916.7" r="3.2" fill="#1e82e6"/>
<circle cx="1018.9" cy="1919.6" r="3.2" fill="#1e82e6"/>
<polyline points="1054.7,1924.0 1054.7,1895.2 1088.1,1895.2 1088.1,1924.0" fill="none" stroke="#50821e" stroke-width="2.9" stroke-linejoin="miter"/>
<line x1="1071.4" y1="1887.3" x2="1071.4" y2="1899.4" stroke="#50821e" stroke-width="1.6"/>
<line x1="1061.9" y1="1887.3" x2="1080.9" y2="1887.3" stroke="#50821e" stroke-width="1.6"/>
<line x1="1061.9" y1="1899.4" x2="1080.9" y2="1899.4" stroke="#50821e" stroke-width="1.6"/>
<circle cx="1071.6" cy="1805.8" r="3.2" fill="#50821e"/>
<circle cx="1075.2" cy="1838.4" r="3.2" fill="#50821e"/>
<circle cx="1071.2" cy="1843.6" r="3.2" fill="#50821e"/>
<circle cx="1067.6" cy="1865.7" r="3.2" fill="#50821e"/>
<circle cx="1074.7" cy="1865.7" r="3.2" fill="#50821e"/>
<circle cx="1071.2" cy="1868.8" r="3.2" fill="#50821e"/>
<circle cx="1067.6" cy="1883.5" r="3.2" fill="#50821e"/>
<circle cx="1067.6" cy="1893.0" r="3.2" fill="#50821e"/>
<circle cx="1074.7" cy="1896.5" r="3.2" fill="#50821e"/>
<circle cx="1059.8" cy="1911.5" r="3.2" fill="#50821e"/>
<circle cx="1067.6" cy="1911.5" r="3.2" fill="#50821e"/>
<circle cx="1084.2" cy="1910.8" r="3.2" fill="#50821e"/>
<circle cx="1056.9" cy="1916.7" r="3.2" fill="#50821e"/>
<circle cx="1064.0" cy="1915.5" r="3.2" fill="#50821e"/>
<circle cx="1071.2" cy="1916.7" r="3.2" fill="#50821e"/>
<circle cx="1077.1" cy="1915.5" r="3.2" fill="#50821e"/>
<circle cx="1059.8" cy="1921.5" r="3.2" fill="#50821e"/>
<circle cx="1075.2" cy="1922.7" r="3.2" fill="#50821e"/>
<circle cx="1083.0" cy="1921.0" r="3.2" fill="#50821e"/>
<polyline points="1109.2,1924.0 1109.2,1837.2 1143.0,1837.2 1143.0,1924.0" fill="none" stroke="#000" stroke-width="2.5" stroke-linejoin="miter"/>
<line x1="1126.1" y1="1825.0" x2="1126.1" y2="1846.5" stroke="#000" stroke-width="1.6"/>
<line x1="1116.6" y1="1825.0" x2="1135.6" y2="1825.0" stroke="#000" stroke-width="1.6"/>
<line x1="1116.6" y1="1846.5" x2="1135.6" y2="1846.5" stroke="#000" stroke-width="1.6"/>
<circle cx="1123.1" cy="1733.6" r="3.2" fill="#000"/>
<circle cx="1126.1" cy="1727.9" r="3.2" fill="#000"/>
<circle cx="1129.9" cy="1737.0" r="3.2" fill="#000"/>
<circle cx="1126.5" cy="1764.3" r="3.2" fill="#000"/>
<circle cx="1126.5" cy="1777.1" r="3.2" fill="#000"/>
<circle cx="1126.5" cy="1794.0" r="3.2" fill="#000"/>
<circle cx="1126.5" cy="1802.7" r="3.2" fill="#000"/>
<circle cx="1126.5" cy="1808.7" r="3.2" fill="#000"/>
<circle cx="1118.7" cy="1827.7" r="3.2" fill="#000"/>
<circle cx="1126.5" cy="1824.6" r="3.2" fill="#000"/>
<circle cx="1133.6" cy="1825.3" r="3.2" fill="#000"/>
<circle cx="1122.2" cy="1847.4" r="3.2" fill="#000"/>
<circle cx="1130.5" cy="1844.8" r="3.2" fill="#000"/>
<circle cx="1130.5" cy="1856.2" r="3.2" fill="#000"/>
<circle cx="1122.2" cy="1860.9" r="3.2" fill="#000"/>
<circle cx="1118.7" cy="1871.6" r="3.2" fill="#000"/>
<circle cx="1141.2" cy="1871.6" r="3.2" fill="#000"/>
<circle cx="1111.5" cy="1876.8" r="3.2" fill="#000"/>
<circle cx="1118.7" cy="1877.5" r="3.2" fill="#000"/>
<circle cx="1126.5" cy="1875.6" r="3.2" fill="#000"/>
<circle cx="1141.2" cy="1877.5" r="3.2" fill="#000"/>
<circle cx="1118.7" cy="1889.4" r="3.2" fill="#000"/>
<circle cx="1133.6" cy="1894.9" r="3.2" fill="#000"/>
<circle cx="1126.5" cy="1897.7" r="3.2" fill="#000"/>
<circle cx="1126.5" cy="1916.3" r="3.2" fill="#000"/>
<polyline points="1164.4,1924.0 1164.4,1882.2 1198.2,1882.2 1198.2,1924.0" fill="none" stroke="#8c0a0a" stroke-width="2.5" stroke-linejoin="miter"/>
<line x1="1181.3" y1="1871.1" x2="1181.3" y2="1890.0" stroke="#8c0a0a" stroke-width="1.6"/>
<line x1="1171.8" y1="1871.1" x2="1190.8" y2="1871.1" stroke="#8c0a0a" stroke-width="1.6"/>
<line x1="1171.8" y1="1890.0" x2="1190.8" y2="1890.0" stroke="#8c0a0a" stroke-width="1.6"/>
<circle cx="1181.1" cy="1775.9" r="3.2" fill="#8c0a0a"/>
<circle cx="1176.4" cy="1864.5" r="3.2" fill="#8c0a0a"/>
<circle cx="1186.3" cy="1863.3" r="3.2" fill="#8c0a0a"/>
<circle cx="1176.4" cy="1875.6" r="3.2" fill="#8c0a0a"/>
<circle cx="1166.2" cy="1885.9" r="3.2" fill="#8c0a0a"/>
<circle cx="1176.4" cy="1885.9" r="3.2" fill="#8c0a0a"/>
<circle cx="1186.3" cy="1882.3" r="3.2" fill="#8c0a0a"/>
<circle cx="1186.3" cy="1889.4" r="3.2" fill="#8c0a0a"/>
<circle cx="1166.2" cy="1900.1" r="3.2" fill="#8c0a0a"/>
<circle cx="1176.4" cy="1901.3" r="3.2" fill="#8c0a0a"/>
<circle cx="1186.3" cy="1900.1" r="3.2" fill="#8c0a0a"/>
<circle cx="1197.0" cy="1904.1" r="3.2" fill="#8c0a0a"/>
<circle cx="1181.1" cy="1912.0" r="3.2" fill="#8c0a0a"/>
<polyline points="1219.4,1924.0 1219.4,1796.7 1252.8,1796.7 1252.8,1924.0" fill="none" stroke="#1e82e6" stroke-width="2.9" stroke-linejoin="miter"/>
<line x1="1236.1" y1="1774.0" x2="1236.1" y2="1815.6" stroke="#1e82e6" stroke-width="1.6"/>
<line x1="1226.6" y1="1774.0" x2="1245.6" y2="1774.0" stroke="#1e82e6" stroke-width="1.6"/>
<line x1="1226.6" y1="1815.6" x2="1245.6" y2="1815.6" stroke="#1e82e6" stroke-width="1.6"/>
<circle cx="1236.1" cy="1601.7" r="3.2" fill="#1e82e6"/>
<circle cx="1236.1" cy="1634.2" r="3.2" fill="#1e82e6"/>
<circle cx="1236.1" cy="1721.1" r="3.2" fill="#1e82e6"/>
<circle cx="1236.1" cy="1733.6" r="3.2" fill="#1e82e6"/>
<circle cx="1236.7" cy="1781.8" r="3.2" fill="#1e82e6"/>
<circle cx="1236.7" cy="1793.2" r="3.2" fill="#1e82e6"/>
<circle cx="1236.7" cy="1816.3" r="3.2" fill="#1e82e6"/>
<circle cx="1221.2" cy="1830.1" r="3.2" fill="#1e82e6"/>
<circle cx="1231.5" cy="1830.5" r="3.2" fill="#1e82e6"/>
<circle cx="1241.7" cy="1828.9" r="3.2" fill="#1e82e6"/>
<circle cx="1251.6" cy="1827.7" r="3.2" fill="#1e82e6"/>
<circle cx="1236.7" cy="1837.2" r="3.2" fill="#1e82e6"/>
<circle cx="1236.7" cy="1844.3" r="3.2" fill="#1e82e6"/>
<circle cx="1231.5" cy="1875.2" r="3.2" fill="#1e82e6"/>
<circle cx="1241.7" cy="1875.2" r="3.2" fill="#1e82e6"/>
<circle cx="1236.7" cy="1887.0" r="3.2" fill="#1e82e6"/>
<polyline points="1274.5,1924.0 1274.5,1808.8 1307.9,1808.8 1307.9,1924.0" fill="none" stroke="#50821e" stroke-width="2.9" stroke-linejoin="miter"/>
<line x1="1291.2" y1="1788.4" x2="1291.2" y2="1825.0" stroke="#50821e" stroke-width="1.6"/>
<line x1="1281.7" y1="1788.4" x2="1300.7" y2="1788.4" stroke="#50821e" stroke-width="1.6"/>
<line x1="1281.7" y1="1825.0" x2="1300.7" y2="1825.0" stroke="#50821e" stroke-width="1.6"/>
<circle cx="1291.2" cy="1623.6" r="3.2" fill="#50821e"/>
<circle cx="1285.6" cy="1743.8" r="3.2" fill="#50821e"/>
<circle cx="1298.0" cy="1742.3" r="3.2" fill="#50821e"/>
<circle cx="1291.8" cy="1764.3" r="3.2" fill="#50821e"/>
<circle cx="1291.8" cy="1779.5" r="3.2" fill="#50821e"/>
<circle cx="1291.8" cy="1790.9" r="3.2" fill="#50821e"/>
<circle cx="1285.4" cy="1819.4" r="3.2" fill="#50821e"/>
<circle cx="1298.0" cy="1817.7" r="3.2" fill="#50821e"/>
<circle cx="1285.4" cy="1830.5" r="3.2" fill="#50821e"/>
<circle cx="1298.0" cy="1832.4" r="3.2" fill="#50821e"/>
<circle cx="1291.8" cy="1844.3" r="3.2" fill="#50821e"/>
<circle cx="1298.0" cy="1854.3" r="3.2" fill="#50821e"/>
<circle cx="1285.4" cy="1859.3" r="3.2" fill="#50821e"/>
<circle cx="1285.4" cy="1901.3" r="3.2" fill="#50821e"/>
<circle cx="1298.0" cy="1901.3" r="3.2" fill="#50821e"/>
<line x1="857.9" y1="1924.0" x2="1327.9" y2="1924.0" stroke="#333" stroke-width="1.5"/>
<polyline points="960.7,1534.1 960.7,1517.1 1180.9,1517.1 1180.9,1532.2" fill="none" stroke="#000" stroke-width="3.3" stroke-linejoin="miter"/>
<text x="1064.5" y="1506.9">NS</text>
<polyline points="962.9,1587.8 962.9,1569.2 1038.1,1569.2 1038.1,1589.6" fill="none" stroke="#000" stroke-width="3.3" stroke-linejoin="miter"/>
<text x="984.0" y="1558.7">NS</text>
<polyline points="1017.3,1675.0 1017.3,1589.6 1071.0,1589.6 1071.0,1675.0" fill="none" stroke="#000" stroke-width="3.3" stroke-linejoin="miter"/>
<polyline points="1184.3,1580.2 1184.3,1561.7 1259.1,1561.7 1259.1,1580.6" fill="none" stroke="#000" stroke-width="3.3" stroke-linejoin="miter"/>
<polyline points="1231.5,1598.3 1231.5,1580.6 1284.8,1580.6 1284.8,1598.3" fill="none" stroke="#000" stroke-width="3.3" stroke-linejoin="miter"/>
<text font-size="31" x="1200.0" y="1586.3" style="letter-spacing:3.2px" stroke="#000" stroke-width="0.5">***</text>
<text font-size="31" x="1268.0" y="1584.4" style="letter-spacing:3.2px" stroke="#000" stroke-width="0.5">**</text>
<text transform="translate(1247.0 1757.0) rotate(-90)"><tspan font-style="italic">P</tspan> = 0.0002</text>
<text transform="translate(1301.4 1757.0) rotate(-90)"><tspan font-style="italic">P</tspan> = 0.0028</text>
<text text-anchor="end" transform="translate(920.9 1957.2) rotate(-45)">hApoE3<tspan font-size="18" dy="-10">Glu</tspan><tspan dy="10"> (Veh)</tspan></text>
<text text-anchor="end" transform="translate(976.9 1957.2) rotate(-45)">hAβ<tspan font-size="18" dy="8.5">1–42</tspan><tspan font-size="18" dy="-18.5"> Glu</tspan><tspan dy="10">;hApoE3</tspan><tspan font-size="18" dy="-10">Glu</tspan><tspan dy="10"> (Veh)</tspan></text>
<text text-anchor="end" transform="translate(1030.4 1957.2) rotate(-45)">hAβ<tspan font-size="18" dy="8.5">1–42</tspan><tspan font-size="18" dy="-18.5"> Glu</tspan><tspan dy="10">;hApoE3</tspan><tspan font-size="18" dy="-10">Glu</tspan><tspan dy="10"> (Kaem 0.2 mM)</tspan></text>
<text text-anchor="end" transform="translate(1080.7 1957.2) rotate(-45)">hAβ<tspan font-size="18" dy="8.5">1–42</tspan><tspan font-size="18" dy="-18.5"> Glu</tspan><tspan dy="10">;hApoE3</tspan><tspan font-size="18" dy="-10">Glu</tspan><tspan dy="10"> (Rhap 0.2 mM)</tspan></text>
<text text-anchor="end" transform="translate(1131.7 1957.2) rotate(-45)">hApoE4<tspan font-size="18" dy="-10">Glu</tspan><tspan dy="10"> (Veh)</tspan></text>
<text text-anchor="end" transform="translate(1189.3 1957.2) rotate(-45)">hAβ<tspan font-size="18" dy="8.5">1–42</tspan><tspan font-size="18" dy="-18.5"> Glu</tspan><tspan dy="10">;hApoE4</tspan><tspan font-size="18" dy="-10">Glu</tspan><tspan dy="10"> (Veh)</tspan></text>
<text text-anchor="end" transform="translate(1246.6 1957.2) rotate(-45)">hAβ<tspan font-size="18" dy="8.5">1–42</tspan><tspan font-size="18" dy="-18.5"> Glu</tspan><tspan dy="10">;hApoE4</tspan><tspan font-size="18" dy="-10">Glu</tspan><tspan dy="10"> (Kaem 0.2 mM)</tspan></text>
<text text-anchor="end" transform="translate(1304.2 1957.2) rotate(-45)">hAβ<tspan font-size="18" dy="8.5">1–42</tspan><tspan font-size="18" dy="-18.5"> Glu</tspan><tspan dy="10">;hApoE4</tspan><tspan font-size="18" dy="-10">Glu</tspan><tspan dy="10"> (Rhap 0.2 mM)</tspan></text>
<text font-weight="bold" font-size="30" x="1366.0" y="1521.8">e</text>
<line x1="1485.5" y1="1560.2" x2="1485.5" y2="1927.8" stroke="#222" stroke-width="1.5"/>
<line x1="1475.0" y1="1927.8" x2="2096.8" y2="1927.8" stroke="#222" stroke-width="1.5"/>
<line x1="1475.0" y1="1927.8" x2="1485.5" y2="1927.8" stroke="#222" stroke-width="1.5"/>
<text text-anchor="end" x="1464.7" y="1937.4">0</text>
<line x1="1475.0" y1="1834.7" x2="1485.5" y2="1834.7" stroke="#222" stroke-width="1.5"/>
<text text-anchor="end" x="1464.7" y="1844.3">0.25</text>
<line x1="1475.0" y1="1745.9" x2="1485.5" y2="1745.9" stroke="#222" stroke-width="1.5"/>
<text text-anchor="end" x="1464.7" y="1755.5">0.50</text>
<line x1="1475.0" y1="1652.8" x2="1485.5" y2="1652.8" stroke="#222" stroke-width="1.5"/>
<text text-anchor="end" x="1464.7" y="1662.4">0.75</text>
<line x1="1475.0" y1="1560.9" x2="1485.5" y2="1560.9" stroke="#222" stroke-width="1.5"/>
<text text-anchor="end" x="1464.7" y="1570.5">1.00</text>
<line x1="1485.5" y1="1927.8" x2="1485.5" y2="1937.1" stroke="#222" stroke-width="1.5"/>
<line x1="1553.3" y1="1927.8" x2="1553.3" y2="1937.1" stroke="#222" stroke-width="1.5"/>
<text text-anchor="middle" x="1553.3" y="1967.7">0.5</text>
<line x1="1621.2" y1="1927.8" x2="1621.2" y2="1937.1" stroke="#222" stroke-width="1.5"/>
<text text-anchor="middle" x="1621.2" y="1967.7">1.0</text>
<line x1="1689.0" y1="1927.8" x2="1689.0" y2="1937.1" stroke="#222" stroke-width="1.5"/>
<text text-anchor="middle" x="1689.0" y="1967.7">1.5</text>
<line x1="1756.9" y1="1927.8" x2="1756.9" y2="1937.1" stroke="#222" stroke-width="1.5"/>
<text text-anchor="middle" x="1756.9" y="1967.7">2.0</text>
<line x1="1824.8" y1="1927.8" x2="1824.8" y2="1937.1" stroke="#222" stroke-width="1.5"/>
<text text-anchor="middle" x="1824.8" y="1967.7">2.5</text>
<line x1="1892.6" y1="1927.8" x2="1892.6" y2="1937.1" stroke="#222" stroke-width="1.5"/>
<text text-anchor="middle" x="1892.6" y="1967.7">3.0</text>
<line x1="1960.4" y1="1927.8" x2="1960.4" y2="1937.1" stroke="#222" stroke-width="1.5"/>
<text text-anchor="middle" x="1960.4" y="1967.7">3.5</text>
<line x1="2028.3" y1="1927.8" x2="2028.3" y2="1937.1" stroke="#222" stroke-width="1.5"/>
<text text-anchor="middle" x="2028.3" y="1967.7">4.0</text>
<line x1="2096.2" y1="1927.8" x2="2096.2" y2="1937.1" stroke="#222" stroke-width="1.5"/>
<text text-anchor="middle" x="2093.2" y="1967.7">4.5</text>
<text text-anchor="middle" x="1789.7" y="2008.3">Time (h)</text>
<text text-anchor="middle" transform="translate(1388.2 1744.0) rotate(-90)">Ratio moving</text>
<polyline points="1485.5,1560.9 1553.3,1633.2 1621.2,1824.0 1689.0,1897.0 1756.9,1927.8" fill="none" stroke="#c0c0c0" stroke-width="3.8" stroke-linejoin="round"/>
<polyline points="1485.5,1560.9 1553.3,1599.4 1621.2,1742.1 1689.0,1866.2 1756.9,1927.8" fill="none" stroke="#c00000" stroke-width="3.8" stroke-linejoin="round"/>
<polyline points="1485.5,1560.9 1553.3,1560.9 1621.2,1700.0 1689.0,1878.3 1756.9,1912.0 1824.8,1927.8" fill="none" stroke="#ffb400" stroke-width="3.8" stroke-linejoin="round"/>
<polyline points="1485.5,1560.9 1553.3,1568.2 1621.2,1655.9 1689.0,1781.8 1756.9,1885.6 1824.8,1896.2 1892.6,1920.1 1960.4,1927.8" fill="none" stroke="#00b050" stroke-width="3.8" stroke-linejoin="round"/>
<polyline points="1485.5,1560.9 1553.3,1591.0 1621.2,1754.3 1689.0,1870.9 1756.9,1896.6 1824.8,1896.6 1892.6,1927.8" fill="none" stroke="#000000" stroke-width="3.8" stroke-linejoin="round"/>
<polyline points="1485.5,1560.9 1553.3,1560.9 1621.2,1568.2 1689.0,1656.3 1756.9,1765.3 1824.8,1830.9 1892.6,1885.6 1960.4,1896.6 2028.3,1927.8 2096.2,1927.8" fill="none" stroke="#3c3ce6" stroke-width="3.8" stroke-linejoin="round"/>
<line x1="1750.8" y1="1540.8" x2="1806.4" y2="1540.8" stroke="#c0c0c0" stroke-width="3.8"/>
<text x="1818.0" y="1550.4">VC223 (hypersensitive)</text>
<line x1="1750.8" y1="1579.8" x2="1806.4" y2="1579.8" stroke="#c00000" stroke-width="3.8"/>
<text x="1818.0" y="1589.0">hAβ<tspan font-size="18" dy="8.5">1–42</tspan><tspan dy="-8.5"> (Veh)</tspan></text>
<line x1="1750.8" y1="1619.2" x2="1806.4" y2="1619.2" stroke="#ffb400" stroke-width="3.8"/>
<text x="1818.0" y="1628.0">hAβ<tspan font-size="18" dy="8.5">1–42</tspan><tspan dy="-8.5"> (Kaem 0.2 mM)</tspan></text>
<line x1="1750.8" y1="1659.5" x2="1806.4" y2="1659.5" stroke="#6e9b34" stroke-width="3.8"/>
<text x="1818.0" y="1667.9">hAβ<tspan font-size="18" dy="8.5">1–42</tspan><tspan dy="-8.5"> (Rhap 0.2 mM)</tspan></text>
<line x1="1750.8" y1="1698.5" x2="1806.4" y2="1698.5" stroke="#000" stroke-width="3.8"/>
<text x="1818.0" y="1706.4">WT (Veh)</text>
<line x1="1750.8" y1="1746.3" x2="1806.4" y2="1746.3" stroke="#5b9bd5" stroke-width="3.8"/>
<text x="1818.0" y="1755.5">NM204 (resistant)</text>
<line x1="1873.8" y1="1795.7" x2="1924.1" y2="1795.7" stroke="#ffb400" stroke-width="3.8"/>
<line x1="1873.8" y1="1830.1" x2="1924.1" y2="1830.1" stroke="#c00000" stroke-width="3.8"/>
<line x1="1873.8" y1="1865.4" x2="1924.1" y2="1865.4" stroke="#6e9b34" stroke-width="3.8"/>
<polyline points="1940.5,1795.7 1973.2,1795.7 1973.2,1865.4 1940.5,1865.4" fill="none" stroke="#000" stroke-width="3.6" stroke-linejoin="miter"/>
<line x1="1940.5" y1="1830.1" x2="1973.2" y2="1830.1" stroke="#000" stroke-width="3.6"/>
<text x="1985.8" y="1816.7">NS</text>
<text font-size="31" x="1929.8" y="1864.7" style="letter-spacing:3.2px" stroke="#000" stroke-width="0.5">***</text>
<text x="1987.8" y="1856.6" textLength="111" lengthAdjust="spacing"><tspan font-style="italic">P</tspan> = 0.001</text>
</svg>
</body></html>
